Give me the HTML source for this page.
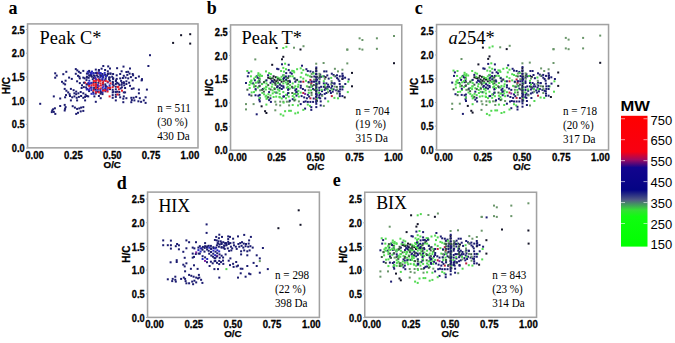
<!DOCTYPE html>
<html><head><meta charset="utf-8"><style>
html,body{margin:0;padding:0;background:#fff;}
svg{display:block;}
</style></head><body>
<svg width="675" height="343" viewBox="0 0 675 343">
<rect width="675" height="343" fill="#ffffff"/>
<text x="8.6" y="13.7" font-family='"Liberation Serif", serif' font-weight="bold" font-size="18">a</text>
<text x="206.8" y="13.9" font-family='"Liberation Serif", serif' font-weight="bold" font-size="18">b</text>
<text x="414.8" y="13.9" font-family='"Liberation Serif", serif' font-weight="bold" font-size="18">c</text>
<text x="116.8" y="189.0" font-family='"Liberation Serif", serif' font-weight="bold" font-size="18">d</text>
<text x="332.8" y="186.4" font-family='"Liberation Serif", serif' font-weight="bold" font-size="18">e</text>
<text transform="translate(39.6,43.6) scale(0.968,1)" font-family='"Liberation Serif", serif' font-size="19">Peak C*</text>
<text transform="translate(241.6,43.8) scale(0.968,1)" font-family='"Liberation Serif", serif' font-size="19">Peak T*</text>
<text transform="translate(448.5,43.6) scale(0.972,1)" font-family='"Liberation Serif", serif' font-size="19"><tspan font-style="italic">a</tspan>254*</text>
<text transform="translate(158.4,211.8) scale(0.94,1)" font-family='"Liberation Serif", serif' font-size="19">HIX</text>
<text transform="translate(376.2,209.3) scale(0.94,1)" font-family='"Liberation Serif", serif' font-size="19">BIX</text>
<text transform="translate(157.2,111.80) scale(0.96,1)" font-family='"Liberation Serif", serif' font-size="11.6">n = 511</text>
<text transform="translate(157.2,125.70) scale(0.96,1)" font-family='"Liberation Serif", serif' font-size="11.6">(30 %)</text>
<text transform="translate(157.2,139.60) scale(0.96,1)" font-family='"Liberation Serif", serif' font-size="11.6">430 Da</text>
<text transform="translate(355.4,114.50) scale(0.96,1)" font-family='"Liberation Serif", serif' font-size="11.6">n = 704</text>
<text transform="translate(355.4,128.40) scale(0.96,1)" font-family='"Liberation Serif", serif' font-size="11.6">(19 %)</text>
<text transform="translate(355.4,142.30) scale(0.96,1)" font-family='"Liberation Serif", serif' font-size="11.6">315 Da</text>
<text transform="translate(563.0,114.80) scale(0.96,1)" font-family='"Liberation Serif", serif' font-size="11.6">n = 718</text>
<text transform="translate(563.0,128.70) scale(0.96,1)" font-family='"Liberation Serif", serif' font-size="11.6">(20 %)</text>
<text transform="translate(563.0,142.60) scale(0.96,1)" font-family='"Liberation Serif", serif' font-size="11.6">317 Da</text>
<text transform="translate(275.0,279.20) scale(0.96,1)" font-family='"Liberation Serif", serif' font-size="11.6">n = 298</text>
<text transform="translate(275.0,293.10) scale(0.96,1)" font-family='"Liberation Serif", serif' font-size="11.6">(22 %)</text>
<text transform="translate(275.0,307.00) scale(0.96,1)" font-family='"Liberation Serif", serif' font-size="11.6">398 Da</text>
<text transform="translate(492.2,278.70) scale(0.96,1)" font-family='"Liberation Serif", serif' font-size="11.6">n = 843</text>
<text transform="translate(492.2,292.60) scale(0.96,1)" font-family='"Liberation Serif", serif' font-size="11.6">(23 %)</text>
<text transform="translate(492.2,306.50) scale(0.96,1)" font-family='"Liberation Serif", serif' font-size="11.6">314 Da</text>
<rect x="27.55" y="23.9" width="170.45" height="123.95" fill="none" stroke="#a2a2a2" stroke-width="1.55"/>
<line x1="25.95" x2="27.55" y1="148.00" y2="148.00" stroke="#b0b0b0" stroke-width="1"/>
<text transform="translate(24.75,152.10) scale(0.9,1)" text-anchor="end" font-family='"Liberation Sans", sans-serif' font-weight="bold" font-size="10.3" stroke="#000" stroke-width="0.3">0.0</text>
<line x1="25.95" x2="27.55" y1="124.30" y2="124.30" stroke="#b0b0b0" stroke-width="1"/>
<text transform="translate(24.75,128.40) scale(0.9,1)" text-anchor="end" font-family='"Liberation Sans", sans-serif' font-weight="bold" font-size="10.3" stroke="#000" stroke-width="0.3">0.5</text>
<line x1="25.95" x2="27.55" y1="100.60" y2="100.60" stroke="#b0b0b0" stroke-width="1"/>
<text transform="translate(24.75,104.70) scale(0.9,1)" text-anchor="end" font-family='"Liberation Sans", sans-serif' font-weight="bold" font-size="10.3" stroke="#000" stroke-width="0.3">1.0</text>
<line x1="25.95" x2="27.55" y1="76.90" y2="76.90" stroke="#b0b0b0" stroke-width="1"/>
<text transform="translate(24.75,81.00) scale(0.9,1)" text-anchor="end" font-family='"Liberation Sans", sans-serif' font-weight="bold" font-size="10.3" stroke="#000" stroke-width="0.3">1.5</text>
<line x1="25.95" x2="27.55" y1="53.20" y2="53.20" stroke="#b0b0b0" stroke-width="1"/>
<text transform="translate(24.75,57.30) scale(0.9,1)" text-anchor="end" font-family='"Liberation Sans", sans-serif' font-weight="bold" font-size="10.3" stroke="#000" stroke-width="0.3">2.0</text>
<line x1="25.95" x2="27.55" y1="29.50" y2="29.50" stroke="#b0b0b0" stroke-width="1"/>
<text transform="translate(24.75,33.60) scale(0.9,1)" text-anchor="end" font-family='"Liberation Sans", sans-serif' font-weight="bold" font-size="10.3" stroke="#000" stroke-width="0.3">2.5</text>
<text transform="translate(34.54,158.95) scale(0.93,1)" text-anchor="middle" font-family='"Liberation Sans", sans-serif' font-weight="bold" font-size="10.3" stroke="#000" stroke-width="0.3">0.00</text>
<text transform="translate(73.39,158.95) scale(0.93,1)" text-anchor="middle" font-family='"Liberation Sans", sans-serif' font-weight="bold" font-size="10.3" stroke="#000" stroke-width="0.3">0.25</text>
<text transform="translate(112.23,158.95) scale(0.93,1)" text-anchor="middle" font-family='"Liberation Sans", sans-serif' font-weight="bold" font-size="10.3" stroke="#000" stroke-width="0.3">0.50</text>
<text transform="translate(151.08,158.95) scale(0.93,1)" text-anchor="middle" font-family='"Liberation Sans", sans-serif' font-weight="bold" font-size="10.3" stroke="#000" stroke-width="0.3">0.75</text>
<text transform="translate(189.92,158.95) scale(0.93,1)" text-anchor="middle" font-family='"Liberation Sans", sans-serif' font-weight="bold" font-size="10.3" stroke="#000" stroke-width="0.3">1.00</text>
<text x="112.23" y="167.55" text-anchor="middle" font-family='"Liberation Sans", sans-serif' font-weight="bold" font-size="9.8" stroke="#000" stroke-width="0.25">O/C</text>
<text transform="translate(9.90,85.70) rotate(-90)" text-anchor="middle" font-family='"Liberation Sans", sans-serif' font-weight="bold" font-size="10" stroke="#000" stroke-width="0.25">H/C</text>
<rect x="230.55" y="24.9" width="171.20" height="125.35" fill="none" stroke="#a2a2a2" stroke-width="1.55"/>
<line x1="228.95" x2="230.55" y1="150.30" y2="150.30" stroke="#b0b0b0" stroke-width="1"/>
<text transform="translate(227.75,154.40) scale(0.9,1)" text-anchor="end" font-family='"Liberation Sans", sans-serif' font-weight="bold" font-size="10.3" stroke="#000" stroke-width="0.3">0.0</text>
<line x1="228.95" x2="230.55" y1="126.60" y2="126.60" stroke="#b0b0b0" stroke-width="1"/>
<text transform="translate(227.75,130.70) scale(0.9,1)" text-anchor="end" font-family='"Liberation Sans", sans-serif' font-weight="bold" font-size="10.3" stroke="#000" stroke-width="0.3">0.5</text>
<line x1="228.95" x2="230.55" y1="102.90" y2="102.90" stroke="#b0b0b0" stroke-width="1"/>
<text transform="translate(227.75,107.00) scale(0.9,1)" text-anchor="end" font-family='"Liberation Sans", sans-serif' font-weight="bold" font-size="10.3" stroke="#000" stroke-width="0.3">1.0</text>
<line x1="228.95" x2="230.55" y1="79.20" y2="79.20" stroke="#b0b0b0" stroke-width="1"/>
<text transform="translate(227.75,83.30) scale(0.9,1)" text-anchor="end" font-family='"Liberation Sans", sans-serif' font-weight="bold" font-size="10.3" stroke="#000" stroke-width="0.3">1.5</text>
<line x1="228.95" x2="230.55" y1="55.50" y2="55.50" stroke="#b0b0b0" stroke-width="1"/>
<text transform="translate(227.75,59.60) scale(0.9,1)" text-anchor="end" font-family='"Liberation Sans", sans-serif' font-weight="bold" font-size="10.3" stroke="#000" stroke-width="0.3">2.0</text>
<line x1="228.95" x2="230.55" y1="31.80" y2="31.80" stroke="#b0b0b0" stroke-width="1"/>
<text transform="translate(227.75,35.90) scale(0.9,1)" text-anchor="end" font-family='"Liberation Sans", sans-serif' font-weight="bold" font-size="10.3" stroke="#000" stroke-width="0.3">2.5</text>
<text transform="translate(237.57,160.85) scale(0.93,1)" text-anchor="middle" font-family='"Liberation Sans", sans-serif' font-weight="bold" font-size="10.3" stroke="#000" stroke-width="0.3">0.00</text>
<text transform="translate(276.59,160.85) scale(0.93,1)" text-anchor="middle" font-family='"Liberation Sans", sans-serif' font-weight="bold" font-size="10.3" stroke="#000" stroke-width="0.3">0.25</text>
<text transform="translate(315.60,160.85) scale(0.93,1)" text-anchor="middle" font-family='"Liberation Sans", sans-serif' font-weight="bold" font-size="10.3" stroke="#000" stroke-width="0.3">0.50</text>
<text transform="translate(354.62,160.85) scale(0.93,1)" text-anchor="middle" font-family='"Liberation Sans", sans-serif' font-weight="bold" font-size="10.3" stroke="#000" stroke-width="0.3">0.75</text>
<text transform="translate(393.63,160.85) scale(0.93,1)" text-anchor="middle" font-family='"Liberation Sans", sans-serif' font-weight="bold" font-size="10.3" stroke="#000" stroke-width="0.3">1.00</text>
<text x="315.60" y="169.95" text-anchor="middle" font-family='"Liberation Sans", sans-serif' font-weight="bold" font-size="9.8" stroke="#000" stroke-width="0.25">O/C</text>
<text transform="translate(212.50,87.30) rotate(-90)" text-anchor="middle" font-family='"Liberation Sans", sans-serif' font-weight="bold" font-size="10" stroke="#000" stroke-width="0.25">H/C</text>
<rect x="436.55" y="24.55" width="172.00" height="125.50" fill="none" stroke="#a2a2a2" stroke-width="1.55"/>
<line x1="434.95" x2="436.55" y1="149.80" y2="149.80" stroke="#b0b0b0" stroke-width="1"/>
<text transform="translate(433.75,153.90) scale(0.9,1)" text-anchor="end" font-family='"Liberation Sans", sans-serif' font-weight="bold" font-size="10.3" stroke="#000" stroke-width="0.3">0.0</text>
<line x1="434.95" x2="436.55" y1="126.10" y2="126.10" stroke="#b0b0b0" stroke-width="1"/>
<text transform="translate(433.75,130.20) scale(0.9,1)" text-anchor="end" font-family='"Liberation Sans", sans-serif' font-weight="bold" font-size="10.3" stroke="#000" stroke-width="0.3">0.5</text>
<line x1="434.95" x2="436.55" y1="102.40" y2="102.40" stroke="#b0b0b0" stroke-width="1"/>
<text transform="translate(433.75,106.50) scale(0.9,1)" text-anchor="end" font-family='"Liberation Sans", sans-serif' font-weight="bold" font-size="10.3" stroke="#000" stroke-width="0.3">1.0</text>
<line x1="434.95" x2="436.55" y1="78.70" y2="78.70" stroke="#b0b0b0" stroke-width="1"/>
<text transform="translate(433.75,82.80) scale(0.9,1)" text-anchor="end" font-family='"Liberation Sans", sans-serif' font-weight="bold" font-size="10.3" stroke="#000" stroke-width="0.3">1.5</text>
<line x1="434.95" x2="436.55" y1="55.00" y2="55.00" stroke="#b0b0b0" stroke-width="1"/>
<text transform="translate(433.75,59.10) scale(0.9,1)" text-anchor="end" font-family='"Liberation Sans", sans-serif' font-weight="bold" font-size="10.3" stroke="#000" stroke-width="0.3">2.0</text>
<line x1="434.95" x2="436.55" y1="31.30" y2="31.30" stroke="#b0b0b0" stroke-width="1"/>
<text transform="translate(433.75,35.40) scale(0.9,1)" text-anchor="end" font-family='"Liberation Sans", sans-serif' font-weight="bold" font-size="10.3" stroke="#000" stroke-width="0.3">2.5</text>
<text transform="translate(443.61,160.65) scale(0.93,1)" text-anchor="middle" font-family='"Liberation Sans", sans-serif' font-weight="bold" font-size="10.3" stroke="#000" stroke-width="0.3">0.00</text>
<text transform="translate(482.80,160.65) scale(0.93,1)" text-anchor="middle" font-family='"Liberation Sans", sans-serif' font-weight="bold" font-size="10.3" stroke="#000" stroke-width="0.3">0.25</text>
<text transform="translate(522.00,160.65) scale(0.93,1)" text-anchor="middle" font-family='"Liberation Sans", sans-serif' font-weight="bold" font-size="10.3" stroke="#000" stroke-width="0.3">0.50</text>
<text transform="translate(561.20,160.65) scale(0.93,1)" text-anchor="middle" font-family='"Liberation Sans", sans-serif' font-weight="bold" font-size="10.3" stroke="#000" stroke-width="0.3">0.75</text>
<text transform="translate(600.40,160.65) scale(0.93,1)" text-anchor="middle" font-family='"Liberation Sans", sans-serif' font-weight="bold" font-size="10.3" stroke="#000" stroke-width="0.3">1.00</text>
<text x="522.00" y="169.75" text-anchor="middle" font-family='"Liberation Sans", sans-serif' font-weight="bold" font-size="9.8" stroke="#000" stroke-width="0.25">O/C</text>
<text transform="translate(418.40,86.40) rotate(-90)" text-anchor="middle" font-family='"Liberation Sans", sans-serif' font-weight="bold" font-size="10" stroke="#000" stroke-width="0.25">H/C</text>
<rect x="147.55" y="192.1" width="171.85" height="125.30" fill="none" stroke="#a2a2a2" stroke-width="1.55"/>
<line x1="145.95" x2="147.55" y1="317.50" y2="317.50" stroke="#b0b0b0" stroke-width="1"/>
<text transform="translate(144.75,321.60) scale(0.9,1)" text-anchor="end" font-family='"Liberation Sans", sans-serif' font-weight="bold" font-size="10.3" stroke="#000" stroke-width="0.3">0.0</text>
<line x1="145.95" x2="147.55" y1="293.80" y2="293.80" stroke="#b0b0b0" stroke-width="1"/>
<text transform="translate(144.75,297.90) scale(0.9,1)" text-anchor="end" font-family='"Liberation Sans", sans-serif' font-weight="bold" font-size="10.3" stroke="#000" stroke-width="0.3">0.5</text>
<line x1="145.95" x2="147.55" y1="270.10" y2="270.10" stroke="#b0b0b0" stroke-width="1"/>
<text transform="translate(144.75,274.20) scale(0.9,1)" text-anchor="end" font-family='"Liberation Sans", sans-serif' font-weight="bold" font-size="10.3" stroke="#000" stroke-width="0.3">1.0</text>
<line x1="145.95" x2="147.55" y1="246.40" y2="246.40" stroke="#b0b0b0" stroke-width="1"/>
<text transform="translate(144.75,250.50) scale(0.9,1)" text-anchor="end" font-family='"Liberation Sans", sans-serif' font-weight="bold" font-size="10.3" stroke="#000" stroke-width="0.3">1.5</text>
<line x1="145.95" x2="147.55" y1="222.70" y2="222.70" stroke="#b0b0b0" stroke-width="1"/>
<text transform="translate(144.75,226.80) scale(0.9,1)" text-anchor="end" font-family='"Liberation Sans", sans-serif' font-weight="bold" font-size="10.3" stroke="#000" stroke-width="0.3">2.0</text>
<line x1="145.95" x2="147.55" y1="199.00" y2="199.00" stroke="#b0b0b0" stroke-width="1"/>
<text transform="translate(144.75,203.10) scale(0.9,1)" text-anchor="end" font-family='"Liberation Sans", sans-serif' font-weight="bold" font-size="10.3" stroke="#000" stroke-width="0.3">2.5</text>
<text transform="translate(154.60,328.00) scale(0.93,1)" text-anchor="middle" font-family='"Liberation Sans", sans-serif' font-weight="bold" font-size="10.3" stroke="#000" stroke-width="0.3">0.00</text>
<text transform="translate(193.76,328.00) scale(0.93,1)" text-anchor="middle" font-family='"Liberation Sans", sans-serif' font-weight="bold" font-size="10.3" stroke="#000" stroke-width="0.3">0.25</text>
<text transform="translate(232.93,328.00) scale(0.93,1)" text-anchor="middle" font-family='"Liberation Sans", sans-serif' font-weight="bold" font-size="10.3" stroke="#000" stroke-width="0.3">0.50</text>
<text transform="translate(272.09,328.00) scale(0.93,1)" text-anchor="middle" font-family='"Liberation Sans", sans-serif' font-weight="bold" font-size="10.3" stroke="#000" stroke-width="0.3">0.75</text>
<text transform="translate(311.25,328.00) scale(0.93,1)" text-anchor="middle" font-family='"Liberation Sans", sans-serif' font-weight="bold" font-size="10.3" stroke="#000" stroke-width="0.3">1.00</text>
<text x="232.93" y="337.10" text-anchor="middle" font-family='"Liberation Sans", sans-serif' font-weight="bold" font-size="9.8" stroke="#000" stroke-width="0.25">O/C</text>
<text transform="translate(129.60,254.20) rotate(-90)" text-anchor="middle" font-family='"Liberation Sans", sans-serif' font-weight="bold" font-size="10" stroke="#000" stroke-width="0.25">H/C</text>
<rect x="364.75" y="192.25" width="171.80" height="125.05" fill="none" stroke="#a2a2a2" stroke-width="1.55"/>
<line x1="363.15" x2="364.75" y1="317.60" y2="317.60" stroke="#b0b0b0" stroke-width="1"/>
<text transform="translate(361.95,321.70) scale(0.9,1)" text-anchor="end" font-family='"Liberation Sans", sans-serif' font-weight="bold" font-size="10.3" stroke="#000" stroke-width="0.3">0.0</text>
<line x1="363.15" x2="364.75" y1="293.90" y2="293.90" stroke="#b0b0b0" stroke-width="1"/>
<text transform="translate(361.95,298.00) scale(0.9,1)" text-anchor="end" font-family='"Liberation Sans", sans-serif' font-weight="bold" font-size="10.3" stroke="#000" stroke-width="0.3">0.5</text>
<line x1="363.15" x2="364.75" y1="270.20" y2="270.20" stroke="#b0b0b0" stroke-width="1"/>
<text transform="translate(361.95,274.30) scale(0.9,1)" text-anchor="end" font-family='"Liberation Sans", sans-serif' font-weight="bold" font-size="10.3" stroke="#000" stroke-width="0.3">1.0</text>
<line x1="363.15" x2="364.75" y1="246.50" y2="246.50" stroke="#b0b0b0" stroke-width="1"/>
<text transform="translate(361.95,250.60) scale(0.9,1)" text-anchor="end" font-family='"Liberation Sans", sans-serif' font-weight="bold" font-size="10.3" stroke="#000" stroke-width="0.3">1.5</text>
<line x1="363.15" x2="364.75" y1="222.80" y2="222.80" stroke="#b0b0b0" stroke-width="1"/>
<text transform="translate(361.95,226.90) scale(0.9,1)" text-anchor="end" font-family='"Liberation Sans", sans-serif' font-weight="bold" font-size="10.3" stroke="#000" stroke-width="0.3">2.0</text>
<line x1="363.15" x2="364.75" y1="199.10" y2="199.10" stroke="#b0b0b0" stroke-width="1"/>
<text transform="translate(361.95,203.20) scale(0.9,1)" text-anchor="end" font-family='"Liberation Sans", sans-serif' font-weight="bold" font-size="10.3" stroke="#000" stroke-width="0.3">2.5</text>
<text transform="translate(371.80,327.90) scale(0.93,1)" text-anchor="middle" font-family='"Liberation Sans", sans-serif' font-weight="bold" font-size="10.3" stroke="#000" stroke-width="0.3">0.00</text>
<text transform="translate(410.95,327.90) scale(0.93,1)" text-anchor="middle" font-family='"Liberation Sans", sans-serif' font-weight="bold" font-size="10.3" stroke="#000" stroke-width="0.3">0.25</text>
<text transform="translate(450.10,327.90) scale(0.93,1)" text-anchor="middle" font-family='"Liberation Sans", sans-serif' font-weight="bold" font-size="10.3" stroke="#000" stroke-width="0.3">0.50</text>
<text transform="translate(489.25,327.90) scale(0.93,1)" text-anchor="middle" font-family='"Liberation Sans", sans-serif' font-weight="bold" font-size="10.3" stroke="#000" stroke-width="0.3">0.75</text>
<text transform="translate(528.41,327.90) scale(0.93,1)" text-anchor="middle" font-family='"Liberation Sans", sans-serif' font-weight="bold" font-size="10.3" stroke="#000" stroke-width="0.3">1.00</text>
<text x="450.10" y="337.00" text-anchor="middle" font-family='"Liberation Sans", sans-serif' font-weight="bold" font-size="9.8" stroke="#000" stroke-width="0.25">O/C</text>
<text transform="translate(347.10,254.50) rotate(-90)" text-anchor="middle" font-family='"Liberation Sans", sans-serif' font-weight="bold" font-size="10" stroke="#000" stroke-width="0.25">H/C</text>
<rect x="180.1" y="34.2" width="2" height="2" fill="#141428"/>
<rect x="189.2" y="33.2" width="2" height="2" fill="#141428"/>
<rect x="172.1" y="41.9" width="2" height="2" fill="#141428"/>
<rect x="189.2" y="42.6" width="2" height="2" fill="#141428"/>
<rect x="149.0" y="54.2" width="2" height="2" fill="#1c1c70"/>
<rect x="147.4" y="65.0" width="2" height="2" fill="#1c1c70"/>
<rect x="141.0" y="78.6" width="2" height="2" fill="#1c1c70"/>
<rect x="54.2" y="72.3" width="2" height="2" fill="#1c1c70"/>
<rect x="55.7" y="74.6" width="2" height="2" fill="#1c1c70"/>
<rect x="54.2" y="76.7" width="2" height="2" fill="#1c1c70"/>
<rect x="62.3" y="73.2" width="2" height="2" fill="#1c1c70"/>
<rect x="65.3" y="70.8" width="2" height="2" fill="#1c1c70"/>
<rect x="68.1" y="76.6" width="2" height="2" fill="#1c1c70"/>
<rect x="70.8" y="77.9" width="2" height="2" fill="#1c1c70"/>
<rect x="74.8" y="68.1" width="2" height="2" fill="#1c1c70"/>
<rect x="76.3" y="69.4" width="2" height="2" fill="#1c1c70"/>
<rect x="77.9" y="70.8" width="2" height="2" fill="#1c1c70"/>
<rect x="79.5" y="71.9" width="2" height="2" fill="#1c1c70"/>
<rect x="74.8" y="72.8" width="2" height="2" fill="#1c1c70"/>
<rect x="77.0" y="74.8" width="2" height="2" fill="#1c1c70"/>
<rect x="78.3" y="75.7" width="2" height="2" fill="#1c1c70"/>
<rect x="82.3" y="69.9" width="2" height="2" fill="#1c1c70"/>
<rect x="88.1" y="69.9" width="2" height="2" fill="#1c1c70"/>
<rect x="78.8" y="77.4" width="2" height="2" fill="#1c1c70"/>
<rect x="82.3" y="76.6" width="2" height="2" fill="#1c1c70"/>
<rect x="85.9" y="75.7" width="2" height="2" fill="#1c1c70"/>
<rect x="102.3" y="65.0" width="2" height="2" fill="#1c1c70"/>
<rect x="107.2" y="65.4" width="2" height="2" fill="#1c1c70"/>
<rect x="100.6" y="67.7" width="2" height="2" fill="#1c1c70"/>
<rect x="109.0" y="67.5" width="2" height="2" fill="#1c1c70"/>
<rect x="94.8" y="68.6" width="2" height="2" fill="#1c1c70"/>
<rect x="97.9" y="69.0" width="2" height="2" fill="#1c1c70"/>
<rect x="104.1" y="69.0" width="2" height="2" fill="#1c1c70"/>
<rect x="106.8" y="70.3" width="2" height="2" fill="#1c1c70"/>
<rect x="116.1" y="67.2" width="2" height="2" fill="#1c1c70"/>
<rect x="122.5" y="65.6" width="2" height="2" fill="#1c1c70"/>
<rect x="129.0" y="67.5" width="2" height="2" fill="#1c1c70"/>
<rect x="120.6" y="70.3" width="2" height="2" fill="#1c1c70"/>
<rect x="125.4" y="71.0" width="2" height="2" fill="#1c1c70"/>
<rect x="127.2" y="70.8" width="2" height="2" fill="#1c1c70"/>
<rect x="112.1" y="73.0" width="2" height="2" fill="#1c1c70"/>
<rect x="115.7" y="74.3" width="2" height="2" fill="#1c1c70"/>
<rect x="119.2" y="73.0" width="2" height="2" fill="#1c1c70"/>
<rect x="122.8" y="74.8" width="2" height="2" fill="#1c1c70"/>
<rect x="126.3" y="73.9" width="2" height="2" fill="#1c1c70"/>
<rect x="128.6" y="72.6" width="2" height="2" fill="#1c1c70"/>
<rect x="131.7" y="73.0" width="2" height="2" fill="#1c1c70"/>
<rect x="132.1" y="74.3" width="2" height="2" fill="#1c1c70"/>
<rect x="134.8" y="77.0" width="2" height="2" fill="#1c1c70"/>
<rect x="137.9" y="75.5" width="2" height="2" fill="#1c1c70"/>
<rect x="141.0" y="78.2" width="2" height="2" fill="#1c1c70"/>
<rect x="89.9" y="73.0" width="2" height="2" fill="#1c1c70"/>
<rect x="92.6" y="72.1" width="2" height="2" fill="#1c1c70"/>
<rect x="95.7" y="71.7" width="2" height="2" fill="#1c1c70"/>
<rect x="98.8" y="72.6" width="2" height="2" fill="#1c1c70"/>
<rect x="101.4" y="73.0" width="2" height="2" fill="#1c1c70"/>
<rect x="104.1" y="73.9" width="2" height="2" fill="#1c1c70"/>
<rect x="106.8" y="73.0" width="2" height="2" fill="#1c1c70"/>
<rect x="109.4" y="72.6" width="2" height="2" fill="#1c1c70"/>
<rect x="90.8" y="75.7" width="2" height="2" fill="#1c1c70"/>
<rect x="93.9" y="77.4" width="2" height="2" fill="#e8202a"/>
<rect x="97.0" y="75.7" width="2" height="2" fill="#1c1c70"/>
<rect x="99.7" y="75.2" width="2" height="2" fill="#1c1c70"/>
<rect x="102.3" y="76.1" width="2" height="2" fill="#1c1c70"/>
<rect x="105.0" y="75.7" width="2" height="2" fill="#1c1c70"/>
<rect x="108.1" y="76.6" width="2" height="2" fill="#1c1c70"/>
<rect x="111.2" y="75.7" width="2" height="2" fill="#1c1c70"/>
<rect x="91.7" y="78.3" width="2" height="2" fill="#1c1c70"/>
<rect x="95.2" y="78.3" width="2" height="2" fill="#e8202a"/>
<rect x="97.9" y="78.3" width="2" height="2" fill="#1c1c70"/>
<rect x="101.4" y="78.3" width="2" height="2" fill="#1c1c70"/>
<rect x="104.6" y="77.9" width="2" height="2" fill="#1c1c70"/>
<rect x="108.1" y="78.3" width="2" height="2" fill="#1c1c70"/>
<rect x="112.1" y="77.9" width="2" height="2" fill="#1c1c70"/>
<rect x="115.7" y="77.9" width="2" height="2" fill="#1c1c70"/>
<rect x="119.2" y="77.4" width="2" height="2" fill="#1c1c70"/>
<rect x="121.9" y="77.0" width="2" height="2" fill="#1c1c70"/>
<rect x="124.6" y="76.6" width="2" height="2" fill="#1c1c70"/>
<rect x="127.2" y="77.4" width="2" height="2" fill="#1c1c70"/>
<rect x="129.9" y="76.1" width="2" height="2" fill="#1c1c70"/>
<rect x="61.0" y="80.8" width="2" height="2" fill="#1c1c70"/>
<rect x="62.6" y="82.4" width="2" height="2" fill="#1c1c70"/>
<rect x="64.1" y="83.4" width="2" height="2" fill="#1c1c70"/>
<rect x="64.6" y="79.7" width="2" height="2" fill="#1c1c70"/>
<rect x="76.1" y="80.3" width="2" height="2" fill="#1c1c70"/>
<rect x="78.8" y="82.1" width="2" height="2" fill="#1c1c70"/>
<rect x="81.0" y="84.3" width="2" height="2" fill="#1c1c70"/>
<rect x="82.8" y="86.1" width="2" height="2" fill="#1c1c70"/>
<rect x="84.1" y="81.7" width="2" height="2" fill="#e8202a"/>
<rect x="86.3" y="83.0" width="2" height="2" fill="#e8202a"/>
<rect x="87.7" y="84.3" width="2" height="2" fill="#1c1c70"/>
<rect x="85.9" y="87.9" width="2" height="2" fill="#1c1c70"/>
<rect x="88.1" y="90.1" width="2" height="2" fill="#1c1c70"/>
<rect x="80.6" y="87.0" width="2" height="2" fill="#1c1c70"/>
<rect x="63.7" y="87.9" width="2" height="2" fill="#1c1c70"/>
<rect x="65.4" y="89.7" width="2" height="2" fill="#1c1c70"/>
<rect x="67.2" y="91.4" width="2" height="2" fill="#1c1c70"/>
<rect x="68.6" y="93.2" width="2" height="2" fill="#1c1c70"/>
<rect x="69.9" y="87.9" width="2" height="2" fill="#1c1c70"/>
<rect x="72.6" y="89.2" width="2" height="2" fill="#1c1c70"/>
<rect x="75.2" y="90.6" width="2" height="2" fill="#1c1c70"/>
<rect x="77.4" y="92.3" width="2" height="2" fill="#1c1c70"/>
<rect x="73.4" y="92.3" width="2" height="2" fill="#1c1c70"/>
<rect x="75.2" y="93.2" width="2" height="2" fill="#1c1c70"/>
<rect x="79.7" y="91.0" width="2" height="2" fill="#1c1c70"/>
<rect x="82.3" y="92.3" width="2" height="2" fill="#1c1c70"/>
<rect x="84.6" y="93.7" width="2" height="2" fill="#1c1c70"/>
<rect x="87.2" y="95.4" width="2" height="2" fill="#1c1c70"/>
<rect x="65.0" y="94.1" width="2" height="2" fill="#1c1c70"/>
<rect x="64.1" y="96.3" width="2" height="2" fill="#1c1c70"/>
<rect x="69.0" y="95.0" width="2" height="2" fill="#1c1c70"/>
<rect x="71.2" y="96.3" width="2" height="2" fill="#1c1c70"/>
<rect x="73.4" y="95.4" width="2" height="2" fill="#1c1c70"/>
<rect x="75.7" y="96.8" width="2" height="2" fill="#1c1c70"/>
<rect x="77.9" y="95.9" width="2" height="2" fill="#1c1c70"/>
<rect x="80.1" y="95.0" width="2" height="2" fill="#1c1c70"/>
<rect x="82.3" y="96.8" width="2" height="2" fill="#1c1c70"/>
<rect x="84.1" y="95.9" width="2" height="2" fill="#1c1c70"/>
<rect x="85.9" y="95.0" width="2" height="2" fill="#1c1c70"/>
<rect x="69.9" y="99.4" width="2" height="2" fill="#1c1c70"/>
<rect x="76.1" y="99.4" width="2" height="2" fill="#1c1c70"/>
<rect x="84.1" y="99.4" width="2" height="2" fill="#1c1c70"/>
<rect x="52.8" y="95.4" width="2" height="2" fill="#1c1c70"/>
<rect x="59.2" y="97.5" width="2" height="2" fill="#1c1c70"/>
<rect x="39.2" y="102.8" width="2" height="2" fill="#1c1c70"/>
<rect x="59.2" y="105.0" width="2" height="2" fill="#1c1c70"/>
<rect x="63.7" y="103.9" width="2" height="2" fill="#1c1c70"/>
<rect x="64.6" y="106.1" width="2" height="2" fill="#1c1c70"/>
<rect x="64.1" y="107.9" width="2" height="2" fill="#1c1c70"/>
<rect x="71.7" y="105.2" width="2" height="2" fill="#1c1c70"/>
<rect x="73.9" y="106.6" width="2" height="2" fill="#1c1c70"/>
<rect x="76.1" y="107.9" width="2" height="2" fill="#1c1c70"/>
<rect x="78.3" y="107.4" width="2" height="2" fill="#1c1c70"/>
<rect x="80.1" y="106.6" width="2" height="2" fill="#1c1c70"/>
<rect x="82.3" y="106.1" width="2" height="2" fill="#1c1c70"/>
<rect x="52.1" y="108.3" width="2" height="2" fill="#1c1c70"/>
<rect x="53.9" y="107.3" width="2" height="2" fill="#1c1c70"/>
<rect x="111.7" y="80.8" width="2" height="2" fill="#1c1c70"/>
<rect x="111.7" y="83.4" width="2" height="2" fill="#1c1c70"/>
<rect x="111.7" y="86.1" width="2" height="2" fill="#e8202a"/>
<rect x="111.7" y="88.8" width="2" height="2" fill="#1c1c70"/>
<rect x="111.7" y="91.4" width="2" height="2" fill="#1c1c70"/>
<rect x="111.7" y="94.1" width="2" height="2" fill="#1c1c70"/>
<rect x="111.7" y="96.8" width="2" height="2" fill="#1c1c70"/>
<rect x="114.8" y="80.3" width="2" height="2" fill="#1c1c70"/>
<rect x="114.8" y="83.0" width="2" height="2" fill="#1c1c70"/>
<rect x="114.8" y="85.7" width="2" height="2" fill="#1c1c70"/>
<rect x="114.8" y="88.3" width="2" height="2" fill="#1c1c70"/>
<rect x="114.8" y="91.0" width="2" height="2" fill="#1c1c70"/>
<rect x="114.8" y="93.7" width="2" height="2" fill="#1c1c70"/>
<rect x="114.8" y="95.9" width="2" height="2" fill="#1c1c70"/>
<rect x="114.8" y="99.4" width="2" height="2" fill="#1c1c70"/>
<rect x="117.4" y="82.6" width="2" height="2" fill="#1c1c70"/>
<rect x="117.4" y="85.7" width="2" height="2" fill="#e8202a"/>
<rect x="117.9" y="88.3" width="2" height="2" fill="#e8202a"/>
<rect x="118.3" y="91.0" width="2" height="2" fill="#1c1c70"/>
<rect x="118.3" y="93.7" width="2" height="2" fill="#1c1c70"/>
<rect x="119.2" y="96.3" width="2" height="2" fill="#1c1c70"/>
<rect x="119.7" y="87.4" width="2" height="2" fill="#1c1c70"/>
<rect x="121.0" y="89.7" width="2" height="2" fill="#e8202a"/>
<rect x="122.8" y="91.4" width="2" height="2" fill="#1c1c70"/>
<rect x="124.1" y="91.4" width="2" height="2" fill="#1c1c70"/>
<rect x="120.1" y="79.9" width="2" height="2" fill="#1c1c70"/>
<rect x="122.8" y="81.2" width="2" height="2" fill="#1c1c70"/>
<rect x="125.4" y="80.3" width="2" height="2" fill="#1c1c70"/>
<rect x="128.1" y="81.7" width="2" height="2" fill="#1c1c70"/>
<rect x="125.4" y="83.0" width="2" height="2" fill="#1c1c70"/>
<rect x="123.2" y="84.3" width="2" height="2" fill="#1c1c70"/>
<rect x="129.0" y="84.8" width="2" height="2" fill="#1c1c70"/>
<rect x="130.8" y="87.9" width="2" height="2" fill="#1c1c70"/>
<rect x="132.6" y="87.4" width="2" height="2" fill="#1c1c70"/>
<rect x="124.1" y="87.0" width="2" height="2" fill="#1c1c70"/>
<rect x="137.9" y="88.6" width="2" height="2" fill="#1c1c70"/>
<rect x="145.9" y="88.6" width="2" height="2" fill="#1c1c70"/>
<rect x="137.9" y="92.3" width="2" height="2" fill="#1c1c70"/>
<rect x="122.8" y="95.4" width="2" height="2" fill="#1c1c70"/>
<rect x="122.3" y="97.7" width="2" height="2" fill="#1c1c70"/>
<rect x="125.4" y="97.2" width="2" height="2" fill="#1c1c70"/>
<rect x="130.3" y="96.8" width="2" height="2" fill="#1c1c70"/>
<rect x="132.6" y="96.8" width="2" height="2" fill="#1c1c70"/>
<rect x="135.2" y="95.9" width="2" height="2" fill="#1c1c70"/>
<rect x="130.8" y="99.0" width="2" height="2" fill="#1c1c70"/>
<rect x="133.4" y="99.4" width="2" height="2" fill="#1c1c70"/>
<rect x="138.8" y="97.2" width="2" height="2" fill="#1c1c70"/>
<rect x="144.6" y="96.3" width="2" height="2" fill="#1c1c70"/>
<rect x="142.8" y="99.4" width="2" height="2" fill="#1c1c70"/>
<rect x="122.3" y="101.2" width="2" height="2" fill="#1c1c70"/>
<rect x="130.3" y="101.2" width="2" height="2" fill="#1c1c70"/>
<rect x="137.4" y="100.3" width="2" height="2" fill="#1c1c70"/>
<rect x="140.1" y="100.8" width="2" height="2" fill="#1c1c70"/>
<rect x="144.6" y="101.9" width="2" height="2" fill="#1c1c70"/>
<rect x="93.4" y="95.4" width="2" height="2" fill="#1c1c70"/>
<rect x="97.9" y="95.0" width="2" height="2" fill="#1c1c70"/>
<rect x="99.7" y="97.2" width="2" height="2" fill="#1c1c70"/>
<rect x="94.8" y="100.8" width="2" height="2" fill="#1c1c70"/>
<rect x="108.6" y="95.4" width="2" height="2" fill="#e8202a"/>
<rect x="131.7" y="79.4" width="2" height="2" fill="#1c1c70"/>
<rect x="140.6" y="79.4" width="2" height="2" fill="#1c1c70"/>
<rect x="87.4" y="72.6" width="2" height="2" fill="#2828c0"/>
<rect x="89.9" y="71.9" width="2" height="2" fill="#2828c0"/>
<rect x="92.4" y="72.6" width="2" height="2" fill="#2828c0"/>
<rect x="94.9" y="71.9" width="2" height="2" fill="#2828c0"/>
<rect x="96.8" y="72.4" width="2" height="2" fill="#e8202a"/>
<rect x="99.0" y="72.1" width="2" height="2" fill="#2828c0"/>
<rect x="103.7" y="71.9" width="2" height="2" fill="#2828c0"/>
<rect x="88.1" y="74.5" width="2" height="2" fill="#1c1c70"/>
<rect x="90.1" y="74.3" width="2" height="2" fill="#1c1c70"/>
<rect x="92.6" y="74.6" width="2" height="2" fill="#1c1c70"/>
<rect x="99.4" y="74.3" width="2" height="2" fill="#1c1c70"/>
<rect x="101.2" y="74.8" width="2" height="2" fill="#1c1c70"/>
<rect x="106.1" y="74.5" width="2" height="2" fill="#1c1c70"/>
<rect x="83.6" y="77.3" width="2" height="2" fill="#1c1c70"/>
<rect x="85.8" y="76.7" width="2" height="2" fill="#1c1c70"/>
<rect x="87.7" y="76.8" width="2" height="2" fill="#1c1c70"/>
<rect x="92.6" y="76.9" width="2" height="2" fill="#1c1c70"/>
<rect x="94.5" y="76.8" width="2" height="2" fill="#2828c0"/>
<rect x="99.2" y="76.5" width="2" height="2" fill="#2828c0"/>
<rect x="101.6" y="76.8" width="2" height="2" fill="#2828c0"/>
<rect x="108.8" y="76.4" width="2" height="2" fill="#1c1c70"/>
<rect x="85.5" y="79.1" width="2" height="2" fill="#1c1c70"/>
<rect x="88.3" y="79.7" width="2" height="2" fill="#2828c0"/>
<rect x="95.1" y="79.1" width="2" height="2" fill="#2828c0"/>
<rect x="97.2" y="78.8" width="2" height="2" fill="#e8202a"/>
<rect x="99.0" y="79.3" width="2" height="2" fill="#1c1c70"/>
<rect x="101.3" y="79.1" width="2" height="2" fill="#2828c0"/>
<rect x="103.9" y="79.3" width="2" height="2" fill="#2828c0"/>
<rect x="108.9" y="79.7" width="2" height="2" fill="#1c1c70"/>
<rect x="82.9" y="81.7" width="2" height="2" fill="#1c1c70"/>
<rect x="87.4" y="82.0" width="2" height="2" fill="#2828c0"/>
<rect x="90.6" y="81.8" width="2" height="2" fill="#2828c0"/>
<rect x="92.7" y="81.3" width="2" height="2" fill="#1c1c70"/>
<rect x="94.8" y="81.8" width="2" height="2" fill="#1c1c70"/>
<rect x="97.4" y="81.8" width="2" height="2" fill="#1c1c70"/>
<rect x="101.9" y="82.0" width="2" height="2" fill="#1c1c70"/>
<rect x="106.8" y="81.4" width="2" height="2" fill="#2828c0"/>
<rect x="85.6" y="83.6" width="2" height="2" fill="#1c1c70"/>
<rect x="88.2" y="83.8" width="2" height="2" fill="#2828c0"/>
<rect x="95.1" y="84.1" width="2" height="2" fill="#1c1c70"/>
<rect x="96.9" y="84.1" width="2" height="2" fill="#2828c0"/>
<rect x="101.9" y="83.5" width="2" height="2" fill="#1c1c70"/>
<rect x="104.3" y="83.4" width="2" height="2" fill="#1c1c70"/>
<rect x="85.1" y="86.4" width="2" height="2" fill="#1c1c70"/>
<rect x="90.1" y="86.5" width="2" height="2" fill="#1c1c70"/>
<rect x="94.8" y="86.4" width="2" height="2" fill="#1c1c70"/>
<rect x="96.7" y="86.3" width="2" height="2" fill="#1c1c70"/>
<rect x="105.9" y="85.8" width="2" height="2" fill="#2828c0"/>
<rect x="108.7" y="86.4" width="2" height="2" fill="#1c1c70"/>
<rect x="85.8" y="88.5" width="2" height="2" fill="#2828c0"/>
<rect x="87.9" y="88.7" width="2" height="2" fill="#2828c0"/>
<rect x="92.8" y="88.4" width="2" height="2" fill="#1c1c70"/>
<rect x="94.7" y="88.5" width="2" height="2" fill="#1c1c70"/>
<rect x="96.9" y="88.4" width="2" height="2" fill="#2828c0"/>
<rect x="102.1" y="88.8" width="2" height="2" fill="#2828c0"/>
<rect x="104.3" y="88.0" width="2" height="2" fill="#1c1c70"/>
<rect x="106.5" y="88.3" width="2" height="2" fill="#1c1c70"/>
<rect x="109.0" y="88.1" width="2" height="2" fill="#1c1c70"/>
<rect x="92.2" y="91.2" width="2" height="2" fill="#1c1c70"/>
<rect x="95.1" y="90.4" width="2" height="2" fill="#2828c0"/>
<rect x="97.0" y="90.6" width="2" height="2" fill="#1c1c70"/>
<rect x="99.5" y="90.6" width="2" height="2" fill="#1c1c70"/>
<rect x="101.5" y="91.2" width="2" height="2" fill="#2828c0"/>
<rect x="104.5" y="90.3" width="2" height="2" fill="#1c1c70"/>
<rect x="106.6" y="90.5" width="2" height="2" fill="#e8202a"/>
<rect x="90.5" y="92.8" width="2" height="2" fill="#2828c0"/>
<rect x="92.5" y="92.8" width="2" height="2" fill="#2828c0"/>
<rect x="94.7" y="92.6" width="2" height="2" fill="#1c1c70"/>
<rect x="99.5" y="92.7" width="2" height="2" fill="#1c1c70"/>
<rect x="101.5" y="93.1" width="2" height="2" fill="#1c1c70"/>
<rect x="92.9" y="80.0" width="2" height="2" fill="#e8202a"/>
<rect x="94.8" y="80.0" width="2" height="2" fill="#e8202a"/>
<rect x="97.8" y="80.1" width="2" height="2" fill="#e8202a"/>
<rect x="99.6" y="79.8" width="2" height="2" fill="#e8202a"/>
<rect x="102.3" y="80.4" width="2" height="2" fill="#e8202a"/>
<rect x="104.8" y="79.9" width="2" height="2" fill="#e8202a"/>
<rect x="106.7" y="80.6" width="2" height="2" fill="#e8202a"/>
<rect x="88.8" y="82.4" width="2" height="2" fill="#2828c0"/>
<rect x="90.5" y="82.4" width="2" height="2" fill="#2828c0"/>
<rect x="92.5" y="82.8" width="2" height="2" fill="#e8202a"/>
<rect x="94.8" y="82.9" width="2" height="2" fill="#e8202a"/>
<rect x="99.5" y="82.4" width="2" height="2" fill="#e8202a"/>
<rect x="102.0" y="82.4" width="2" height="2" fill="#e8202a"/>
<rect x="109.5" y="82.4" width="2" height="2" fill="#e8202a"/>
<rect x="88.2" y="84.9" width="2" height="2" fill="#e8202a"/>
<rect x="90.6" y="84.4" width="2" height="2" fill="#e8202a"/>
<rect x="92.8" y="84.4" width="2" height="2" fill="#e8202a"/>
<rect x="94.9" y="85.0" width="2" height="2" fill="#e8202a"/>
<rect x="97.8" y="85.1" width="2" height="2" fill="#8020a0"/>
<rect x="99.9" y="84.5" width="2" height="2" fill="#e8202a"/>
<rect x="102.3" y="85.2" width="2" height="2" fill="#8020a0"/>
<rect x="104.7" y="85.0" width="2" height="2" fill="#1c1c70"/>
<rect x="108.6" y="84.4" width="2" height="2" fill="#2828c0"/>
<rect x="88.6" y="87.3" width="2" height="2" fill="#8020a0"/>
<rect x="90.6" y="86.7" width="2" height="2" fill="#2828c0"/>
<rect x="93.1" y="86.8" width="2" height="2" fill="#1c1c70"/>
<rect x="94.8" y="87.0" width="2" height="2" fill="#e8202a"/>
<rect x="97.7" y="87.7" width="2" height="2" fill="#e8202a"/>
<rect x="99.8" y="87.4" width="2" height="2" fill="#e8202a"/>
<rect x="101.7" y="86.8" width="2" height="2" fill="#2828c0"/>
<rect x="104.5" y="86.8" width="2" height="2" fill="#2828c0"/>
<rect x="107.2" y="86.8" width="2" height="2" fill="#e8202a"/>
<rect x="109.2" y="87.0" width="2" height="2" fill="#e8202a"/>
<rect x="90.4" y="89.1" width="2" height="2" fill="#2828c0"/>
<rect x="92.5" y="89.5" width="2" height="2" fill="#e8202a"/>
<rect x="99.4" y="89.1" width="2" height="2" fill="#2828c0"/>
<rect x="102.0" y="89.6" width="2" height="2" fill="#e8202a"/>
<rect x="104.0" y="89.4" width="2" height="2" fill="#e8202a"/>
<rect x="106.2" y="89.0" width="2" height="2" fill="#8020a0"/>
<rect x="95.0" y="91.4" width="2" height="2" fill="#e8202a"/>
<rect x="97.8" y="91.3" width="2" height="2" fill="#e8202a"/>
<rect x="100.2" y="91.5" width="2" height="2" fill="#1c1c70"/>
<rect x="112.2" y="77.2" width="2" height="2" fill="#1c1c70"/>
<rect x="115.0" y="79.4" width="2" height="2" fill="#1c1c70"/>
<rect x="112.0" y="81.7" width="2" height="2" fill="#1c1c70"/>
<rect x="112.7" y="84.5" width="2" height="2" fill="#1c1c70"/>
<rect x="112.4" y="90.7" width="2" height="2" fill="#1c1c70"/>
<rect x="116.1" y="81.8" width="2" height="2" fill="#1c1c70"/>
<rect x="120.9" y="81.8" width="2" height="2" fill="#1c1c70"/>
<rect x="122.9" y="82.0" width="2" height="2" fill="#1c1c70"/>
<rect x="118.5" y="83.9" width="2" height="2" fill="#1c1c70"/>
<rect x="120.7" y="83.8" width="2" height="2" fill="#1c1c70"/>
<rect x="116.7" y="86.1" width="2" height="2" fill="#e8202a"/>
<rect x="120.9" y="86.3" width="2" height="2" fill="#1c1c70"/>
<rect x="116.2" y="90.7" width="2" height="2" fill="#1c1c70"/>
<rect x="116.5" y="93.5" width="2" height="2" fill="#e8202a"/>
<rect x="51.2" y="109.5" width="2" height="2" fill="#1c1c70"/>
<rect x="52.8" y="110.9" width="2" height="2" fill="#1c1c70"/>
<rect x="54.3" y="112.9" width="2" height="2" fill="#1c1c70"/>
<rect x="50.8" y="111.1" width="2" height="2" fill="#1c1c70"/>
<rect x="63.7" y="109.5" width="2" height="2" fill="#1c1c70"/>
<rect x="75.2" y="112.9" width="2" height="2" fill="#1c1c70"/>
<rect x="77.0" y="111.8" width="2" height="2" fill="#1c1c70"/>
<rect x="79.7" y="110.4" width="2" height="2" fill="#1c1c70"/>
<rect x="82.3" y="109.9" width="2" height="2" fill="#1c1c70"/>
<rect x="86.7" y="70.8" width="2" height="2" fill="#2828c0"/>
<rect x="88.3" y="70.8" width="2" height="2" fill="#1c1c70"/>
<rect x="91.0" y="70.6" width="2" height="2" fill="#2828c0"/>
<rect x="97.9" y="69.8" width="2" height="2" fill="#1c1c70"/>
<rect x="85.9" y="72.6" width="2" height="2" fill="#1c1c70"/>
<rect x="90.4" y="72.6" width="2" height="2" fill="#2828c0"/>
<rect x="95.5" y="72.3" width="2" height="2" fill="#1c1c70"/>
<rect x="97.9" y="72.2" width="2" height="2" fill="#2828c0"/>
<rect x="100.0" y="72.4" width="2" height="2" fill="#2828c0"/>
<rect x="107.2" y="72.5" width="2" height="2" fill="#1c1c70"/>
<rect x="109.5" y="72.6" width="2" height="2" fill="#1c1c70"/>
<rect x="88.9" y="74.6" width="2" height="2" fill="#1c1c70"/>
<rect x="93.7" y="74.9" width="2" height="2" fill="#1c1c70"/>
<rect x="95.9" y="74.5" width="2" height="2" fill="#1c1c70"/>
<rect x="102.0" y="74.5" width="2" height="2" fill="#2828c0"/>
<rect x="105.1" y="75.1" width="2" height="2" fill="#2828c0"/>
<rect x="293.0" y="46.7" width="2" height="2" fill="#6a966a"/>
<rect x="302.5" y="45.2" width="2" height="2" fill="#6a966a"/>
<rect x="299.5" y="48.5" width="2" height="2" fill="#141428"/>
<rect x="346.3" y="48.6" width="2" height="2" fill="#6a966a"/>
<rect x="275.7" y="47.0" width="2" height="2" fill="#141428"/>
<rect x="282.3" y="47.0" width="2" height="2" fill="#52da52"/>
<rect x="285.4" y="45.8" width="2" height="2" fill="#52da52"/>
<rect x="254.3" y="58.4" width="2" height="2" fill="#6a966a"/>
<rect x="282.3" y="55.8" width="2" height="2" fill="#141428"/>
<rect x="281.0" y="58.3" width="2" height="2" fill="#141428"/>
<rect x="271.2" y="63.8" width="2" height="2" fill="#141428"/>
<rect x="281.0" y="63.3" width="2" height="2" fill="#1c1c70"/>
<rect x="284.1" y="62.7" width="2" height="2" fill="#52da52"/>
<rect x="287.7" y="63.8" width="2" height="2" fill="#1c1c70"/>
<rect x="276.1" y="67.8" width="2" height="2" fill="#1c1c70"/>
<rect x="277.4" y="68.2" width="2" height="2" fill="#1c1c70"/>
<rect x="280.1" y="70.0" width="2" height="2" fill="#52da52"/>
<rect x="282.3" y="66.9" width="2" height="2" fill="#52da52"/>
<rect x="285.0" y="68.2" width="2" height="2" fill="#52da52"/>
<rect x="287.7" y="69.1" width="2" height="2" fill="#1c1c70"/>
<rect x="246.3" y="70.0" width="2" height="2" fill="#52da52"/>
<rect x="247.7" y="71.8" width="2" height="2" fill="#1c1c70"/>
<rect x="250.3" y="70.4" width="2" height="2" fill="#52da52"/>
<rect x="246.8" y="75.3" width="2" height="2" fill="#1c1c70"/>
<rect x="249.9" y="75.3" width="2" height="2" fill="#52da52"/>
<rect x="257.4" y="72.2" width="2" height="2" fill="#52da52"/>
<rect x="259.2" y="73.6" width="2" height="2" fill="#52da52"/>
<rect x="261.0" y="74.9" width="2" height="2" fill="#52da52"/>
<rect x="265.0" y="70.4" width="2" height="2" fill="#52da52"/>
<rect x="268.1" y="72.2" width="2" height="2" fill="#52da52"/>
<rect x="269.9" y="73.1" width="2" height="2" fill="#52da52"/>
<rect x="255.7" y="75.3" width="2" height="2" fill="#1c1c70"/>
<rect x="256.6" y="76.7" width="2" height="2" fill="#1c1c70"/>
<rect x="258.3" y="77.6" width="2" height="2" fill="#141428"/>
<rect x="253.0" y="77.6" width="2" height="2" fill="#52da52"/>
<rect x="253.9" y="79.3" width="2" height="2" fill="#1c1c70"/>
<rect x="250.3" y="79.8" width="2" height="2" fill="#52da52"/>
<rect x="249.0" y="81.1" width="2" height="2" fill="#52da52"/>
<rect x="245.0" y="82.0" width="2" height="2" fill="#1c1c70"/>
<rect x="252.1" y="82.4" width="2" height="2" fill="#1c1c70"/>
<rect x="267.2" y="76.7" width="2" height="2" fill="#141428"/>
<rect x="268.6" y="77.1" width="2" height="2" fill="#141428"/>
<rect x="269.9" y="77.6" width="2" height="2" fill="#141428"/>
<rect x="272.6" y="75.3" width="2" height="2" fill="#141428"/>
<rect x="274.8" y="76.2" width="2" height="2" fill="#141428"/>
<rect x="277.0" y="77.6" width="2" height="2" fill="#141428"/>
<rect x="278.8" y="78.9" width="2" height="2" fill="#141428"/>
<rect x="280.6" y="80.7" width="2" height="2" fill="#141428"/>
<rect x="273.4" y="78.9" width="2" height="2" fill="#141428"/>
<rect x="275.2" y="80.2" width="2" height="2" fill="#141428"/>
<rect x="277.0" y="81.6" width="2" height="2" fill="#141428"/>
<rect x="270.8" y="79.8" width="2" height="2" fill="#1c1c70"/>
<rect x="272.6" y="81.1" width="2" height="2" fill="#1c1c70"/>
<rect x="274.3" y="82.4" width="2" height="2" fill="#1c1c70"/>
<rect x="264.6" y="79.8" width="2" height="2" fill="#52da52"/>
<rect x="263.2" y="81.6" width="2" height="2" fill="#52da52"/>
<rect x="261.0" y="82.9" width="2" height="2" fill="#1c1c70"/>
<rect x="282.3" y="74.4" width="2" height="2" fill="#1c1c70"/>
<rect x="284.1" y="75.8" width="2" height="2" fill="#52da52"/>
<rect x="285.9" y="77.1" width="2" height="2" fill="#52da52"/>
<rect x="287.7" y="75.3" width="2" height="2" fill="#1c1c70"/>
<rect x="282.3" y="78.0" width="2" height="2" fill="#1c1c70"/>
<rect x="285.0" y="78.9" width="2" height="2" fill="#52da52"/>
<rect x="286.8" y="80.7" width="2" height="2" fill="#52da52"/>
<rect x="288.6" y="79.8" width="2" height="2" fill="#1c1c70"/>
<rect x="278.8" y="82.9" width="2" height="2" fill="#52da52"/>
<rect x="282.3" y="82.4" width="2" height="2" fill="#52da52"/>
<rect x="285.9" y="83.3" width="2" height="2" fill="#52da52"/>
<rect x="258.3" y="79.8" width="2" height="2" fill="#1c1c70"/>
<rect x="257.4" y="81.6" width="2" height="2" fill="#1c1c70"/>
<rect x="301.0" y="64.7" width="2" height="2" fill="#1c1c70"/>
<rect x="315.2" y="62.7" width="2" height="2" fill="#6a966a"/>
<rect x="322.6" y="62.0" width="2" height="2" fill="#6a966a"/>
<rect x="346.3" y="62.4" width="2" height="2" fill="#6a966a"/>
<rect x="292.6" y="70.0" width="2" height="2" fill="#52da52"/>
<rect x="296.1" y="68.2" width="2" height="2" fill="#52da52"/>
<rect x="299.7" y="67.3" width="2" height="2" fill="#52da52"/>
<rect x="302.3" y="69.1" width="2" height="2" fill="#52da52"/>
<rect x="300.6" y="71.8" width="2" height="2" fill="#52da52"/>
<rect x="305.4" y="68.2" width="2" height="2" fill="#1c1c70"/>
<rect x="306.8" y="70.0" width="2" height="2" fill="#1c1c70"/>
<rect x="309.4" y="70.4" width="2" height="2" fill="#1c1c70"/>
<rect x="312.1" y="71.3" width="2" height="2" fill="#1c1c70"/>
<rect x="315.2" y="67.8" width="2" height="2" fill="#141428"/>
<rect x="315.2" y="70.4" width="2" height="2" fill="#141428"/>
<rect x="315.2" y="73.1" width="2" height="2" fill="#141428"/>
<rect x="315.2" y="75.8" width="2" height="2" fill="#141428"/>
<rect x="315.2" y="78.4" width="2" height="2" fill="#141428"/>
<rect x="315.2" y="80.7" width="2" height="2" fill="#1c1c70"/>
<rect x="305.0" y="73.6" width="2" height="2" fill="#52da52"/>
<rect x="306.8" y="74.4" width="2" height="2" fill="#52da52"/>
<rect x="309.0" y="75.3" width="2" height="2" fill="#52da52"/>
<rect x="319.2" y="73.6" width="2" height="2" fill="#1c1c70"/>
<rect x="320.1" y="75.8" width="2" height="2" fill="#1c1c70"/>
<rect x="318.3" y="77.1" width="2" height="2" fill="#1c1c70"/>
<rect x="323.2" y="70.4" width="2" height="2" fill="#1c1c70"/>
<rect x="325.4" y="70.4" width="2" height="2" fill="#1c1c70"/>
<rect x="322.8" y="75.3" width="2" height="2" fill="#1c1c70"/>
<rect x="324.6" y="76.2" width="2" height="2" fill="#141428"/>
<rect x="326.3" y="74.4" width="2" height="2" fill="#1c1c70"/>
<rect x="327.7" y="77.6" width="2" height="2" fill="#1c1c70"/>
<rect x="330.8" y="72.7" width="2" height="2" fill="#1c1c70"/>
<rect x="332.6" y="74.0" width="2" height="2" fill="#1c1c70"/>
<rect x="334.3" y="75.3" width="2" height="2" fill="#1c1c70"/>
<rect x="336.1" y="77.1" width="2" height="2" fill="#1c1c70"/>
<rect x="337.4" y="78.4" width="2" height="2" fill="#1c1c70"/>
<rect x="333.9" y="67.8" width="2" height="2" fill="#6a966a"/>
<rect x="337.0" y="70.4" width="2" height="2" fill="#6a966a"/>
<rect x="341.4" y="68.7" width="2" height="2" fill="#6a966a"/>
<rect x="341.4" y="72.7" width="2" height="2" fill="#1c1c70"/>
<rect x="341.4" y="75.3" width="2" height="2" fill="#1c1c70"/>
<rect x="341.4" y="78.0" width="2" height="2" fill="#141428"/>
<rect x="338.8" y="75.3" width="2" height="2" fill="#1c1c70"/>
<rect x="344.1" y="76.7" width="2" height="2" fill="#1c1c70"/>
<rect x="347.7" y="78.4" width="2" height="2" fill="#1c1c70"/>
<rect x="347.2" y="80.7" width="2" height="2" fill="#52da52"/>
<rect x="290.8" y="72.7" width="2" height="2" fill="#1c1c70"/>
<rect x="291.7" y="75.3" width="2" height="2" fill="#52da52"/>
<rect x="293.4" y="77.1" width="2" height="2" fill="#52da52"/>
<rect x="296.1" y="78.9" width="2" height="2" fill="#1c1c70"/>
<rect x="297.9" y="80.7" width="2" height="2" fill="#52da52"/>
<rect x="294.3" y="80.7" width="2" height="2" fill="#1c1c70"/>
<rect x="291.7" y="82.4" width="2" height="2" fill="#52da52"/>
<rect x="299.7" y="76.2" width="2" height="2" fill="#52da52"/>
<rect x="302.3" y="77.6" width="2" height="2" fill="#52da52"/>
<rect x="299.7" y="80.7" width="2" height="2" fill="#1c1c70"/>
<rect x="302.3" y="80.7" width="2" height="2" fill="#b8203c"/>
<rect x="305.0" y="79.8" width="2" height="2" fill="#52da52"/>
<rect x="309.4" y="78.9" width="2" height="2" fill="#b8203c"/>
<rect x="310.8" y="80.7" width="2" height="2" fill="#8020a0"/>
<rect x="310.3" y="82.4" width="2" height="2" fill="#b8203c"/>
<rect x="307.7" y="81.6" width="2" height="2" fill="#52da52"/>
<rect x="315.7" y="82.4" width="2" height="2" fill="#52da52"/>
<rect x="318.3" y="82.4" width="2" height="2" fill="#1c1c70"/>
<rect x="322.8" y="80.2" width="2" height="2" fill="#52da52"/>
<rect x="322.8" y="82.4" width="2" height="2" fill="#1c1c70"/>
<rect x="325.4" y="82.4" width="2" height="2" fill="#1c1c70"/>
<rect x="330.8" y="82.0" width="2" height="2" fill="#1c1c70"/>
<rect x="333.4" y="82.4" width="2" height="2" fill="#1c1c70"/>
<rect x="358.6" y="37.3" width="2" height="2" fill="#6a966a"/>
<rect x="361.4" y="39.0" width="2" height="2" fill="#6a966a"/>
<rect x="375.9" y="37.3" width="2" height="2" fill="#6a966a"/>
<rect x="393.0" y="35.0" width="2" height="2" fill="#6a966a"/>
<rect x="346.3" y="48.6" width="2" height="2" fill="#6a966a"/>
<rect x="358.6" y="47.8" width="2" height="2" fill="#6a966a"/>
<rect x="361.4" y="48.6" width="2" height="2" fill="#6a966a"/>
<rect x="375.9" y="47.8" width="2" height="2" fill="#6a966a"/>
<rect x="393.0" y="62.2" width="2" height="2" fill="#141428"/>
<rect x="351.0" y="71.9" width="2" height="2" fill="#141428"/>
<rect x="253.0" y="85.8" width="2" height="2" fill="#52da52"/>
<rect x="254.8" y="89.3" width="2" height="2" fill="#52da52"/>
<rect x="253.0" y="91.1" width="2" height="2" fill="#52da52"/>
<rect x="258.3" y="85.3" width="2" height="2" fill="#1c1c70"/>
<rect x="261.9" y="88.0" width="2" height="2" fill="#1c1c70"/>
<rect x="259.2" y="89.3" width="2" height="2" fill="#6a966a"/>
<rect x="265.4" y="85.8" width="2" height="2" fill="#52da52"/>
<rect x="268.1" y="87.6" width="2" height="2" fill="#52da52"/>
<rect x="270.8" y="85.8" width="2" height="2" fill="#52da52"/>
<rect x="273.4" y="87.1" width="2" height="2" fill="#52da52"/>
<rect x="276.1" y="86.2" width="2" height="2" fill="#1c1c70"/>
<rect x="278.8" y="87.6" width="2" height="2" fill="#52da52"/>
<rect x="282.3" y="85.3" width="2" height="2" fill="#1c1c70"/>
<rect x="285.9" y="86.7" width="2" height="2" fill="#52da52"/>
<rect x="287.7" y="88.0" width="2" height="2" fill="#1c1c70"/>
<rect x="268.1" y="91.1" width="2" height="2" fill="#1c1c70"/>
<rect x="271.7" y="92.4" width="2" height="2" fill="#52da52"/>
<rect x="275.2" y="91.6" width="2" height="2" fill="#1c1c70"/>
<rect x="278.8" y="92.9" width="2" height="2" fill="#52da52"/>
<rect x="282.3" y="91.1" width="2" height="2" fill="#52da52"/>
<rect x="285.9" y="93.8" width="2" height="2" fill="#1c1c70"/>
<rect x="287.7" y="92.0" width="2" height="2" fill="#52da52"/>
<rect x="264.6" y="95.6" width="2" height="2" fill="#52da52"/>
<rect x="266.3" y="97.3" width="2" height="2" fill="#52da52"/>
<rect x="269.4" y="97.3" width="2" height="2" fill="#1c1c70"/>
<rect x="272.6" y="96.0" width="2" height="2" fill="#52da52"/>
<rect x="275.2" y="95.6" width="2" height="2" fill="#52da52"/>
<rect x="278.8" y="96.4" width="2" height="2" fill="#52da52"/>
<rect x="282.3" y="95.6" width="2" height="2" fill="#1c1c70"/>
<rect x="285.0" y="97.3" width="2" height="2" fill="#52da52"/>
<rect x="287.7" y="95.6" width="2" height="2" fill="#52da52"/>
<rect x="257.4" y="94.7" width="2" height="2" fill="#1c1c70"/>
<rect x="258.8" y="96.9" width="2" height="2" fill="#1c1c70"/>
<rect x="258.3" y="98.7" width="2" height="2" fill="#1c1c70"/>
<rect x="258.8" y="100.4" width="2" height="2" fill="#1c1c70"/>
<rect x="268.1" y="99.1" width="2" height="2" fill="#1c1c70"/>
<rect x="269.9" y="100.9" width="2" height="2" fill="#1c1c70"/>
<rect x="274.3" y="100.7" width="2" height="2" fill="#6a966a"/>
<rect x="279.2" y="100.7" width="2" height="2" fill="#6a966a"/>
<rect x="282.3" y="100.7" width="2" height="2" fill="#6a966a"/>
<rect x="285.9" y="100.7" width="2" height="2" fill="#6a966a"/>
<rect x="288.1" y="100.7" width="2" height="2" fill="#6a966a"/>
<rect x="245.0" y="103.1" width="2" height="2" fill="#6a966a"/>
<rect x="252.6" y="103.1" width="2" height="2" fill="#6a966a"/>
<rect x="260.6" y="105.3" width="2" height="2" fill="#141428"/>
<rect x="265.4" y="103.6" width="2" height="2" fill="#52da52"/>
<rect x="275.2" y="103.6" width="2" height="2" fill="#6a966a"/>
<rect x="279.2" y="104.4" width="2" height="2" fill="#6a966a"/>
<rect x="288.1" y="104.4" width="2" height="2" fill="#6a966a"/>
<rect x="245.0" y="108.4" width="2" height="2" fill="#6a966a"/>
<rect x="264.1" y="110.2" width="2" height="2" fill="#141428"/>
<rect x="265.4" y="112.0" width="2" height="2" fill="#141428"/>
<rect x="274.3" y="109.3" width="2" height="2" fill="#6a966a"/>
<rect x="284.1" y="110.2" width="2" height="2" fill="#52da52"/>
<rect x="288.1" y="109.8" width="2" height="2" fill="#52da52"/>
<rect x="255.7" y="113.3" width="2" height="2" fill="#1c1c70"/>
<rect x="279.7" y="113.3" width="2" height="2" fill="#52da52"/>
<rect x="291.7" y="86.7" width="2" height="2" fill="#1c1c70"/>
<rect x="294.3" y="85.3" width="2" height="2" fill="#52da52"/>
<rect x="297.0" y="85.8" width="2" height="2" fill="#52da52"/>
<rect x="299.7" y="86.7" width="2" height="2" fill="#1c1c70"/>
<rect x="301.9" y="88.0" width="2" height="2" fill="#1c1c70"/>
<rect x="304.1" y="89.3" width="2" height="2" fill="#1c1c70"/>
<rect x="305.9" y="85.3" width="2" height="2" fill="#52da52"/>
<rect x="308.6" y="86.2" width="2" height="2" fill="#1c1c70"/>
<rect x="311.2" y="85.3" width="2" height="2" fill="#1c1c70"/>
<rect x="312.1" y="88.0" width="2" height="2" fill="#1c1c70"/>
<rect x="315.2" y="84.9" width="2" height="2" fill="#141428"/>
<rect x="315.2" y="87.6" width="2" height="2" fill="#141428"/>
<rect x="315.2" y="90.2" width="2" height="2" fill="#141428"/>
<rect x="315.2" y="92.9" width="2" height="2" fill="#141428"/>
<rect x="315.2" y="95.6" width="2" height="2" fill="#141428"/>
<rect x="315.2" y="98.2" width="2" height="2" fill="#b8203c"/>
<rect x="315.2" y="100.9" width="2" height="2" fill="#1c1c70"/>
<rect x="318.3" y="86.7" width="2" height="2" fill="#1c1c70"/>
<rect x="320.1" y="85.8" width="2" height="2" fill="#1c1c70"/>
<rect x="322.8" y="85.8" width="2" height="2" fill="#1c1c70"/>
<rect x="324.6" y="87.1" width="2" height="2" fill="#1c1c70"/>
<rect x="318.3" y="89.3" width="2" height="2" fill="#1c1c70"/>
<rect x="321.0" y="90.2" width="2" height="2" fill="#1c1c70"/>
<rect x="323.7" y="88.9" width="2" height="2" fill="#1c1c70"/>
<rect x="326.3" y="88.0" width="2" height="2" fill="#1c1c70"/>
<rect x="319.2" y="92.9" width="2" height="2" fill="#1c1c70"/>
<rect x="321.0" y="94.2" width="2" height="2" fill="#1c1c70"/>
<rect x="323.7" y="92.9" width="2" height="2" fill="#1c1c70"/>
<rect x="325.4" y="92.0" width="2" height="2" fill="#1c1c70"/>
<rect x="328.1" y="85.8" width="2" height="2" fill="#1c1c70"/>
<rect x="330.3" y="87.1" width="2" height="2" fill="#1c1c70"/>
<rect x="332.6" y="88.4" width="2" height="2" fill="#1c1c70"/>
<rect x="329.0" y="89.8" width="2" height="2" fill="#1c1c70"/>
<rect x="331.7" y="90.7" width="2" height="2" fill="#1c1c70"/>
<rect x="329.9" y="92.0" width="2" height="2" fill="#1c1c70"/>
<rect x="335.2" y="89.3" width="2" height="2" fill="#1c1c70"/>
<rect x="337.4" y="90.2" width="2" height="2" fill="#1c1c70"/>
<rect x="336.1" y="92.4" width="2" height="2" fill="#6a966a"/>
<rect x="338.8" y="92.9" width="2" height="2" fill="#1c1c70"/>
<rect x="338.8" y="95.1" width="2" height="2" fill="#1c1c70"/>
<rect x="341.4" y="95.1" width="2" height="2" fill="#1c1c70"/>
<rect x="343.7" y="96.4" width="2" height="2" fill="#141428"/>
<rect x="342.3" y="85.8" width="2" height="2" fill="#52da52"/>
<rect x="346.8" y="91.1" width="2" height="2" fill="#52da52"/>
<rect x="333.4" y="96.9" width="2" height="2" fill="#52da52"/>
<rect x="337.0" y="97.3" width="2" height="2" fill="#52da52"/>
<rect x="330.8" y="95.1" width="2" height="2" fill="#b8203c"/>
<rect x="327.2" y="100.4" width="2" height="2" fill="#52da52"/>
<rect x="294.3" y="89.3" width="2" height="2" fill="#1c1c70"/>
<rect x="296.1" y="90.7" width="2" height="2" fill="#1c1c70"/>
<rect x="294.3" y="92.9" width="2" height="2" fill="#52da52"/>
<rect x="297.0" y="92.9" width="2" height="2" fill="#52da52"/>
<rect x="299.7" y="91.6" width="2" height="2" fill="#52da52"/>
<rect x="302.3" y="92.0" width="2" height="2" fill="#b8203c"/>
<rect x="304.1" y="92.9" width="2" height="2" fill="#8020a0"/>
<rect x="306.8" y="93.8" width="2" height="2" fill="#1c1c70"/>
<rect x="308.1" y="95.6" width="2" height="2" fill="#1c1c70"/>
<rect x="309.4" y="97.3" width="2" height="2" fill="#b8203c"/>
<rect x="291.7" y="95.1" width="2" height="2" fill="#52da52"/>
<rect x="297.9" y="95.6" width="2" height="2" fill="#52da52"/>
<rect x="300.6" y="95.1" width="2" height="2" fill="#1c1c70"/>
<rect x="303.2" y="96.4" width="2" height="2" fill="#1c1c70"/>
<rect x="305.9" y="97.3" width="2" height="2" fill="#1c1c70"/>
<rect x="291.7" y="98.2" width="2" height="2" fill="#1c1c70"/>
<rect x="294.3" y="98.7" width="2" height="2" fill="#52da52"/>
<rect x="297.9" y="100.4" width="2" height="2" fill="#6a966a"/>
<rect x="302.8" y="100.9" width="2" height="2" fill="#1c1c70"/>
<rect x="304.6" y="100.4" width="2" height="2" fill="#1c1c70"/>
<rect x="306.8" y="100.9" width="2" height="2" fill="#1c1c70"/>
<rect x="309.4" y="100.9" width="2" height="2" fill="#1c1c70"/>
<rect x="312.1" y="100.9" width="2" height="2" fill="#1c1c70"/>
<rect x="319.2" y="97.3" width="2" height="2" fill="#1c1c70"/>
<rect x="319.7" y="100.4" width="2" height="2" fill="#1c1c70"/>
<rect x="319.7" y="104.4" width="2" height="2" fill="#1c1c70"/>
<rect x="291.7" y="104.0" width="2" height="2" fill="#52da52"/>
<rect x="297.0" y="104.4" width="2" height="2" fill="#52da52"/>
<rect x="299.7" y="103.1" width="2" height="2" fill="#1c1c70"/>
<rect x="306.8" y="103.6" width="2" height="2" fill="#52da52"/>
<rect x="309.0" y="104.9" width="2" height="2" fill="#52da52"/>
<rect x="310.3" y="106.2" width="2" height="2" fill="#1c1c70"/>
<rect x="310.3" y="108.9" width="2" height="2" fill="#1c1c70"/>
<rect x="304.1" y="107.6" width="2" height="2" fill="#1c1c70"/>
<rect x="302.3" y="108.9" width="2" height="2" fill="#52da52"/>
<rect x="322.8" y="104.9" width="2" height="2" fill="#6a966a"/>
<rect x="289.9" y="109.8" width="2" height="2" fill="#52da52"/>
<rect x="294.3" y="112.4" width="2" height="2" fill="#52da52"/>
<rect x="297.0" y="111.6" width="2" height="2" fill="#52da52"/>
<rect x="282.3" y="114.6" width="2" height="2" fill="#52da52"/>
<rect x="351.0" y="85.3" width="2" height="2" fill="#141428"/>
<rect x="246.4" y="88.7" width="2" height="2" fill="#3e5e46"/>
<rect x="248.4" y="83.9" width="2" height="2" fill="#52da52"/>
<rect x="248.7" y="87.0" width="2" height="2" fill="#52da52"/>
<rect x="248.3" y="93.6" width="2" height="2" fill="#1c1c70"/>
<rect x="250.4" y="79.5" width="2" height="2" fill="#52da52"/>
<rect x="250.2" y="82.3" width="2" height="2" fill="#52da52"/>
<rect x="250.7" y="91.4" width="2" height="2" fill="#52da52"/>
<rect x="250.4" y="94.6" width="2" height="2" fill="#3e5e46"/>
<rect x="252.9" y="83.6" width="2" height="2" fill="#52da52"/>
<rect x="254.7" y="76.0" width="2" height="2" fill="#52da52"/>
<rect x="254.9" y="81.7" width="2" height="2" fill="#52da52"/>
<rect x="254.6" y="85.2" width="2" height="2" fill="#3e5e46"/>
<rect x="254.6" y="88.1" width="2" height="2" fill="#1c1c70"/>
<rect x="254.5" y="94.3" width="2" height="2" fill="#1c1c70"/>
<rect x="257.1" y="74.2" width="2" height="2" fill="#52da52"/>
<rect x="256.8" y="80.5" width="2" height="2" fill="#52da52"/>
<rect x="256.9" y="86.5" width="2" height="2" fill="#52da52"/>
<rect x="258.8" y="75.2" width="2" height="2" fill="#52da52"/>
<rect x="258.7" y="78.3" width="2" height="2" fill="#52da52"/>
<rect x="258.7" y="81.3" width="2" height="2" fill="#3e5e46"/>
<rect x="258.7" y="84.8" width="2" height="2" fill="#3e5e46"/>
<rect x="258.7" y="93.9" width="2" height="2" fill="#1c1c70"/>
<rect x="258.7" y="96.9" width="2" height="2" fill="#52da52"/>
<rect x="261.1" y="83.1" width="2" height="2" fill="#52da52"/>
<rect x="261.1" y="88.9" width="2" height="2" fill="#3e5e46"/>
<rect x="261.3" y="91.9" width="2" height="2" fill="#52da52"/>
<rect x="263.0" y="81.0" width="2" height="2" fill="#3e5e46"/>
<rect x="263.3" y="87.4" width="2" height="2" fill="#52da52"/>
<rect x="262.9" y="90.6" width="2" height="2" fill="#3e5e46"/>
<rect x="263.1" y="93.3" width="2" height="2" fill="#52da52"/>
<rect x="265.5" y="79.3" width="2" height="2" fill="#1c1c70"/>
<rect x="265.5" y="82.5" width="2" height="2" fill="#52da52"/>
<rect x="265.1" y="85.8" width="2" height="2" fill="#52da52"/>
<rect x="264.9" y="88.5" width="2" height="2" fill="#52da52"/>
<rect x="265.3" y="94.7" width="2" height="2" fill="#52da52"/>
<rect x="265.5" y="97.8" width="2" height="2" fill="#52da52"/>
<rect x="267.1" y="74.3" width="2" height="2" fill="#1c1c70"/>
<rect x="267.2" y="84.1" width="2" height="2" fill="#3e5e46"/>
<rect x="267.4" y="93.2" width="2" height="2" fill="#52da52"/>
<rect x="267.1" y="96.2" width="2" height="2" fill="#3e5e46"/>
<rect x="269.2" y="76.2" width="2" height="2" fill="#52da52"/>
<rect x="269.6" y="81.8" width="2" height="2" fill="#1c1c70"/>
<rect x="269.6" y="88.5" width="2" height="2" fill="#3e5e46"/>
<rect x="269.5" y="94.5" width="2" height="2" fill="#52da52"/>
<rect x="271.8" y="77.2" width="2" height="2" fill="#3e5e46"/>
<rect x="271.5" y="80.2" width="2" height="2" fill="#1c1c70"/>
<rect x="271.4" y="83.4" width="2" height="2" fill="#52da52"/>
<rect x="271.6" y="89.4" width="2" height="2" fill="#52da52"/>
<rect x="273.8" y="81.8" width="2" height="2" fill="#3e5e46"/>
<rect x="273.7" y="88.1" width="2" height="2" fill="#3e5e46"/>
<rect x="273.5" y="91.2" width="2" height="2" fill="#52da52"/>
<rect x="274.6" y="83.9" width="2" height="2" fill="#3e5e46"/>
<rect x="276.4" y="76.4" width="2" height="2" fill="#52da52"/>
<rect x="276.5" y="79.1" width="2" height="2" fill="#3e5e46"/>
<rect x="276.6" y="82.2" width="2" height="2" fill="#52da52"/>
<rect x="276.7" y="85.2" width="2" height="2" fill="#1c1c70"/>
<rect x="276.8" y="88.5" width="2" height="2" fill="#52da52"/>
<rect x="276.4" y="91.7" width="2" height="2" fill="#52da52"/>
<rect x="278.6" y="77.4" width="2" height="2" fill="#52da52"/>
<rect x="278.9" y="83.6" width="2" height="2" fill="#1c1c70"/>
<rect x="278.7" y="86.9" width="2" height="2" fill="#1c1c70"/>
<rect x="278.4" y="89.8" width="2" height="2" fill="#52da52"/>
<rect x="278.4" y="95.9" width="2" height="2" fill="#52da52"/>
<rect x="280.6" y="75.8" width="2" height="2" fill="#52da52"/>
<rect x="280.8" y="78.7" width="2" height="2" fill="#52da52"/>
<rect x="280.5" y="84.8" width="2" height="2" fill="#1c1c70"/>
<rect x="280.8" y="88.0" width="2" height="2" fill="#1c1c70"/>
<rect x="280.8" y="97.5" width="2" height="2" fill="#52da52"/>
<rect x="283.0" y="70.6" width="2" height="2" fill="#52da52"/>
<rect x="282.6" y="74.2" width="2" height="2" fill="#52da52"/>
<rect x="283.1" y="76.9" width="2" height="2" fill="#1c1c70"/>
<rect x="282.9" y="80.1" width="2" height="2" fill="#3e5e46"/>
<rect x="282.5" y="86.6" width="2" height="2" fill="#1c1c70"/>
<rect x="283.0" y="95.4" width="2" height="2" fill="#1c1c70"/>
<rect x="282.6" y="101.6" width="2" height="2" fill="#52da52"/>
<rect x="285.2" y="72.1" width="2" height="2" fill="#1c1c70"/>
<rect x="284.9" y="75.5" width="2" height="2" fill="#1c1c70"/>
<rect x="285.2" y="78.7" width="2" height="2" fill="#1c1c70"/>
<rect x="284.8" y="81.4" width="2" height="2" fill="#52da52"/>
<rect x="285.0" y="93.9" width="2" height="2" fill="#52da52"/>
<rect x="287.1" y="76.9" width="2" height="2" fill="#3e5e46"/>
<rect x="287.2" y="80.0" width="2" height="2" fill="#3e5e46"/>
<rect x="287.2" y="82.7" width="2" height="2" fill="#3e5e46"/>
<rect x="286.9" y="85.8" width="2" height="2" fill="#52da52"/>
<rect x="287.1" y="88.8" width="2" height="2" fill="#1c1c70"/>
<rect x="287.1" y="92.1" width="2" height="2" fill="#1c1c70"/>
<rect x="289.4" y="71.6" width="2" height="2" fill="#1c1c70"/>
<rect x="289.4" y="75.2" width="2" height="2" fill="#52da52"/>
<rect x="289.0" y="80.9" width="2" height="2" fill="#1c1c70"/>
<rect x="289.0" y="84.2" width="2" height="2" fill="#52da52"/>
<rect x="288.8" y="87.5" width="2" height="2" fill="#52da52"/>
<rect x="288.8" y="99.7" width="2" height="2" fill="#1c1c70"/>
<rect x="291.2" y="69.8" width="2" height="2" fill="#52da52"/>
<rect x="291.0" y="85.8" width="2" height="2" fill="#3e5e46"/>
<rect x="291.3" y="92.0" width="2" height="2" fill="#3e5e46"/>
<rect x="293.2" y="71.3" width="2" height="2" fill="#52da52"/>
<rect x="293.5" y="77.6" width="2" height="2" fill="#1c1c70"/>
<rect x="293.2" y="86.9" width="2" height="2" fill="#52da52"/>
<rect x="293.2" y="93.0" width="2" height="2" fill="#52da52"/>
<rect x="293.2" y="96.5" width="2" height="2" fill="#52da52"/>
<rect x="293.4" y="99.5" width="2" height="2" fill="#3e5e46"/>
<rect x="295.2" y="79.2" width="2" height="2" fill="#3e5e46"/>
<rect x="295.3" y="88.1" width="2" height="2" fill="#1c1c70"/>
<rect x="295.2" y="91.2" width="2" height="2" fill="#1c1c70"/>
<rect x="295.5" y="94.6" width="2" height="2" fill="#1c1c70"/>
<rect x="297.4" y="83.7" width="2" height="2" fill="#52da52"/>
<rect x="297.4" y="89.9" width="2" height="2" fill="#52da52"/>
<rect x="299.8" y="84.7" width="2" height="2" fill="#1c1c70"/>
<rect x="310.7" y="72.9" width="2" height="2" fill="#6a966a"/>
<rect x="312.6" y="72.5" width="2" height="2" fill="#52da52"/>
<rect x="318.4" y="72.8" width="2" height="2" fill="#6a966a"/>
<rect x="310.6" y="75.8" width="2" height="2" fill="#3e5e46"/>
<rect x="313.3" y="75.5" width="2" height="2" fill="#1c1c70"/>
<rect x="316.0" y="75.8" width="2" height="2" fill="#3e5e46"/>
<rect x="318.6" y="75.2" width="2" height="2" fill="#3e5e46"/>
<rect x="321.6" y="75.4" width="2" height="2" fill="#52da52"/>
<rect x="313.1" y="78.6" width="2" height="2" fill="#6a966a"/>
<rect x="316.0" y="78.6" width="2" height="2" fill="#1c1c70"/>
<rect x="318.6" y="78.1" width="2" height="2" fill="#6a966a"/>
<rect x="323.8" y="77.9" width="2" height="2" fill="#6a966a"/>
<rect x="307.6" y="81.1" width="2" height="2" fill="#1c1c70"/>
<rect x="310.5" y="80.6" width="2" height="2" fill="#1c1c70"/>
<rect x="313.0" y="80.7" width="2" height="2" fill="#1c1c70"/>
<rect x="318.3" y="80.7" width="2" height="2" fill="#1c1c70"/>
<rect x="310.0" y="83.8" width="2" height="2" fill="#6a966a"/>
<rect x="312.8" y="84.0" width="2" height="2" fill="#3e5e46"/>
<rect x="316.1" y="83.4" width="2" height="2" fill="#6a966a"/>
<rect x="323.8" y="83.9" width="2" height="2" fill="#52da52"/>
<rect x="327.1" y="83.7" width="2" height="2" fill="#1c1c70"/>
<rect x="307.5" y="85.9" width="2" height="2" fill="#6a966a"/>
<rect x="310.5" y="85.8" width="2" height="2" fill="#52da52"/>
<rect x="315.4" y="86.5" width="2" height="2" fill="#52da52"/>
<rect x="324.0" y="86.4" width="2" height="2" fill="#3e5e46"/>
<rect x="326.4" y="85.8" width="2" height="2" fill="#1c1c70"/>
<rect x="307.7" y="89.2" width="2" height="2" fill="#6a966a"/>
<rect x="310.1" y="89.3" width="2" height="2" fill="#52da52"/>
<rect x="313.5" y="88.9" width="2" height="2" fill="#3e5e46"/>
<rect x="316.0" y="88.9" width="2" height="2" fill="#52da52"/>
<rect x="320.8" y="88.8" width="2" height="2" fill="#52da52"/>
<rect x="326.6" y="88.5" width="2" height="2" fill="#52da52"/>
<rect x="307.8" y="91.8" width="2" height="2" fill="#52da52"/>
<rect x="310.5" y="91.8" width="2" height="2" fill="#3e5e46"/>
<rect x="315.4" y="91.7" width="2" height="2" fill="#3e5e46"/>
<rect x="318.0" y="91.8" width="2" height="2" fill="#52da52"/>
<rect x="327.0" y="91.1" width="2" height="2" fill="#6a966a"/>
<rect x="310.6" y="94.1" width="2" height="2" fill="#6a966a"/>
<rect x="315.7" y="94.2" width="2" height="2" fill="#1c1c70"/>
<rect x="318.4" y="94.3" width="2" height="2" fill="#1c1c70"/>
<rect x="321.2" y="94.8" width="2" height="2" fill="#6a966a"/>
<rect x="312.7" y="97.5" width="2" height="2" fill="#1c1c70"/>
<rect x="316.0" y="97.4" width="2" height="2" fill="#52da52"/>
<rect x="318.1" y="96.5" width="2" height="2" fill="#1c1c70"/>
<rect x="324.2" y="97.4" width="2" height="2" fill="#1c1c70"/>
<rect x="316.0" y="99.9" width="2" height="2" fill="#3e5e46"/>
<rect x="333.4" y="75.0" width="2" height="2" fill="#6a966a"/>
<rect x="336.0" y="74.3" width="2" height="2" fill="#1c1c70"/>
<rect x="341.8" y="74.8" width="2" height="2" fill="#1c1c70"/>
<rect x="330.2" y="76.9" width="2" height="2" fill="#52da52"/>
<rect x="341.8" y="77.3" width="2" height="2" fill="#1c1c70"/>
<rect x="330.6" y="80.2" width="2" height="2" fill="#6a966a"/>
<rect x="338.4" y="80.1" width="2" height="2" fill="#1c1c70"/>
<rect x="330.3" y="83.3" width="2" height="2" fill="#6a966a"/>
<rect x="333.4" y="82.6" width="2" height="2" fill="#1c1c70"/>
<rect x="338.7" y="83.0" width="2" height="2" fill="#1c1c70"/>
<rect x="344.3" y="83.0" width="2" height="2" fill="#1c1c70"/>
<rect x="331.1" y="85.1" width="2" height="2" fill="#1c1c70"/>
<rect x="333.6" y="85.6" width="2" height="2" fill="#6a966a"/>
<rect x="335.8" y="85.9" width="2" height="2" fill="#3e5e46"/>
<rect x="339.2" y="85.7" width="2" height="2" fill="#1c1c70"/>
<rect x="341.4" y="85.6" width="2" height="2" fill="#1c1c70"/>
<rect x="331.1" y="88.5" width="2" height="2" fill="#52da52"/>
<rect x="336.3" y="88.5" width="2" height="2" fill="#6a966a"/>
<rect x="339.1" y="88.3" width="2" height="2" fill="#1c1c70"/>
<rect x="341.4" y="88.4" width="2" height="2" fill="#1c1c70"/>
<rect x="338.6" y="90.6" width="2" height="2" fill="#1c1c70"/>
<rect x="315.3" y="66.5" width="2" height="2" fill="#1c1c70"/>
<rect x="315.3" y="69.8" width="2" height="2" fill="#1c1c70"/>
<rect x="315.3" y="73.1" width="2" height="2" fill="#1c1c70"/>
<rect x="315.3" y="76.4" width="2" height="2" fill="#1c1c70"/>
<rect x="315.3" y="79.7" width="2" height="2" fill="#1c1c70"/>
<rect x="315.3" y="83.0" width="2" height="2" fill="#1c1c70"/>
<rect x="315.3" y="86.3" width="2" height="2" fill="#1c1c70"/>
<rect x="315.3" y="89.6" width="2" height="2" fill="#1c1c70"/>
<rect x="315.3" y="92.9" width="2" height="2" fill="#1c1c70"/>
<rect x="315.3" y="96.2" width="2" height="2" fill="#1c1c70"/>
<rect x="315.3" y="99.5" width="2" height="2" fill="#1c1c70"/>
<rect x="315.3" y="102.8" width="2" height="2" fill="#1c1c70"/>
<rect x="315.3" y="106.1" width="2" height="2" fill="#1c1c70"/>
<rect x="297.7" y="209.3" width="2" height="2" fill="#141428"/>
<rect x="299.5" y="223.8" width="2" height="2" fill="#141428"/>
<rect x="277.4" y="227.2" width="2" height="2" fill="#141428"/>
<rect x="205.6" y="223.4" width="2" height="2" fill="#1c1c70"/>
<rect x="205.6" y="231.9" width="2" height="2" fill="#1c1c70"/>
<rect x="162.2" y="239.4" width="2" height="2" fill="#1c1c70"/>
<rect x="169.9" y="239.6" width="2" height="2" fill="#1c1c70"/>
<rect x="162.2" y="244.2" width="2" height="2" fill="#1c1c70"/>
<rect x="166.8" y="244.2" width="2" height="2" fill="#1c1c70"/>
<rect x="169.9" y="244.2" width="2" height="2" fill="#1c1c70"/>
<rect x="169.9" y="247.6" width="2" height="2" fill="#1c1c70"/>
<rect x="174.8" y="245.2" width="2" height="2" fill="#1c1c70"/>
<rect x="176.1" y="243.0" width="2" height="2" fill="#1c1c70"/>
<rect x="177.9" y="244.3" width="2" height="2" fill="#1c1c70"/>
<rect x="177.9" y="248.3" width="2" height="2" fill="#1c1c70"/>
<rect x="185.4" y="239.4" width="2" height="2" fill="#1c1c70"/>
<rect x="188.1" y="241.2" width="2" height="2" fill="#1c1c70"/>
<rect x="195.0" y="241.2" width="2" height="2" fill="#1c1c70"/>
<rect x="185.4" y="247.3" width="2" height="2" fill="#1c1c70"/>
<rect x="191.7" y="246.6" width="2" height="2" fill="#1c1c70"/>
<rect x="193.4" y="247.4" width="2" height="2" fill="#1c1c70"/>
<rect x="197.4" y="246.6" width="2" height="2" fill="#1c1c70"/>
<rect x="198.8" y="245.2" width="2" height="2" fill="#1c1c70"/>
<rect x="200.6" y="247.4" width="2" height="2" fill="#1c1c70"/>
<rect x="204.1" y="242.1" width="2" height="2" fill="#1c1c70"/>
<rect x="204.1" y="245.2" width="2" height="2" fill="#1c1c70"/>
<rect x="205.9" y="246.6" width="2" height="2" fill="#1c1c70"/>
<rect x="207.7" y="244.8" width="2" height="2" fill="#1c1c70"/>
<rect x="218.3" y="233.7" width="2" height="2" fill="#1c1c70"/>
<rect x="215.2" y="235.9" width="2" height="2" fill="#1c1c70"/>
<rect x="217.9" y="237.2" width="2" height="2" fill="#1c1c70"/>
<rect x="221.0" y="235.9" width="2" height="2" fill="#1c1c70"/>
<rect x="227.2" y="235.4" width="2" height="2" fill="#1c1c70"/>
<rect x="229.0" y="235.9" width="2" height="2" fill="#1c1c70"/>
<rect x="227.2" y="238.1" width="2" height="2" fill="#1c1c70"/>
<rect x="232.1" y="237.7" width="2" height="2" fill="#1c1c70"/>
<rect x="237.0" y="235.4" width="2" height="2" fill="#1c1c70"/>
<rect x="243.2" y="233.9" width="2" height="2" fill="#1c1c70"/>
<rect x="249.9" y="235.9" width="2" height="2" fill="#1c1c70"/>
<rect x="248.1" y="239.4" width="2" height="2" fill="#1c1c70"/>
<rect x="213.9" y="239.0" width="2" height="2" fill="#1c1c70"/>
<rect x="215.7" y="239.4" width="2" height="2" fill="#1c1c70"/>
<rect x="217.4" y="240.3" width="2" height="2" fill="#1c1c70"/>
<rect x="219.7" y="240.3" width="2" height="2" fill="#1c1c70"/>
<rect x="222.3" y="241.2" width="2" height="2" fill="#1c1c70"/>
<rect x="224.1" y="242.1" width="2" height="2" fill="#1c1c70"/>
<rect x="217.0" y="242.6" width="2" height="2" fill="#1c1c70"/>
<rect x="218.8" y="243.4" width="2" height="2" fill="#1c1c70"/>
<rect x="220.6" y="243.0" width="2" height="2" fill="#1c1c70"/>
<rect x="223.2" y="244.8" width="2" height="2" fill="#1c1c70"/>
<rect x="225.4" y="244.3" width="2" height="2" fill="#1c1c70"/>
<rect x="227.2" y="240.8" width="2" height="2" fill="#1c1c70"/>
<rect x="227.7" y="243.0" width="2" height="2" fill="#1c1c70"/>
<rect x="229.4" y="242.1" width="2" height="2" fill="#1c1c70"/>
<rect x="229.9" y="245.7" width="2" height="2" fill="#1c1c70"/>
<rect x="232.6" y="241.7" width="2" height="2" fill="#1c1c70"/>
<rect x="233.0" y="244.3" width="2" height="2" fill="#1c1c70"/>
<rect x="234.8" y="245.7" width="2" height="2" fill="#1c1c70"/>
<rect x="237.4" y="243.0" width="2" height="2" fill="#1c1c70"/>
<rect x="239.2" y="242.1" width="2" height="2" fill="#1c1c70"/>
<rect x="241.0" y="241.2" width="2" height="2" fill="#1c1c70"/>
<rect x="242.8" y="242.6" width="2" height="2" fill="#1c1c70"/>
<rect x="245.0" y="243.0" width="2" height="2" fill="#1c1c70"/>
<rect x="247.7" y="242.6" width="2" height="2" fill="#1c1c70"/>
<rect x="238.3" y="245.7" width="2" height="2" fill="#1c1c70"/>
<rect x="240.6" y="244.8" width="2" height="2" fill="#1c1c70"/>
<rect x="242.3" y="246.6" width="2" height="2" fill="#1c1c70"/>
<rect x="244.6" y="245.2" width="2" height="2" fill="#1c1c70"/>
<rect x="247.2" y="245.7" width="2" height="2" fill="#1c1c70"/>
<rect x="249.4" y="245.2" width="2" height="2" fill="#1c1c70"/>
<rect x="251.7" y="246.6" width="2" height="2" fill="#1c1c70"/>
<rect x="261.9" y="247.0" width="2" height="2" fill="#1c1c70"/>
<rect x="209.9" y="247.4" width="2" height="2" fill="#1c1c70"/>
<rect x="212.6" y="247.0" width="2" height="2" fill="#1c1c70"/>
<rect x="215.2" y="246.6" width="2" height="2" fill="#1c1c70"/>
<rect x="217.9" y="245.7" width="2" height="2" fill="#1c1c70"/>
<rect x="220.6" y="246.6" width="2" height="2" fill="#1c1c70"/>
<rect x="223.7" y="247.9" width="2" height="2" fill="#1c1c70"/>
<rect x="226.8" y="247.4" width="2" height="2" fill="#1c1c70"/>
<rect x="231.2" y="247.4" width="2" height="2" fill="#1c1c70"/>
<rect x="235.7" y="247.9" width="2" height="2" fill="#1c1c70"/>
<rect x="182.3" y="250.8" width="2" height="2" fill="#1c1c70"/>
<rect x="191.7" y="252.6" width="2" height="2" fill="#1c1c70"/>
<rect x="194.8" y="253.0" width="2" height="2" fill="#1c1c70"/>
<rect x="198.8" y="252.6" width="2" height="2" fill="#1c1c70"/>
<rect x="183.7" y="256.8" width="2" height="2" fill="#1c1c70"/>
<rect x="191.7" y="256.6" width="2" height="2" fill="#1c1c70"/>
<rect x="193.0" y="255.9" width="2" height="2" fill="#1c1c70"/>
<rect x="175.7" y="259.2" width="2" height="2" fill="#1c1c70"/>
<rect x="175.7" y="261.0" width="2" height="2" fill="#1c1c70"/>
<rect x="169.6" y="261.3" width="2" height="2" fill="#1c1c70"/>
<rect x="185.4" y="262.3" width="2" height="2" fill="#1c1c70"/>
<rect x="182.3" y="263.7" width="2" height="2" fill="#1c1c70"/>
<rect x="183.7" y="265.4" width="2" height="2" fill="#1c1c70"/>
<rect x="193.0" y="264.3" width="2" height="2" fill="#1c1c70"/>
<rect x="189.9" y="267.8" width="2" height="2" fill="#1c1c70"/>
<rect x="196.6" y="267.9" width="2" height="2" fill="#1c1c70"/>
<rect x="184.1" y="270.3" width="2" height="2" fill="#1c1c70"/>
<rect x="208.6" y="265.0" width="2" height="2" fill="#1c1c70"/>
<rect x="188.1" y="273.9" width="2" height="2" fill="#1c1c70"/>
<rect x="190.3" y="274.8" width="2" height="2" fill="#1c1c70"/>
<rect x="192.6" y="275.7" width="2" height="2" fill="#1c1c70"/>
<rect x="195.2" y="276.6" width="2" height="2" fill="#1c1c70"/>
<rect x="197.9" y="273.9" width="2" height="2" fill="#1c1c70"/>
<rect x="197.0" y="277.4" width="2" height="2" fill="#1c1c70"/>
<rect x="174.3" y="275.7" width="2" height="2" fill="#1c1c70"/>
<rect x="171.7" y="277.9" width="2" height="2" fill="#1c1c70"/>
<rect x="182.8" y="276.6" width="2" height="2" fill="#1c1c70"/>
<rect x="180.1" y="277.9" width="2" height="2" fill="#1c1c70"/>
<rect x="166.8" y="278.3" width="2" height="2" fill="#1c1c70"/>
<rect x="195.2" y="251.4" width="2" height="2" fill="#8020a0"/>
<rect x="197.4" y="249.1" width="2" height="2" fill="#2828c0"/>
<rect x="197.7" y="252.6" width="2" height="2" fill="#1c1c70"/>
<rect x="199.6" y="247.4" width="2" height="2" fill="#2828c0"/>
<rect x="199.6" y="250.5" width="2" height="2" fill="#2828c0"/>
<rect x="201.9" y="245.9" width="2" height="2" fill="#1c1c70"/>
<rect x="201.5" y="248.7" width="2" height="2" fill="#1c1c70"/>
<rect x="201.6" y="255.2" width="2" height="2" fill="#1c1c70"/>
<rect x="201.6" y="258.0" width="2" height="2" fill="#2828c0"/>
<rect x="203.7" y="246.9" width="2" height="2" fill="#1c1c70"/>
<rect x="203.5" y="250.6" width="2" height="2" fill="#1c1c70"/>
<rect x="204.1" y="256.4" width="2" height="2" fill="#1c1c70"/>
<rect x="204.0" y="259.9" width="2" height="2" fill="#8020a0"/>
<rect x="206.2" y="245.4" width="2" height="2" fill="#1c1c70"/>
<rect x="206.1" y="248.5" width="2" height="2" fill="#1c1c70"/>
<rect x="206.2" y="258.0" width="2" height="2" fill="#2828c0"/>
<rect x="206.0" y="261.2" width="2" height="2" fill="#1c1c70"/>
<rect x="208.2" y="246.7" width="2" height="2" fill="#2828c0"/>
<rect x="207.7" y="249.8" width="2" height="2" fill="#1c1c70"/>
<rect x="208.2" y="252.7" width="2" height="2" fill="#1c1c70"/>
<rect x="209.9" y="244.9" width="2" height="2" fill="#1c1c70"/>
<rect x="210.2" y="248.1" width="2" height="2" fill="#1c1c70"/>
<rect x="210.0" y="251.0" width="2" height="2" fill="#1c1c70"/>
<rect x="210.3" y="254.6" width="2" height="2" fill="#1c1c70"/>
<rect x="209.9" y="260.7" width="2" height="2" fill="#1c1c70"/>
<rect x="212.4" y="246.2" width="2" height="2" fill="#1c1c70"/>
<rect x="212.4" y="249.6" width="2" height="2" fill="#2828c0"/>
<rect x="212.2" y="252.7" width="2" height="2" fill="#1c1c70"/>
<rect x="212.0" y="255.7" width="2" height="2" fill="#1c1c70"/>
<rect x="214.2" y="247.5" width="2" height="2" fill="#2828c0"/>
<rect x="214.5" y="250.7" width="2" height="2" fill="#1c1c70"/>
<rect x="214.1" y="254.2" width="2" height="2" fill="#2828c0"/>
<rect x="214.3" y="257.3" width="2" height="2" fill="#1c1c70"/>
<rect x="214.3" y="260.0" width="2" height="2" fill="#1c1c70"/>
<rect x="216.3" y="249.3" width="2" height="2" fill="#2828c0"/>
<rect x="216.2" y="252.3" width="2" height="2" fill="#1c1c70"/>
<rect x="216.2" y="255.0" width="2" height="2" fill="#8020a0"/>
<rect x="218.2" y="250.4" width="2" height="2" fill="#2828c0"/>
<rect x="218.5" y="253.4" width="2" height="2" fill="#1c1c70"/>
<rect x="218.7" y="256.8" width="2" height="2" fill="#1c1c70"/>
<rect x="220.6" y="254.7" width="2" height="2" fill="#1c1c70"/>
<rect x="216.6" y="242.2" width="2" height="2" fill="#1c1c70"/>
<rect x="220.5" y="241.7" width="2" height="2" fill="#1c1c70"/>
<rect x="225.2" y="242.1" width="2" height="2" fill="#1c1c70"/>
<rect x="227.9" y="242.2" width="2" height="2" fill="#1c1c70"/>
<rect x="215.9" y="244.3" width="2" height="2" fill="#1c1c70"/>
<rect x="223.3" y="244.5" width="2" height="2" fill="#1c1c70"/>
<rect x="225.4" y="243.6" width="2" height="2" fill="#1c1c70"/>
<rect x="220.6" y="246.1" width="2" height="2" fill="#1c1c70"/>
<rect x="222.7" y="246.8" width="2" height="2" fill="#1c1c70"/>
<rect x="211.7" y="262.3" width="2" height="2" fill="#1c1c70"/>
<rect x="213.5" y="257.1" width="2" height="2" fill="#1c1c70"/>
<rect x="213.6" y="260.2" width="2" height="2" fill="#1c1c70"/>
<rect x="215.7" y="255.6" width="2" height="2" fill="#1c1c70"/>
<rect x="216.0" y="261.8" width="2" height="2" fill="#1c1c70"/>
<rect x="218.2" y="259.9" width="2" height="2" fill="#1c1c70"/>
<rect x="218.2" y="263.1" width="2" height="2" fill="#1c1c70"/>
<rect x="220.0" y="261.1" width="2" height="2" fill="#1c1c70"/>
<rect x="222.1" y="256.5" width="2" height="2" fill="#1c1c70"/>
<rect x="222.0" y="259.6" width="2" height="2" fill="#1c1c70"/>
<rect x="222.3" y="262.9" width="2" height="2" fill="#1c1c70"/>
<rect x="224.6" y="253.4" width="2" height="2" fill="#1c1c70"/>
<rect x="228.1" y="249.9" width="2" height="2" fill="#1c1c70"/>
<rect x="230.3" y="249.4" width="2" height="2" fill="#1c1c70"/>
<rect x="240.1" y="250.3" width="2" height="2" fill="#1c1c70"/>
<rect x="243.2" y="249.4" width="2" height="2" fill="#1c1c70"/>
<rect x="246.3" y="250.3" width="2" height="2" fill="#1c1c70"/>
<rect x="248.6" y="249.4" width="2" height="2" fill="#1c1c70"/>
<rect x="240.1" y="253.4" width="2" height="2" fill="#1c1c70"/>
<rect x="246.3" y="254.3" width="2" height="2" fill="#1c1c70"/>
<rect x="255.7" y="254.3" width="2" height="2" fill="#1c1c70"/>
<rect x="258.8" y="257.4" width="2" height="2" fill="#1c1c70"/>
<rect x="258.8" y="260.1" width="2" height="2" fill="#6a966a"/>
<rect x="227.7" y="259.7" width="2" height="2" fill="#1c1c70"/>
<rect x="229.4" y="257.4" width="2" height="2" fill="#1c1c70"/>
<rect x="229.0" y="264.1" width="2" height="2" fill="#1c1c70"/>
<rect x="232.1" y="262.8" width="2" height="2" fill="#1c1c70"/>
<rect x="235.2" y="261.0" width="2" height="2" fill="#1c1c70"/>
<rect x="232.6" y="265.9" width="2" height="2" fill="#1c1c70"/>
<rect x="235.7" y="265.4" width="2" height="2" fill="#1c1c70"/>
<rect x="237.0" y="264.6" width="2" height="2" fill="#1c1c70"/>
<rect x="246.3" y="265.0" width="2" height="2" fill="#1c1c70"/>
<rect x="252.6" y="261.9" width="2" height="2" fill="#1c1c70"/>
<rect x="255.7" y="265.0" width="2" height="2" fill="#1c1c70"/>
<rect x="266.8" y="268.1" width="2" height="2" fill="#1c1c70"/>
<rect x="239.7" y="267.7" width="2" height="2" fill="#1c1c70"/>
<rect x="241.4" y="267.8" width="2" height="2" fill="#1c1c70"/>
<rect x="213.4" y="268.1" width="2" height="2" fill="#1c1c70"/>
<rect x="217.0" y="268.1" width="2" height="2" fill="#1c1c70"/>
<rect x="225.4" y="268.1" width="2" height="2" fill="#52da52"/>
<rect x="239.7" y="272.3" width="2" height="2" fill="#1c1c70"/>
<rect x="248.1" y="272.6" width="2" height="2" fill="#1c1c70"/>
<rect x="249.4" y="273.2" width="2" height="2" fill="#1c1c70"/>
<rect x="258.8" y="271.7" width="2" height="2" fill="#1c1c70"/>
<rect x="218.3" y="276.6" width="2" height="2" fill="#1c1c70"/>
<rect x="237.0" y="276.6" width="2" height="2" fill="#1c1c70"/>
<rect x="244.6" y="275.7" width="2" height="2" fill="#1c1c70"/>
<rect x="171.2" y="280.1" width="2" height="2" fill="#1c1c70"/>
<rect x="174.3" y="278.8" width="2" height="2" fill="#1c1c70"/>
<rect x="174.8" y="280.6" width="2" height="2" fill="#1c1c70"/>
<rect x="184.1" y="277.9" width="2" height="2" fill="#1c1c70"/>
<rect x="184.6" y="280.1" width="2" height="2" fill="#1c1c70"/>
<rect x="185.4" y="282.3" width="2" height="2" fill="#1c1c70"/>
<rect x="188.1" y="282.3" width="2" height="2" fill="#1c1c70"/>
<rect x="191.2" y="280.6" width="2" height="2" fill="#1c1c70"/>
<rect x="193.4" y="279.7" width="2" height="2" fill="#1c1c70"/>
<rect x="192.1" y="283.2" width="2" height="2" fill="#1c1c70"/>
<rect x="195.2" y="281.4" width="2" height="2" fill="#1c1c70"/>
<rect x="198.3" y="276.6" width="2" height="2" fill="#1c1c70"/>
<rect x="200.1" y="278.8" width="2" height="2" fill="#1c1c70"/>
<rect x="201.4" y="281.9" width="2" height="2" fill="#1c1c70"/>
<rect x="427.4" y="214.0" width="2" height="2" fill="#6a966a"/>
<rect x="436.9" y="212.5" width="2" height="2" fill="#6a966a"/>
<rect x="433.9" y="215.8" width="2" height="2" fill="#141428"/>
<rect x="480.7" y="215.9" width="2" height="2" fill="#6a966a"/>
<rect x="410.1" y="214.3" width="2" height="2" fill="#141428"/>
<rect x="416.7" y="214.3" width="2" height="2" fill="#52da52"/>
<rect x="419.8" y="213.1" width="2" height="2" fill="#52da52"/>
<rect x="388.7" y="225.7" width="2" height="2" fill="#6a966a"/>
<rect x="416.7" y="223.1" width="2" height="2" fill="#141428"/>
<rect x="415.4" y="225.6" width="2" height="2" fill="#141428"/>
<rect x="405.6" y="231.1" width="2" height="2" fill="#141428"/>
<rect x="415.4" y="230.6" width="2" height="2" fill="#1c1c70"/>
<rect x="418.5" y="230.0" width="2" height="2" fill="#52da52"/>
<rect x="422.1" y="231.1" width="2" height="2" fill="#1c1c70"/>
<rect x="410.5" y="235.1" width="2" height="2" fill="#1c1c70"/>
<rect x="411.8" y="235.5" width="2" height="2" fill="#1c1c70"/>
<rect x="414.5" y="237.3" width="2" height="2" fill="#52da52"/>
<rect x="416.7" y="234.2" width="2" height="2" fill="#52da52"/>
<rect x="419.4" y="235.5" width="2" height="2" fill="#52da52"/>
<rect x="422.1" y="236.4" width="2" height="2" fill="#1c1c70"/>
<rect x="380.7" y="237.3" width="2" height="2" fill="#52da52"/>
<rect x="382.1" y="239.1" width="2" height="2" fill="#1c1c70"/>
<rect x="384.7" y="237.7" width="2" height="2" fill="#52da52"/>
<rect x="381.2" y="242.6" width="2" height="2" fill="#1c1c70"/>
<rect x="384.3" y="242.6" width="2" height="2" fill="#52da52"/>
<rect x="391.8" y="239.5" width="2" height="2" fill="#52da52"/>
<rect x="393.6" y="240.9" width="2" height="2" fill="#52da52"/>
<rect x="395.4" y="242.2" width="2" height="2" fill="#52da52"/>
<rect x="399.4" y="237.7" width="2" height="2" fill="#52da52"/>
<rect x="402.5" y="239.5" width="2" height="2" fill="#52da52"/>
<rect x="404.3" y="240.4" width="2" height="2" fill="#52da52"/>
<rect x="390.1" y="242.6" width="2" height="2" fill="#1c1c70"/>
<rect x="391.0" y="244.0" width="2" height="2" fill="#1c1c70"/>
<rect x="392.7" y="244.9" width="2" height="2" fill="#141428"/>
<rect x="387.4" y="244.9" width="2" height="2" fill="#52da52"/>
<rect x="388.3" y="246.6" width="2" height="2" fill="#1c1c70"/>
<rect x="384.7" y="247.1" width="2" height="2" fill="#52da52"/>
<rect x="383.4" y="248.4" width="2" height="2" fill="#52da52"/>
<rect x="379.4" y="249.3" width="2" height="2" fill="#1c1c70"/>
<rect x="386.5" y="249.7" width="2" height="2" fill="#1c1c70"/>
<rect x="401.6" y="244.0" width="2" height="2" fill="#141428"/>
<rect x="403.0" y="244.4" width="2" height="2" fill="#141428"/>
<rect x="404.3" y="244.9" width="2" height="2" fill="#141428"/>
<rect x="407.0" y="242.6" width="2" height="2" fill="#141428"/>
<rect x="409.2" y="243.5" width="2" height="2" fill="#141428"/>
<rect x="411.4" y="244.9" width="2" height="2" fill="#141428"/>
<rect x="413.2" y="246.2" width="2" height="2" fill="#141428"/>
<rect x="415.0" y="248.0" width="2" height="2" fill="#141428"/>
<rect x="407.8" y="246.2" width="2" height="2" fill="#141428"/>
<rect x="409.6" y="247.5" width="2" height="2" fill="#141428"/>
<rect x="411.4" y="248.9" width="2" height="2" fill="#141428"/>
<rect x="405.2" y="247.1" width="2" height="2" fill="#1c1c70"/>
<rect x="407.0" y="248.4" width="2" height="2" fill="#1c1c70"/>
<rect x="408.7" y="249.7" width="2" height="2" fill="#1c1c70"/>
<rect x="399.0" y="247.1" width="2" height="2" fill="#52da52"/>
<rect x="397.6" y="248.9" width="2" height="2" fill="#52da52"/>
<rect x="395.4" y="250.2" width="2" height="2" fill="#1c1c70"/>
<rect x="416.7" y="241.7" width="2" height="2" fill="#1c1c70"/>
<rect x="418.5" y="243.1" width="2" height="2" fill="#52da52"/>
<rect x="420.3" y="244.4" width="2" height="2" fill="#52da52"/>
<rect x="422.1" y="242.6" width="2" height="2" fill="#1c1c70"/>
<rect x="416.7" y="245.3" width="2" height="2" fill="#1c1c70"/>
<rect x="419.4" y="246.2" width="2" height="2" fill="#52da52"/>
<rect x="421.2" y="248.0" width="2" height="2" fill="#52da52"/>
<rect x="423.0" y="247.1" width="2" height="2" fill="#1c1c70"/>
<rect x="413.2" y="250.2" width="2" height="2" fill="#52da52"/>
<rect x="416.7" y="249.7" width="2" height="2" fill="#52da52"/>
<rect x="420.3" y="250.6" width="2" height="2" fill="#52da52"/>
<rect x="392.7" y="247.1" width="2" height="2" fill="#1c1c70"/>
<rect x="391.8" y="248.9" width="2" height="2" fill="#1c1c70"/>
<rect x="435.4" y="232.0" width="2" height="2" fill="#1c1c70"/>
<rect x="449.6" y="230.0" width="2" height="2" fill="#6a966a"/>
<rect x="457.0" y="229.3" width="2" height="2" fill="#6a966a"/>
<rect x="480.7" y="229.7" width="2" height="2" fill="#6a966a"/>
<rect x="427.0" y="237.3" width="2" height="2" fill="#52da52"/>
<rect x="430.5" y="235.5" width="2" height="2" fill="#52da52"/>
<rect x="434.1" y="234.6" width="2" height="2" fill="#52da52"/>
<rect x="436.7" y="236.4" width="2" height="2" fill="#52da52"/>
<rect x="435.0" y="239.1" width="2" height="2" fill="#52da52"/>
<rect x="439.8" y="235.5" width="2" height="2" fill="#1c1c70"/>
<rect x="441.2" y="237.3" width="2" height="2" fill="#1c1c70"/>
<rect x="443.8" y="237.7" width="2" height="2" fill="#1c1c70"/>
<rect x="446.5" y="238.6" width="2" height="2" fill="#1c1c70"/>
<rect x="449.6" y="235.1" width="2" height="2" fill="#141428"/>
<rect x="449.6" y="237.7" width="2" height="2" fill="#141428"/>
<rect x="449.6" y="240.4" width="2" height="2" fill="#141428"/>
<rect x="449.6" y="243.1" width="2" height="2" fill="#141428"/>
<rect x="449.6" y="245.7" width="2" height="2" fill="#141428"/>
<rect x="449.6" y="248.0" width="2" height="2" fill="#1c1c70"/>
<rect x="439.4" y="240.9" width="2" height="2" fill="#52da52"/>
<rect x="441.2" y="241.7" width="2" height="2" fill="#52da52"/>
<rect x="443.4" y="242.6" width="2" height="2" fill="#52da52"/>
<rect x="453.6" y="240.9" width="2" height="2" fill="#1c1c70"/>
<rect x="454.5" y="243.1" width="2" height="2" fill="#1c1c70"/>
<rect x="452.7" y="244.4" width="2" height="2" fill="#1c1c70"/>
<rect x="457.6" y="237.7" width="2" height="2" fill="#1c1c70"/>
<rect x="459.8" y="237.7" width="2" height="2" fill="#1c1c70"/>
<rect x="457.2" y="242.6" width="2" height="2" fill="#1c1c70"/>
<rect x="459.0" y="243.5" width="2" height="2" fill="#141428"/>
<rect x="460.7" y="241.7" width="2" height="2" fill="#1c1c70"/>
<rect x="462.1" y="244.9" width="2" height="2" fill="#1c1c70"/>
<rect x="465.2" y="240.0" width="2" height="2" fill="#1c1c70"/>
<rect x="467.0" y="241.3" width="2" height="2" fill="#1c1c70"/>
<rect x="468.7" y="242.6" width="2" height="2" fill="#1c1c70"/>
<rect x="470.5" y="244.4" width="2" height="2" fill="#1c1c70"/>
<rect x="471.8" y="245.7" width="2" height="2" fill="#1c1c70"/>
<rect x="468.3" y="235.1" width="2" height="2" fill="#6a966a"/>
<rect x="471.4" y="237.7" width="2" height="2" fill="#6a966a"/>
<rect x="475.8" y="236.0" width="2" height="2" fill="#6a966a"/>
<rect x="475.8" y="240.0" width="2" height="2" fill="#1c1c70"/>
<rect x="475.8" y="242.6" width="2" height="2" fill="#1c1c70"/>
<rect x="475.8" y="245.3" width="2" height="2" fill="#141428"/>
<rect x="473.2" y="242.6" width="2" height="2" fill="#1c1c70"/>
<rect x="478.5" y="244.0" width="2" height="2" fill="#1c1c70"/>
<rect x="482.1" y="245.7" width="2" height="2" fill="#1c1c70"/>
<rect x="481.6" y="248.0" width="2" height="2" fill="#52da52"/>
<rect x="425.2" y="240.0" width="2" height="2" fill="#1c1c70"/>
<rect x="426.1" y="242.6" width="2" height="2" fill="#52da52"/>
<rect x="427.8" y="244.4" width="2" height="2" fill="#52da52"/>
<rect x="430.5" y="246.2" width="2" height="2" fill="#1c1c70"/>
<rect x="432.3" y="248.0" width="2" height="2" fill="#52da52"/>
<rect x="428.7" y="248.0" width="2" height="2" fill="#1c1c70"/>
<rect x="426.1" y="249.7" width="2" height="2" fill="#52da52"/>
<rect x="434.1" y="243.5" width="2" height="2" fill="#52da52"/>
<rect x="436.7" y="244.9" width="2" height="2" fill="#52da52"/>
<rect x="434.1" y="248.0" width="2" height="2" fill="#1c1c70"/>
<rect x="436.7" y="248.0" width="2" height="2" fill="#b8203c"/>
<rect x="439.4" y="247.1" width="2" height="2" fill="#52da52"/>
<rect x="443.8" y="246.2" width="2" height="2" fill="#b8203c"/>
<rect x="445.2" y="248.0" width="2" height="2" fill="#8020a0"/>
<rect x="444.7" y="249.7" width="2" height="2" fill="#b8203c"/>
<rect x="442.1" y="248.9" width="2" height="2" fill="#52da52"/>
<rect x="450.1" y="249.7" width="2" height="2" fill="#52da52"/>
<rect x="452.7" y="249.7" width="2" height="2" fill="#1c1c70"/>
<rect x="457.2" y="247.5" width="2" height="2" fill="#52da52"/>
<rect x="457.2" y="249.7" width="2" height="2" fill="#1c1c70"/>
<rect x="459.8" y="249.7" width="2" height="2" fill="#1c1c70"/>
<rect x="465.2" y="249.3" width="2" height="2" fill="#1c1c70"/>
<rect x="467.8" y="249.7" width="2" height="2" fill="#1c1c70"/>
<rect x="493.0" y="204.6" width="2" height="2" fill="#6a966a"/>
<rect x="495.8" y="206.3" width="2" height="2" fill="#6a966a"/>
<rect x="510.3" y="204.6" width="2" height="2" fill="#6a966a"/>
<rect x="527.4" y="202.3" width="2" height="2" fill="#6a966a"/>
<rect x="480.7" y="215.9" width="2" height="2" fill="#6a966a"/>
<rect x="493.0" y="215.1" width="2" height="2" fill="#6a966a"/>
<rect x="495.8" y="215.9" width="2" height="2" fill="#6a966a"/>
<rect x="510.3" y="215.1" width="2" height="2" fill="#6a966a"/>
<rect x="527.4" y="229.5" width="2" height="2" fill="#141428"/>
<rect x="485.4" y="239.2" width="2" height="2" fill="#141428"/>
<rect x="387.4" y="253.1" width="2" height="2" fill="#52da52"/>
<rect x="389.2" y="256.6" width="2" height="2" fill="#52da52"/>
<rect x="387.4" y="258.4" width="2" height="2" fill="#52da52"/>
<rect x="392.7" y="252.6" width="2" height="2" fill="#1c1c70"/>
<rect x="396.3" y="255.3" width="2" height="2" fill="#1c1c70"/>
<rect x="393.6" y="256.6" width="2" height="2" fill="#6a966a"/>
<rect x="399.8" y="253.1" width="2" height="2" fill="#52da52"/>
<rect x="402.5" y="254.9" width="2" height="2" fill="#52da52"/>
<rect x="405.2" y="253.1" width="2" height="2" fill="#52da52"/>
<rect x="407.8" y="254.4" width="2" height="2" fill="#52da52"/>
<rect x="410.5" y="253.5" width="2" height="2" fill="#1c1c70"/>
<rect x="413.2" y="254.9" width="2" height="2" fill="#52da52"/>
<rect x="416.7" y="252.6" width="2" height="2" fill="#1c1c70"/>
<rect x="420.3" y="254.0" width="2" height="2" fill="#52da52"/>
<rect x="422.1" y="255.3" width="2" height="2" fill="#1c1c70"/>
<rect x="402.5" y="258.4" width="2" height="2" fill="#1c1c70"/>
<rect x="406.1" y="259.7" width="2" height="2" fill="#52da52"/>
<rect x="409.6" y="258.9" width="2" height="2" fill="#1c1c70"/>
<rect x="413.2" y="260.2" width="2" height="2" fill="#52da52"/>
<rect x="416.7" y="258.4" width="2" height="2" fill="#52da52"/>
<rect x="420.3" y="261.1" width="2" height="2" fill="#1c1c70"/>
<rect x="422.1" y="259.3" width="2" height="2" fill="#52da52"/>
<rect x="399.0" y="262.9" width="2" height="2" fill="#52da52"/>
<rect x="400.7" y="264.6" width="2" height="2" fill="#52da52"/>
<rect x="403.8" y="264.6" width="2" height="2" fill="#1c1c70"/>
<rect x="407.0" y="263.3" width="2" height="2" fill="#52da52"/>
<rect x="409.6" y="262.9" width="2" height="2" fill="#52da52"/>
<rect x="413.2" y="263.7" width="2" height="2" fill="#52da52"/>
<rect x="416.7" y="262.9" width="2" height="2" fill="#1c1c70"/>
<rect x="419.4" y="264.6" width="2" height="2" fill="#52da52"/>
<rect x="422.1" y="262.9" width="2" height="2" fill="#52da52"/>
<rect x="391.8" y="262.0" width="2" height="2" fill="#1c1c70"/>
<rect x="393.2" y="264.2" width="2" height="2" fill="#1c1c70"/>
<rect x="392.7" y="266.0" width="2" height="2" fill="#1c1c70"/>
<rect x="393.2" y="267.7" width="2" height="2" fill="#1c1c70"/>
<rect x="402.5" y="266.4" width="2" height="2" fill="#1c1c70"/>
<rect x="404.3" y="268.2" width="2" height="2" fill="#1c1c70"/>
<rect x="408.7" y="268.0" width="2" height="2" fill="#6a966a"/>
<rect x="413.6" y="268.0" width="2" height="2" fill="#6a966a"/>
<rect x="416.7" y="268.0" width="2" height="2" fill="#6a966a"/>
<rect x="420.3" y="268.0" width="2" height="2" fill="#6a966a"/>
<rect x="422.5" y="268.0" width="2" height="2" fill="#6a966a"/>
<rect x="379.4" y="270.4" width="2" height="2" fill="#6a966a"/>
<rect x="387.0" y="270.4" width="2" height="2" fill="#6a966a"/>
<rect x="395.0" y="272.6" width="2" height="2" fill="#141428"/>
<rect x="399.8" y="270.9" width="2" height="2" fill="#52da52"/>
<rect x="409.6" y="270.9" width="2" height="2" fill="#6a966a"/>
<rect x="413.6" y="271.7" width="2" height="2" fill="#6a966a"/>
<rect x="422.5" y="271.7" width="2" height="2" fill="#6a966a"/>
<rect x="379.4" y="275.7" width="2" height="2" fill="#6a966a"/>
<rect x="398.5" y="277.5" width="2" height="2" fill="#141428"/>
<rect x="399.8" y="279.3" width="2" height="2" fill="#141428"/>
<rect x="408.7" y="276.6" width="2" height="2" fill="#6a966a"/>
<rect x="418.5" y="277.5" width="2" height="2" fill="#52da52"/>
<rect x="422.5" y="277.1" width="2" height="2" fill="#52da52"/>
<rect x="390.1" y="280.6" width="2" height="2" fill="#1c1c70"/>
<rect x="414.1" y="280.6" width="2" height="2" fill="#52da52"/>
<rect x="426.1" y="254.0" width="2" height="2" fill="#1c1c70"/>
<rect x="428.7" y="252.6" width="2" height="2" fill="#52da52"/>
<rect x="431.4" y="253.1" width="2" height="2" fill="#52da52"/>
<rect x="434.1" y="254.0" width="2" height="2" fill="#1c1c70"/>
<rect x="436.3" y="255.3" width="2" height="2" fill="#1c1c70"/>
<rect x="438.5" y="256.6" width="2" height="2" fill="#1c1c70"/>
<rect x="440.3" y="252.6" width="2" height="2" fill="#52da52"/>
<rect x="443.0" y="253.5" width="2" height="2" fill="#1c1c70"/>
<rect x="445.6" y="252.6" width="2" height="2" fill="#1c1c70"/>
<rect x="446.5" y="255.3" width="2" height="2" fill="#1c1c70"/>
<rect x="449.6" y="252.2" width="2" height="2" fill="#141428"/>
<rect x="449.6" y="254.9" width="2" height="2" fill="#141428"/>
<rect x="449.6" y="257.5" width="2" height="2" fill="#141428"/>
<rect x="449.6" y="260.2" width="2" height="2" fill="#141428"/>
<rect x="449.6" y="262.9" width="2" height="2" fill="#141428"/>
<rect x="449.6" y="265.5" width="2" height="2" fill="#b8203c"/>
<rect x="449.6" y="268.2" width="2" height="2" fill="#1c1c70"/>
<rect x="452.7" y="254.0" width="2" height="2" fill="#1c1c70"/>
<rect x="454.5" y="253.1" width="2" height="2" fill="#1c1c70"/>
<rect x="457.2" y="253.1" width="2" height="2" fill="#1c1c70"/>
<rect x="459.0" y="254.4" width="2" height="2" fill="#1c1c70"/>
<rect x="452.7" y="256.6" width="2" height="2" fill="#1c1c70"/>
<rect x="455.4" y="257.5" width="2" height="2" fill="#1c1c70"/>
<rect x="458.1" y="256.2" width="2" height="2" fill="#1c1c70"/>
<rect x="460.7" y="255.3" width="2" height="2" fill="#1c1c70"/>
<rect x="453.6" y="260.2" width="2" height="2" fill="#1c1c70"/>
<rect x="455.4" y="261.5" width="2" height="2" fill="#1c1c70"/>
<rect x="458.1" y="260.2" width="2" height="2" fill="#1c1c70"/>
<rect x="459.8" y="259.3" width="2" height="2" fill="#1c1c70"/>
<rect x="462.5" y="253.1" width="2" height="2" fill="#1c1c70"/>
<rect x="464.7" y="254.4" width="2" height="2" fill="#1c1c70"/>
<rect x="467.0" y="255.7" width="2" height="2" fill="#1c1c70"/>
<rect x="463.4" y="257.1" width="2" height="2" fill="#1c1c70"/>
<rect x="466.1" y="258.0" width="2" height="2" fill="#1c1c70"/>
<rect x="464.3" y="259.3" width="2" height="2" fill="#1c1c70"/>
<rect x="469.6" y="256.6" width="2" height="2" fill="#1c1c70"/>
<rect x="471.8" y="257.5" width="2" height="2" fill="#1c1c70"/>
<rect x="470.5" y="259.7" width="2" height="2" fill="#6a966a"/>
<rect x="473.2" y="260.2" width="2" height="2" fill="#1c1c70"/>
<rect x="473.2" y="262.4" width="2" height="2" fill="#1c1c70"/>
<rect x="475.8" y="262.4" width="2" height="2" fill="#1c1c70"/>
<rect x="478.1" y="263.7" width="2" height="2" fill="#141428"/>
<rect x="476.7" y="253.1" width="2" height="2" fill="#52da52"/>
<rect x="481.2" y="258.4" width="2" height="2" fill="#52da52"/>
<rect x="467.8" y="264.2" width="2" height="2" fill="#52da52"/>
<rect x="471.4" y="264.6" width="2" height="2" fill="#52da52"/>
<rect x="465.2" y="262.4" width="2" height="2" fill="#b8203c"/>
<rect x="461.6" y="267.7" width="2" height="2" fill="#52da52"/>
<rect x="428.7" y="256.6" width="2" height="2" fill="#1c1c70"/>
<rect x="430.5" y="258.0" width="2" height="2" fill="#1c1c70"/>
<rect x="428.7" y="260.2" width="2" height="2" fill="#52da52"/>
<rect x="431.4" y="260.2" width="2" height="2" fill="#52da52"/>
<rect x="434.1" y="258.9" width="2" height="2" fill="#52da52"/>
<rect x="436.7" y="259.3" width="2" height="2" fill="#b8203c"/>
<rect x="438.5" y="260.2" width="2" height="2" fill="#8020a0"/>
<rect x="441.2" y="261.1" width="2" height="2" fill="#1c1c70"/>
<rect x="442.5" y="262.9" width="2" height="2" fill="#1c1c70"/>
<rect x="443.8" y="264.6" width="2" height="2" fill="#b8203c"/>
<rect x="426.1" y="262.4" width="2" height="2" fill="#52da52"/>
<rect x="432.3" y="262.9" width="2" height="2" fill="#52da52"/>
<rect x="435.0" y="262.4" width="2" height="2" fill="#1c1c70"/>
<rect x="437.6" y="263.7" width="2" height="2" fill="#1c1c70"/>
<rect x="440.3" y="264.6" width="2" height="2" fill="#1c1c70"/>
<rect x="426.1" y="265.5" width="2" height="2" fill="#1c1c70"/>
<rect x="428.7" y="266.0" width="2" height="2" fill="#52da52"/>
<rect x="432.3" y="267.7" width="2" height="2" fill="#6a966a"/>
<rect x="437.2" y="268.2" width="2" height="2" fill="#1c1c70"/>
<rect x="439.0" y="267.7" width="2" height="2" fill="#1c1c70"/>
<rect x="441.2" y="268.2" width="2" height="2" fill="#1c1c70"/>
<rect x="443.8" y="268.2" width="2" height="2" fill="#1c1c70"/>
<rect x="446.5" y="268.2" width="2" height="2" fill="#1c1c70"/>
<rect x="453.6" y="264.6" width="2" height="2" fill="#1c1c70"/>
<rect x="454.1" y="267.7" width="2" height="2" fill="#1c1c70"/>
<rect x="454.1" y="271.7" width="2" height="2" fill="#1c1c70"/>
<rect x="426.1" y="271.3" width="2" height="2" fill="#52da52"/>
<rect x="431.4" y="271.7" width="2" height="2" fill="#52da52"/>
<rect x="434.1" y="270.4" width="2" height="2" fill="#1c1c70"/>
<rect x="441.2" y="270.9" width="2" height="2" fill="#52da52"/>
<rect x="443.4" y="272.2" width="2" height="2" fill="#52da52"/>
<rect x="444.7" y="273.5" width="2" height="2" fill="#1c1c70"/>
<rect x="444.7" y="276.2" width="2" height="2" fill="#1c1c70"/>
<rect x="438.5" y="274.9" width="2" height="2" fill="#1c1c70"/>
<rect x="436.7" y="276.2" width="2" height="2" fill="#52da52"/>
<rect x="457.2" y="272.2" width="2" height="2" fill="#6a966a"/>
<rect x="424.3" y="277.1" width="2" height="2" fill="#52da52"/>
<rect x="428.7" y="279.7" width="2" height="2" fill="#52da52"/>
<rect x="431.4" y="278.9" width="2" height="2" fill="#52da52"/>
<rect x="416.7" y="281.9" width="2" height="2" fill="#52da52"/>
<rect x="485.4" y="252.6" width="2" height="2" fill="#141428"/>
<rect x="380.8" y="256.0" width="2" height="2" fill="#3e5e46"/>
<rect x="382.8" y="251.2" width="2" height="2" fill="#52da52"/>
<rect x="383.1" y="254.3" width="2" height="2" fill="#52da52"/>
<rect x="382.7" y="260.9" width="2" height="2" fill="#1c1c70"/>
<rect x="384.8" y="246.8" width="2" height="2" fill="#52da52"/>
<rect x="384.6" y="249.6" width="2" height="2" fill="#52da52"/>
<rect x="385.1" y="258.7" width="2" height="2" fill="#52da52"/>
<rect x="384.8" y="261.9" width="2" height="2" fill="#3e5e46"/>
<rect x="387.3" y="250.9" width="2" height="2" fill="#52da52"/>
<rect x="389.1" y="243.3" width="2" height="2" fill="#52da52"/>
<rect x="389.3" y="249.0" width="2" height="2" fill="#52da52"/>
<rect x="389.0" y="252.5" width="2" height="2" fill="#3e5e46"/>
<rect x="389.0" y="255.4" width="2" height="2" fill="#1c1c70"/>
<rect x="388.9" y="261.6" width="2" height="2" fill="#1c1c70"/>
<rect x="391.5" y="241.5" width="2" height="2" fill="#52da52"/>
<rect x="391.2" y="247.8" width="2" height="2" fill="#52da52"/>
<rect x="391.3" y="253.8" width="2" height="2" fill="#52da52"/>
<rect x="393.2" y="242.5" width="2" height="2" fill="#52da52"/>
<rect x="393.1" y="245.6" width="2" height="2" fill="#52da52"/>
<rect x="393.1" y="248.6" width="2" height="2" fill="#3e5e46"/>
<rect x="393.1" y="252.1" width="2" height="2" fill="#3e5e46"/>
<rect x="393.1" y="261.2" width="2" height="2" fill="#1c1c70"/>
<rect x="393.1" y="264.2" width="2" height="2" fill="#52da52"/>
<rect x="395.5" y="250.4" width="2" height="2" fill="#52da52"/>
<rect x="395.5" y="256.2" width="2" height="2" fill="#3e5e46"/>
<rect x="395.7" y="259.2" width="2" height="2" fill="#52da52"/>
<rect x="397.4" y="248.3" width="2" height="2" fill="#3e5e46"/>
<rect x="397.7" y="254.7" width="2" height="2" fill="#52da52"/>
<rect x="397.3" y="257.9" width="2" height="2" fill="#3e5e46"/>
<rect x="397.5" y="260.6" width="2" height="2" fill="#52da52"/>
<rect x="399.9" y="246.6" width="2" height="2" fill="#1c1c70"/>
<rect x="399.9" y="249.8" width="2" height="2" fill="#52da52"/>
<rect x="399.5" y="253.1" width="2" height="2" fill="#52da52"/>
<rect x="399.3" y="255.8" width="2" height="2" fill="#52da52"/>
<rect x="399.7" y="262.0" width="2" height="2" fill="#52da52"/>
<rect x="399.9" y="265.1" width="2" height="2" fill="#52da52"/>
<rect x="401.5" y="241.6" width="2" height="2" fill="#1c1c70"/>
<rect x="401.6" y="251.4" width="2" height="2" fill="#3e5e46"/>
<rect x="401.8" y="260.5" width="2" height="2" fill="#52da52"/>
<rect x="401.5" y="263.5" width="2" height="2" fill="#3e5e46"/>
<rect x="403.6" y="243.5" width="2" height="2" fill="#52da52"/>
<rect x="404.0" y="249.1" width="2" height="2" fill="#1c1c70"/>
<rect x="404.0" y="255.8" width="2" height="2" fill="#3e5e46"/>
<rect x="403.9" y="261.8" width="2" height="2" fill="#52da52"/>
<rect x="406.2" y="244.5" width="2" height="2" fill="#3e5e46"/>
<rect x="405.9" y="247.5" width="2" height="2" fill="#1c1c70"/>
<rect x="405.8" y="250.7" width="2" height="2" fill="#52da52"/>
<rect x="406.0" y="256.7" width="2" height="2" fill="#52da52"/>
<rect x="408.2" y="249.1" width="2" height="2" fill="#3e5e46"/>
<rect x="408.1" y="255.4" width="2" height="2" fill="#3e5e46"/>
<rect x="407.9" y="258.5" width="2" height="2" fill="#52da52"/>
<rect x="409.0" y="251.2" width="2" height="2" fill="#3e5e46"/>
<rect x="410.8" y="243.7" width="2" height="2" fill="#52da52"/>
<rect x="410.9" y="246.4" width="2" height="2" fill="#3e5e46"/>
<rect x="411.0" y="249.5" width="2" height="2" fill="#52da52"/>
<rect x="411.1" y="252.5" width="2" height="2" fill="#1c1c70"/>
<rect x="411.2" y="255.8" width="2" height="2" fill="#52da52"/>
<rect x="410.8" y="259.0" width="2" height="2" fill="#52da52"/>
<rect x="413.0" y="244.7" width="2" height="2" fill="#52da52"/>
<rect x="413.3" y="250.9" width="2" height="2" fill="#1c1c70"/>
<rect x="413.1" y="254.2" width="2" height="2" fill="#1c1c70"/>
<rect x="412.8" y="257.1" width="2" height="2" fill="#52da52"/>
<rect x="412.8" y="263.2" width="2" height="2" fill="#52da52"/>
<rect x="415.0" y="243.1" width="2" height="2" fill="#52da52"/>
<rect x="415.2" y="246.0" width="2" height="2" fill="#52da52"/>
<rect x="414.9" y="252.1" width="2" height="2" fill="#1c1c70"/>
<rect x="415.2" y="255.3" width="2" height="2" fill="#1c1c70"/>
<rect x="415.2" y="264.8" width="2" height="2" fill="#52da52"/>
<rect x="417.4" y="237.9" width="2" height="2" fill="#52da52"/>
<rect x="417.0" y="241.5" width="2" height="2" fill="#52da52"/>
<rect x="417.5" y="244.2" width="2" height="2" fill="#1c1c70"/>
<rect x="417.3" y="247.4" width="2" height="2" fill="#3e5e46"/>
<rect x="416.9" y="253.9" width="2" height="2" fill="#1c1c70"/>
<rect x="417.4" y="262.7" width="2" height="2" fill="#1c1c70"/>
<rect x="417.0" y="268.9" width="2" height="2" fill="#52da52"/>
<rect x="419.6" y="239.4" width="2" height="2" fill="#1c1c70"/>
<rect x="419.3" y="242.8" width="2" height="2" fill="#1c1c70"/>
<rect x="419.6" y="246.0" width="2" height="2" fill="#1c1c70"/>
<rect x="419.2" y="248.7" width="2" height="2" fill="#52da52"/>
<rect x="419.4" y="261.2" width="2" height="2" fill="#52da52"/>
<rect x="421.5" y="244.2" width="2" height="2" fill="#3e5e46"/>
<rect x="421.6" y="247.3" width="2" height="2" fill="#3e5e46"/>
<rect x="421.6" y="250.0" width="2" height="2" fill="#3e5e46"/>
<rect x="421.3" y="253.1" width="2" height="2" fill="#52da52"/>
<rect x="421.5" y="256.1" width="2" height="2" fill="#1c1c70"/>
<rect x="421.5" y="259.4" width="2" height="2" fill="#1c1c70"/>
<rect x="423.8" y="238.9" width="2" height="2" fill="#1c1c70"/>
<rect x="423.8" y="242.5" width="2" height="2" fill="#52da52"/>
<rect x="423.4" y="248.2" width="2" height="2" fill="#1c1c70"/>
<rect x="423.4" y="251.5" width="2" height="2" fill="#52da52"/>
<rect x="423.2" y="254.8" width="2" height="2" fill="#52da52"/>
<rect x="423.2" y="267.0" width="2" height="2" fill="#1c1c70"/>
<rect x="425.6" y="237.1" width="2" height="2" fill="#52da52"/>
<rect x="425.4" y="253.1" width="2" height="2" fill="#3e5e46"/>
<rect x="425.7" y="259.3" width="2" height="2" fill="#3e5e46"/>
<rect x="427.6" y="238.6" width="2" height="2" fill="#52da52"/>
<rect x="427.9" y="244.9" width="2" height="2" fill="#1c1c70"/>
<rect x="427.6" y="254.2" width="2" height="2" fill="#52da52"/>
<rect x="427.6" y="260.3" width="2" height="2" fill="#52da52"/>
<rect x="427.6" y="263.8" width="2" height="2" fill="#52da52"/>
<rect x="427.8" y="266.8" width="2" height="2" fill="#3e5e46"/>
<rect x="429.6" y="246.5" width="2" height="2" fill="#3e5e46"/>
<rect x="429.7" y="255.4" width="2" height="2" fill="#1c1c70"/>
<rect x="429.6" y="258.5" width="2" height="2" fill="#1c1c70"/>
<rect x="429.9" y="261.9" width="2" height="2" fill="#1c1c70"/>
<rect x="431.8" y="251.0" width="2" height="2" fill="#52da52"/>
<rect x="431.8" y="257.2" width="2" height="2" fill="#52da52"/>
<rect x="434.2" y="252.0" width="2" height="2" fill="#1c1c70"/>
<rect x="445.1" y="240.2" width="2" height="2" fill="#6a966a"/>
<rect x="447.0" y="239.8" width="2" height="2" fill="#52da52"/>
<rect x="452.8" y="240.1" width="2" height="2" fill="#6a966a"/>
<rect x="445.0" y="243.1" width="2" height="2" fill="#3e5e46"/>
<rect x="447.7" y="242.8" width="2" height="2" fill="#1c1c70"/>
<rect x="450.4" y="243.1" width="2" height="2" fill="#3e5e46"/>
<rect x="453.0" y="242.5" width="2" height="2" fill="#3e5e46"/>
<rect x="456.0" y="242.7" width="2" height="2" fill="#52da52"/>
<rect x="447.5" y="245.9" width="2" height="2" fill="#6a966a"/>
<rect x="450.4" y="245.9" width="2" height="2" fill="#1c1c70"/>
<rect x="453.0" y="245.4" width="2" height="2" fill="#6a966a"/>
<rect x="458.2" y="245.2" width="2" height="2" fill="#6a966a"/>
<rect x="442.0" y="248.4" width="2" height="2" fill="#1c1c70"/>
<rect x="444.9" y="247.9" width="2" height="2" fill="#1c1c70"/>
<rect x="447.4" y="248.0" width="2" height="2" fill="#1c1c70"/>
<rect x="452.7" y="248.0" width="2" height="2" fill="#1c1c70"/>
<rect x="444.4" y="251.1" width="2" height="2" fill="#6a966a"/>
<rect x="447.2" y="251.3" width="2" height="2" fill="#3e5e46"/>
<rect x="450.5" y="250.7" width="2" height="2" fill="#6a966a"/>
<rect x="458.2" y="251.2" width="2" height="2" fill="#52da52"/>
<rect x="461.5" y="251.0" width="2" height="2" fill="#1c1c70"/>
<rect x="441.9" y="253.2" width="2" height="2" fill="#6a966a"/>
<rect x="444.9" y="253.1" width="2" height="2" fill="#52da52"/>
<rect x="449.8" y="253.8" width="2" height="2" fill="#52da52"/>
<rect x="458.4" y="253.7" width="2" height="2" fill="#3e5e46"/>
<rect x="460.8" y="253.1" width="2" height="2" fill="#1c1c70"/>
<rect x="442.1" y="256.5" width="2" height="2" fill="#6a966a"/>
<rect x="444.5" y="256.6" width="2" height="2" fill="#52da52"/>
<rect x="447.9" y="256.2" width="2" height="2" fill="#3e5e46"/>
<rect x="450.4" y="256.2" width="2" height="2" fill="#52da52"/>
<rect x="455.2" y="256.1" width="2" height="2" fill="#52da52"/>
<rect x="461.0" y="255.8" width="2" height="2" fill="#52da52"/>
<rect x="442.2" y="259.1" width="2" height="2" fill="#52da52"/>
<rect x="444.9" y="259.1" width="2" height="2" fill="#3e5e46"/>
<rect x="449.8" y="259.0" width="2" height="2" fill="#3e5e46"/>
<rect x="452.4" y="259.1" width="2" height="2" fill="#52da52"/>
<rect x="461.4" y="258.4" width="2" height="2" fill="#6a966a"/>
<rect x="445.0" y="261.4" width="2" height="2" fill="#6a966a"/>
<rect x="450.1" y="261.5" width="2" height="2" fill="#1c1c70"/>
<rect x="452.8" y="261.6" width="2" height="2" fill="#1c1c70"/>
<rect x="455.6" y="262.1" width="2" height="2" fill="#6a966a"/>
<rect x="447.1" y="264.8" width="2" height="2" fill="#1c1c70"/>
<rect x="450.4" y="264.7" width="2" height="2" fill="#52da52"/>
<rect x="452.5" y="263.8" width="2" height="2" fill="#1c1c70"/>
<rect x="458.6" y="264.7" width="2" height="2" fill="#1c1c70"/>
<rect x="450.4" y="267.2" width="2" height="2" fill="#3e5e46"/>
<rect x="467.8" y="242.3" width="2" height="2" fill="#6a966a"/>
<rect x="470.4" y="241.6" width="2" height="2" fill="#1c1c70"/>
<rect x="476.2" y="242.1" width="2" height="2" fill="#1c1c70"/>
<rect x="464.6" y="244.2" width="2" height="2" fill="#52da52"/>
<rect x="476.2" y="244.6" width="2" height="2" fill="#1c1c70"/>
<rect x="465.0" y="247.5" width="2" height="2" fill="#6a966a"/>
<rect x="472.8" y="247.4" width="2" height="2" fill="#1c1c70"/>
<rect x="464.7" y="250.6" width="2" height="2" fill="#6a966a"/>
<rect x="467.8" y="249.9" width="2" height="2" fill="#1c1c70"/>
<rect x="473.1" y="250.3" width="2" height="2" fill="#1c1c70"/>
<rect x="478.7" y="250.3" width="2" height="2" fill="#1c1c70"/>
<rect x="465.5" y="252.4" width="2" height="2" fill="#1c1c70"/>
<rect x="468.0" y="252.9" width="2" height="2" fill="#6a966a"/>
<rect x="470.2" y="253.2" width="2" height="2" fill="#3e5e46"/>
<rect x="473.6" y="253.0" width="2" height="2" fill="#1c1c70"/>
<rect x="475.8" y="252.9" width="2" height="2" fill="#1c1c70"/>
<rect x="465.5" y="255.8" width="2" height="2" fill="#52da52"/>
<rect x="470.7" y="255.8" width="2" height="2" fill="#6a966a"/>
<rect x="473.5" y="255.6" width="2" height="2" fill="#1c1c70"/>
<rect x="475.8" y="255.7" width="2" height="2" fill="#1c1c70"/>
<rect x="473.0" y="257.9" width="2" height="2" fill="#1c1c70"/>
<rect x="449.7" y="233.8" width="2" height="2" fill="#1c1c70"/>
<rect x="449.7" y="237.1" width="2" height="2" fill="#1c1c70"/>
<rect x="449.7" y="240.4" width="2" height="2" fill="#1c1c70"/>
<rect x="449.7" y="243.7" width="2" height="2" fill="#1c1c70"/>
<rect x="449.7" y="247.0" width="2" height="2" fill="#1c1c70"/>
<rect x="449.7" y="250.3" width="2" height="2" fill="#1c1c70"/>
<rect x="449.7" y="253.6" width="2" height="2" fill="#1c1c70"/>
<rect x="449.7" y="256.9" width="2" height="2" fill="#1c1c70"/>
<rect x="449.7" y="260.2" width="2" height="2" fill="#1c1c70"/>
<rect x="449.7" y="263.5" width="2" height="2" fill="#1c1c70"/>
<rect x="449.7" y="266.8" width="2" height="2" fill="#1c1c70"/>
<rect x="449.7" y="270.1" width="2" height="2" fill="#1c1c70"/>
<rect x="449.7" y="273.4" width="2" height="2" fill="#1c1c70"/>
<rect x="485.6" y="216.4" width="2" height="2" fill="#1c1c70"/>
<rect x="501.0" y="228.5" width="2" height="2" fill="#141428"/>
<rect x="527.6" y="242.6" width="2" height="2" fill="#141428"/>
<rect x="387.9" y="243.1" width="2" height="2" fill="#3e5e46"/>
<rect x="395.6" y="242.9" width="2" height="2" fill="#52da52"/>
<rect x="400.6" y="243.1" width="2" height="2" fill="#52da52"/>
<rect x="387.4" y="245.7" width="2" height="2" fill="#52da52"/>
<rect x="398.6" y="245.8" width="2" height="2" fill="#3e5e46"/>
<rect x="406.8" y="245.5" width="2" height="2" fill="#1c1c70"/>
<rect x="387.5" y="248.3" width="2" height="2" fill="#52da52"/>
<rect x="392.7" y="248.2" width="2" height="2" fill="#52da52"/>
<rect x="395.4" y="248.7" width="2" height="2" fill="#52da52"/>
<rect x="398.2" y="248.0" width="2" height="2" fill="#3e5e46"/>
<rect x="409.0" y="248.6" width="2" height="2" fill="#52da52"/>
<rect x="382.4" y="251.1" width="2" height="2" fill="#3e5e46"/>
<rect x="403.6" y="251.1" width="2" height="2" fill="#52da52"/>
<rect x="406.3" y="251.4" width="2" height="2" fill="#52da52"/>
<rect x="395.7" y="253.3" width="2" height="2" fill="#1c1c70"/>
<rect x="390.0" y="256.8" width="2" height="2" fill="#3e5e46"/>
<rect x="397.8" y="256.3" width="2" height="2" fill="#52da52"/>
<rect x="403.7" y="257.0" width="2" height="2" fill="#3e5e46"/>
<rect x="403.8" y="259.6" width="2" height="2" fill="#1c1c70"/>
<rect x="406.4" y="259.1" width="2" height="2" fill="#1c1c70"/>
<rect x="395.9" y="261.9" width="2" height="2" fill="#52da52"/>
<rect x="398.6" y="262.4" width="2" height="2" fill="#3e5e46"/>
<rect x="406.4" y="261.6" width="2" height="2" fill="#52da52"/>
<rect x="387.4" y="265.1" width="2" height="2" fill="#52da52"/>
<rect x="392.7" y="264.8" width="2" height="2" fill="#52da52"/>
<rect x="395.7" y="264.8" width="2" height="2" fill="#52da52"/>
<rect x="398.7" y="265.0" width="2" height="2" fill="#3e5e46"/>
<rect x="416.1" y="239.0" width="2" height="2" fill="#52da52"/>
<rect x="422.2" y="239.1" width="2" height="2" fill="#1c1c70"/>
<rect x="426.9" y="238.7" width="2" height="2" fill="#1c1c70"/>
<rect x="414.2" y="242.1" width="2" height="2" fill="#52da52"/>
<rect x="416.0" y="241.4" width="2" height="2" fill="#1c1c70"/>
<rect x="424.3" y="241.2" width="2" height="2" fill="#3e5e46"/>
<rect x="411.0" y="247.0" width="2" height="2" fill="#3e5e46"/>
<rect x="416.2" y="247.0" width="2" height="2" fill="#52da52"/>
<rect x="419.1" y="247.0" width="2" height="2" fill="#1c1c70"/>
<rect x="429.7" y="249.4" width="2" height="2" fill="#3e5e46"/>
<rect x="432.8" y="249.8" width="2" height="2" fill="#3e5e46"/>
<rect x="414.0" y="252.4" width="2" height="2" fill="#3e5e46"/>
<rect x="418.9" y="252.5" width="2" height="2" fill="#3e5e46"/>
<rect x="422.0" y="252.4" width="2" height="2" fill="#1c1c70"/>
<rect x="411.1" y="255.0" width="2" height="2" fill="#52da52"/>
<rect x="429.8" y="255.4" width="2" height="2" fill="#3e5e46"/>
<rect x="433.0" y="255.5" width="2" height="2" fill="#1c1c70"/>
<rect x="410.8" y="257.5" width="2" height="2" fill="#52da52"/>
<rect x="416.8" y="258.3" width="2" height="2" fill="#1c1c70"/>
<rect x="421.8" y="258.2" width="2" height="2" fill="#52da52"/>
<rect x="429.7" y="258.2" width="2" height="2" fill="#1c1c70"/>
<rect x="414.0" y="260.1" width="2" height="2" fill="#3e5e46"/>
<rect x="416.8" y="260.3" width="2" height="2" fill="#3e5e46"/>
<rect x="433.1" y="260.8" width="2" height="2" fill="#1c1c70"/>
<rect x="416.9" y="263.7" width="2" height="2" fill="#1c1c70"/>
<rect x="430.2" y="262.9" width="2" height="2" fill="#1c1c70"/>
<rect x="424.5" y="265.8" width="2" height="2" fill="#1c1c70"/>
<rect x="444.8" y="239.7" width="2" height="2" fill="#1c1c70"/>
<rect x="455.6" y="239.7" width="2" height="2" fill="#1c1c70"/>
<rect x="444.4" y="242.8" width="2" height="2" fill="#3e5e46"/>
<rect x="447.7" y="242.4" width="2" height="2" fill="#3e5e46"/>
<rect x="449.8" y="242.8" width="2" height="2" fill="#3e5e46"/>
<rect x="455.4" y="243.0" width="2" height="2" fill="#1c1c70"/>
<rect x="445.1" y="245.3" width="2" height="2" fill="#3e5e46"/>
<rect x="447.4" y="245.1" width="2" height="2" fill="#1c1c70"/>
<rect x="449.8" y="245.2" width="2" height="2" fill="#1c1c70"/>
<rect x="455.4" y="245.5" width="2" height="2" fill="#1c1c70"/>
<rect x="457.9" y="245.6" width="2" height="2" fill="#3e5e46"/>
<rect x="444.8" y="248.4" width="2" height="2" fill="#3e5e46"/>
<rect x="453.1" y="247.7" width="2" height="2" fill="#1c1c70"/>
<rect x="458.1" y="247.8" width="2" height="2" fill="#1c1c70"/>
<rect x="447.7" y="250.6" width="2" height="2" fill="#1c1c70"/>
<rect x="449.9" y="250.4" width="2" height="2" fill="#1c1c70"/>
<rect x="458.4" y="250.9" width="2" height="2" fill="#1c1c70"/>
<rect x="455.2" y="253.2" width="2" height="2" fill="#1c1c70"/>
<rect x="457.9" y="253.0" width="2" height="2" fill="#3e5e46"/>
<rect x="441.6" y="256.3" width="2" height="2" fill="#1c1c70"/>
<rect x="450.2" y="256.1" width="2" height="2" fill="#1c1c70"/>
<rect x="445.1" y="259.1" width="2" height="2" fill="#3e5e46"/>
<rect x="445.1" y="261.2" width="2" height="2" fill="#1c1c70"/>
<rect x="452.9" y="261.7" width="2" height="2" fill="#1c1c70"/>
<rect x="455.9" y="261.3" width="2" height="2" fill="#1c1c70"/>
<rect x="447.4" y="264.0" width="2" height="2" fill="#3e5e46"/>
<rect x="452.9" y="263.9" width="2" height="2" fill="#1c1c70"/>
<rect x="458.5" y="264.0" width="2" height="2" fill="#1c1c70"/>
<rect x="499.2" y="46.3" width="2" height="2" fill="#6a966a"/>
<rect x="508.7" y="44.8" width="2" height="2" fill="#6a966a"/>
<rect x="505.7" y="48.1" width="2" height="2" fill="#141428"/>
<rect x="552.5" y="48.2" width="2" height="2" fill="#6a966a"/>
<rect x="481.9" y="46.6" width="2" height="2" fill="#141428"/>
<rect x="488.5" y="46.6" width="2" height="2" fill="#52da52"/>
<rect x="491.6" y="45.4" width="2" height="2" fill="#52da52"/>
<rect x="460.5" y="58.0" width="2" height="2" fill="#6a966a"/>
<rect x="488.5" y="55.4" width="2" height="2" fill="#141428"/>
<rect x="487.2" y="57.9" width="2" height="2" fill="#141428"/>
<rect x="477.4" y="63.4" width="2" height="2" fill="#141428"/>
<rect x="487.2" y="62.9" width="2" height="2" fill="#1c1c70"/>
<rect x="490.3" y="62.3" width="2" height="2" fill="#52da52"/>
<rect x="493.9" y="63.4" width="2" height="2" fill="#1c1c70"/>
<rect x="482.3" y="67.4" width="2" height="2" fill="#1c1c70"/>
<rect x="483.6" y="67.8" width="2" height="2" fill="#1c1c70"/>
<rect x="486.3" y="69.6" width="2" height="2" fill="#52da52"/>
<rect x="488.5" y="66.5" width="2" height="2" fill="#52da52"/>
<rect x="491.2" y="67.8" width="2" height="2" fill="#52da52"/>
<rect x="493.9" y="68.7" width="2" height="2" fill="#1c1c70"/>
<rect x="452.5" y="69.6" width="2" height="2" fill="#52da52"/>
<rect x="453.9" y="71.4" width="2" height="2" fill="#1c1c70"/>
<rect x="456.5" y="70.0" width="2" height="2" fill="#52da52"/>
<rect x="453.0" y="74.9" width="2" height="2" fill="#1c1c70"/>
<rect x="456.1" y="74.9" width="2" height="2" fill="#52da52"/>
<rect x="463.6" y="71.8" width="2" height="2" fill="#52da52"/>
<rect x="465.4" y="73.2" width="2" height="2" fill="#52da52"/>
<rect x="467.2" y="74.5" width="2" height="2" fill="#52da52"/>
<rect x="471.2" y="70.0" width="2" height="2" fill="#52da52"/>
<rect x="474.3" y="71.8" width="2" height="2" fill="#52da52"/>
<rect x="476.1" y="72.7" width="2" height="2" fill="#52da52"/>
<rect x="461.9" y="74.9" width="2" height="2" fill="#1c1c70"/>
<rect x="462.8" y="76.3" width="2" height="2" fill="#1c1c70"/>
<rect x="464.5" y="77.2" width="2" height="2" fill="#141428"/>
<rect x="459.2" y="77.2" width="2" height="2" fill="#52da52"/>
<rect x="460.1" y="78.9" width="2" height="2" fill="#1c1c70"/>
<rect x="456.5" y="79.4" width="2" height="2" fill="#52da52"/>
<rect x="455.2" y="80.7" width="2" height="2" fill="#52da52"/>
<rect x="451.2" y="81.6" width="2" height="2" fill="#1c1c70"/>
<rect x="458.3" y="82.0" width="2" height="2" fill="#1c1c70"/>
<rect x="473.4" y="76.3" width="2" height="2" fill="#141428"/>
<rect x="474.8" y="76.7" width="2" height="2" fill="#141428"/>
<rect x="476.1" y="77.2" width="2" height="2" fill="#141428"/>
<rect x="478.8" y="74.9" width="2" height="2" fill="#141428"/>
<rect x="481.0" y="75.8" width="2" height="2" fill="#141428"/>
<rect x="483.2" y="77.2" width="2" height="2" fill="#141428"/>
<rect x="485.0" y="78.5" width="2" height="2" fill="#141428"/>
<rect x="486.8" y="80.3" width="2" height="2" fill="#141428"/>
<rect x="479.6" y="78.5" width="2" height="2" fill="#141428"/>
<rect x="481.4" y="79.8" width="2" height="2" fill="#141428"/>
<rect x="483.2" y="81.2" width="2" height="2" fill="#141428"/>
<rect x="477.0" y="79.4" width="2" height="2" fill="#1c1c70"/>
<rect x="478.8" y="80.7" width="2" height="2" fill="#1c1c70"/>
<rect x="480.5" y="82.0" width="2" height="2" fill="#1c1c70"/>
<rect x="470.8" y="79.4" width="2" height="2" fill="#52da52"/>
<rect x="469.4" y="81.2" width="2" height="2" fill="#52da52"/>
<rect x="467.2" y="82.5" width="2" height="2" fill="#1c1c70"/>
<rect x="488.5" y="74.0" width="2" height="2" fill="#1c1c70"/>
<rect x="490.3" y="75.4" width="2" height="2" fill="#52da52"/>
<rect x="492.1" y="76.7" width="2" height="2" fill="#52da52"/>
<rect x="493.9" y="74.9" width="2" height="2" fill="#1c1c70"/>
<rect x="488.5" y="77.6" width="2" height="2" fill="#1c1c70"/>
<rect x="491.2" y="78.5" width="2" height="2" fill="#52da52"/>
<rect x="493.0" y="80.3" width="2" height="2" fill="#52da52"/>
<rect x="494.8" y="79.4" width="2" height="2" fill="#1c1c70"/>
<rect x="485.0" y="82.5" width="2" height="2" fill="#52da52"/>
<rect x="488.5" y="82.0" width="2" height="2" fill="#52da52"/>
<rect x="492.1" y="82.9" width="2" height="2" fill="#52da52"/>
<rect x="464.5" y="79.4" width="2" height="2" fill="#1c1c70"/>
<rect x="463.6" y="81.2" width="2" height="2" fill="#1c1c70"/>
<rect x="507.2" y="64.3" width="2" height="2" fill="#1c1c70"/>
<rect x="521.4" y="62.3" width="2" height="2" fill="#6a966a"/>
<rect x="528.8" y="61.6" width="2" height="2" fill="#6a966a"/>
<rect x="552.5" y="62.0" width="2" height="2" fill="#6a966a"/>
<rect x="498.8" y="69.6" width="2" height="2" fill="#52da52"/>
<rect x="502.3" y="67.8" width="2" height="2" fill="#52da52"/>
<rect x="505.9" y="66.9" width="2" height="2" fill="#52da52"/>
<rect x="508.5" y="68.7" width="2" height="2" fill="#52da52"/>
<rect x="506.8" y="71.4" width="2" height="2" fill="#52da52"/>
<rect x="511.6" y="67.8" width="2" height="2" fill="#1c1c70"/>
<rect x="513.0" y="69.6" width="2" height="2" fill="#1c1c70"/>
<rect x="515.6" y="70.0" width="2" height="2" fill="#1c1c70"/>
<rect x="518.3" y="70.9" width="2" height="2" fill="#1c1c70"/>
<rect x="521.4" y="67.4" width="2" height="2" fill="#141428"/>
<rect x="521.4" y="70.0" width="2" height="2" fill="#141428"/>
<rect x="521.4" y="72.7" width="2" height="2" fill="#141428"/>
<rect x="521.4" y="75.4" width="2" height="2" fill="#141428"/>
<rect x="521.4" y="78.0" width="2" height="2" fill="#141428"/>
<rect x="521.4" y="80.3" width="2" height="2" fill="#1c1c70"/>
<rect x="511.2" y="73.2" width="2" height="2" fill="#52da52"/>
<rect x="513.0" y="74.0" width="2" height="2" fill="#52da52"/>
<rect x="515.2" y="74.9" width="2" height="2" fill="#52da52"/>
<rect x="525.4" y="73.2" width="2" height="2" fill="#1c1c70"/>
<rect x="526.3" y="75.4" width="2" height="2" fill="#1c1c70"/>
<rect x="524.5" y="76.7" width="2" height="2" fill="#1c1c70"/>
<rect x="529.4" y="70.0" width="2" height="2" fill="#1c1c70"/>
<rect x="531.6" y="70.0" width="2" height="2" fill="#1c1c70"/>
<rect x="529.0" y="74.9" width="2" height="2" fill="#1c1c70"/>
<rect x="530.8" y="75.8" width="2" height="2" fill="#141428"/>
<rect x="532.5" y="74.0" width="2" height="2" fill="#1c1c70"/>
<rect x="533.9" y="77.2" width="2" height="2" fill="#1c1c70"/>
<rect x="537.0" y="72.3" width="2" height="2" fill="#1c1c70"/>
<rect x="538.8" y="73.6" width="2" height="2" fill="#1c1c70"/>
<rect x="540.5" y="74.9" width="2" height="2" fill="#1c1c70"/>
<rect x="542.3" y="76.7" width="2" height="2" fill="#1c1c70"/>
<rect x="543.6" y="78.0" width="2" height="2" fill="#1c1c70"/>
<rect x="540.1" y="67.4" width="2" height="2" fill="#6a966a"/>
<rect x="543.2" y="70.0" width="2" height="2" fill="#6a966a"/>
<rect x="547.6" y="68.3" width="2" height="2" fill="#6a966a"/>
<rect x="547.6" y="72.3" width="2" height="2" fill="#1c1c70"/>
<rect x="547.6" y="74.9" width="2" height="2" fill="#1c1c70"/>
<rect x="547.6" y="77.6" width="2" height="2" fill="#141428"/>
<rect x="545.0" y="74.9" width="2" height="2" fill="#1c1c70"/>
<rect x="550.3" y="76.3" width="2" height="2" fill="#1c1c70"/>
<rect x="553.9" y="78.0" width="2" height="2" fill="#1c1c70"/>
<rect x="553.4" y="80.3" width="2" height="2" fill="#52da52"/>
<rect x="497.0" y="72.3" width="2" height="2" fill="#1c1c70"/>
<rect x="497.9" y="74.9" width="2" height="2" fill="#52da52"/>
<rect x="499.6" y="76.7" width="2" height="2" fill="#52da52"/>
<rect x="502.3" y="78.5" width="2" height="2" fill="#1c1c70"/>
<rect x="504.1" y="80.3" width="2" height="2" fill="#52da52"/>
<rect x="500.5" y="80.3" width="2" height="2" fill="#1c1c70"/>
<rect x="497.9" y="82.0" width="2" height="2" fill="#52da52"/>
<rect x="505.9" y="75.8" width="2" height="2" fill="#52da52"/>
<rect x="508.5" y="77.2" width="2" height="2" fill="#52da52"/>
<rect x="505.9" y="80.3" width="2" height="2" fill="#1c1c70"/>
<rect x="508.5" y="80.3" width="2" height="2" fill="#b8203c"/>
<rect x="511.2" y="79.4" width="2" height="2" fill="#52da52"/>
<rect x="515.6" y="78.5" width="2" height="2" fill="#b8203c"/>
<rect x="517.0" y="80.3" width="2" height="2" fill="#8020a0"/>
<rect x="516.5" y="82.0" width="2" height="2" fill="#b8203c"/>
<rect x="513.9" y="81.2" width="2" height="2" fill="#52da52"/>
<rect x="521.9" y="82.0" width="2" height="2" fill="#52da52"/>
<rect x="524.5" y="82.0" width="2" height="2" fill="#1c1c70"/>
<rect x="529.0" y="79.8" width="2" height="2" fill="#52da52"/>
<rect x="529.0" y="82.0" width="2" height="2" fill="#1c1c70"/>
<rect x="531.6" y="82.0" width="2" height="2" fill="#1c1c70"/>
<rect x="537.0" y="81.6" width="2" height="2" fill="#1c1c70"/>
<rect x="539.6" y="82.0" width="2" height="2" fill="#1c1c70"/>
<rect x="564.8" y="36.9" width="2" height="2" fill="#6a966a"/>
<rect x="567.6" y="38.6" width="2" height="2" fill="#6a966a"/>
<rect x="582.1" y="36.9" width="2" height="2" fill="#6a966a"/>
<rect x="599.2" y="34.6" width="2" height="2" fill="#6a966a"/>
<rect x="552.5" y="48.2" width="2" height="2" fill="#6a966a"/>
<rect x="564.8" y="47.4" width="2" height="2" fill="#6a966a"/>
<rect x="567.6" y="48.2" width="2" height="2" fill="#6a966a"/>
<rect x="582.1" y="47.4" width="2" height="2" fill="#6a966a"/>
<rect x="599.2" y="61.8" width="2" height="2" fill="#141428"/>
<rect x="557.2" y="71.5" width="2" height="2" fill="#141428"/>
<rect x="459.2" y="85.4" width="2" height="2" fill="#52da52"/>
<rect x="461.0" y="88.9" width="2" height="2" fill="#52da52"/>
<rect x="459.2" y="90.7" width="2" height="2" fill="#52da52"/>
<rect x="464.5" y="84.9" width="2" height="2" fill="#1c1c70"/>
<rect x="468.1" y="87.6" width="2" height="2" fill="#1c1c70"/>
<rect x="465.4" y="88.9" width="2" height="2" fill="#6a966a"/>
<rect x="471.6" y="85.4" width="2" height="2" fill="#52da52"/>
<rect x="474.3" y="87.2" width="2" height="2" fill="#52da52"/>
<rect x="477.0" y="85.4" width="2" height="2" fill="#52da52"/>
<rect x="479.6" y="86.7" width="2" height="2" fill="#52da52"/>
<rect x="482.3" y="85.8" width="2" height="2" fill="#1c1c70"/>
<rect x="485.0" y="87.2" width="2" height="2" fill="#52da52"/>
<rect x="488.5" y="84.9" width="2" height="2" fill="#1c1c70"/>
<rect x="492.1" y="86.3" width="2" height="2" fill="#52da52"/>
<rect x="493.9" y="87.6" width="2" height="2" fill="#1c1c70"/>
<rect x="474.3" y="90.7" width="2" height="2" fill="#1c1c70"/>
<rect x="477.9" y="92.0" width="2" height="2" fill="#52da52"/>
<rect x="481.4" y="91.2" width="2" height="2" fill="#1c1c70"/>
<rect x="485.0" y="92.5" width="2" height="2" fill="#52da52"/>
<rect x="488.5" y="90.7" width="2" height="2" fill="#52da52"/>
<rect x="492.1" y="93.4" width="2" height="2" fill="#1c1c70"/>
<rect x="493.9" y="91.6" width="2" height="2" fill="#52da52"/>
<rect x="470.8" y="95.2" width="2" height="2" fill="#52da52"/>
<rect x="472.5" y="96.9" width="2" height="2" fill="#52da52"/>
<rect x="475.6" y="96.9" width="2" height="2" fill="#1c1c70"/>
<rect x="478.8" y="95.6" width="2" height="2" fill="#52da52"/>
<rect x="481.4" y="95.2" width="2" height="2" fill="#52da52"/>
<rect x="485.0" y="96.0" width="2" height="2" fill="#52da52"/>
<rect x="488.5" y="95.2" width="2" height="2" fill="#1c1c70"/>
<rect x="491.2" y="96.9" width="2" height="2" fill="#52da52"/>
<rect x="493.9" y="95.2" width="2" height="2" fill="#52da52"/>
<rect x="463.6" y="94.3" width="2" height="2" fill="#1c1c70"/>
<rect x="465.0" y="96.5" width="2" height="2" fill="#1c1c70"/>
<rect x="464.5" y="98.3" width="2" height="2" fill="#1c1c70"/>
<rect x="465.0" y="100.0" width="2" height="2" fill="#1c1c70"/>
<rect x="474.3" y="98.7" width="2" height="2" fill="#1c1c70"/>
<rect x="476.1" y="100.5" width="2" height="2" fill="#1c1c70"/>
<rect x="480.5" y="100.3" width="2" height="2" fill="#6a966a"/>
<rect x="485.4" y="100.3" width="2" height="2" fill="#6a966a"/>
<rect x="488.5" y="100.3" width="2" height="2" fill="#6a966a"/>
<rect x="492.1" y="100.3" width="2" height="2" fill="#6a966a"/>
<rect x="494.3" y="100.3" width="2" height="2" fill="#6a966a"/>
<rect x="451.2" y="102.7" width="2" height="2" fill="#6a966a"/>
<rect x="458.8" y="102.7" width="2" height="2" fill="#6a966a"/>
<rect x="466.8" y="104.9" width="2" height="2" fill="#141428"/>
<rect x="471.6" y="103.2" width="2" height="2" fill="#52da52"/>
<rect x="481.4" y="103.2" width="2" height="2" fill="#6a966a"/>
<rect x="485.4" y="104.0" width="2" height="2" fill="#6a966a"/>
<rect x="494.3" y="104.0" width="2" height="2" fill="#6a966a"/>
<rect x="451.2" y="108.0" width="2" height="2" fill="#6a966a"/>
<rect x="470.3" y="109.8" width="2" height="2" fill="#141428"/>
<rect x="471.6" y="111.6" width="2" height="2" fill="#141428"/>
<rect x="480.5" y="108.9" width="2" height="2" fill="#6a966a"/>
<rect x="490.3" y="109.8" width="2" height="2" fill="#52da52"/>
<rect x="494.3" y="109.4" width="2" height="2" fill="#52da52"/>
<rect x="461.9" y="112.9" width="2" height="2" fill="#1c1c70"/>
<rect x="485.9" y="112.9" width="2" height="2" fill="#52da52"/>
<rect x="497.9" y="86.3" width="2" height="2" fill="#1c1c70"/>
<rect x="500.5" y="84.9" width="2" height="2" fill="#52da52"/>
<rect x="503.2" y="85.4" width="2" height="2" fill="#52da52"/>
<rect x="505.9" y="86.3" width="2" height="2" fill="#1c1c70"/>
<rect x="508.1" y="87.6" width="2" height="2" fill="#1c1c70"/>
<rect x="510.3" y="88.9" width="2" height="2" fill="#1c1c70"/>
<rect x="512.1" y="84.9" width="2" height="2" fill="#52da52"/>
<rect x="514.8" y="85.8" width="2" height="2" fill="#1c1c70"/>
<rect x="517.4" y="84.9" width="2" height="2" fill="#1c1c70"/>
<rect x="518.3" y="87.6" width="2" height="2" fill="#1c1c70"/>
<rect x="521.4" y="84.5" width="2" height="2" fill="#141428"/>
<rect x="521.4" y="87.2" width="2" height="2" fill="#141428"/>
<rect x="521.4" y="89.8" width="2" height="2" fill="#141428"/>
<rect x="521.4" y="92.5" width="2" height="2" fill="#141428"/>
<rect x="521.4" y="95.2" width="2" height="2" fill="#141428"/>
<rect x="521.4" y="97.8" width="2" height="2" fill="#b8203c"/>
<rect x="521.4" y="100.5" width="2" height="2" fill="#1c1c70"/>
<rect x="524.5" y="86.3" width="2" height="2" fill="#1c1c70"/>
<rect x="526.3" y="85.4" width="2" height="2" fill="#1c1c70"/>
<rect x="529.0" y="85.4" width="2" height="2" fill="#1c1c70"/>
<rect x="530.8" y="86.7" width="2" height="2" fill="#1c1c70"/>
<rect x="524.5" y="88.9" width="2" height="2" fill="#1c1c70"/>
<rect x="527.2" y="89.8" width="2" height="2" fill="#1c1c70"/>
<rect x="529.9" y="88.5" width="2" height="2" fill="#1c1c70"/>
<rect x="532.5" y="87.6" width="2" height="2" fill="#1c1c70"/>
<rect x="525.4" y="92.5" width="2" height="2" fill="#1c1c70"/>
<rect x="527.2" y="93.8" width="2" height="2" fill="#1c1c70"/>
<rect x="529.9" y="92.5" width="2" height="2" fill="#1c1c70"/>
<rect x="531.6" y="91.6" width="2" height="2" fill="#1c1c70"/>
<rect x="534.3" y="85.4" width="2" height="2" fill="#1c1c70"/>
<rect x="536.5" y="86.7" width="2" height="2" fill="#1c1c70"/>
<rect x="538.8" y="88.0" width="2" height="2" fill="#1c1c70"/>
<rect x="535.2" y="89.4" width="2" height="2" fill="#1c1c70"/>
<rect x="537.9" y="90.3" width="2" height="2" fill="#1c1c70"/>
<rect x="536.1" y="91.6" width="2" height="2" fill="#1c1c70"/>
<rect x="541.4" y="88.9" width="2" height="2" fill="#1c1c70"/>
<rect x="543.6" y="89.8" width="2" height="2" fill="#1c1c70"/>
<rect x="542.3" y="92.0" width="2" height="2" fill="#6a966a"/>
<rect x="545.0" y="92.5" width="2" height="2" fill="#1c1c70"/>
<rect x="545.0" y="94.7" width="2" height="2" fill="#1c1c70"/>
<rect x="547.6" y="94.7" width="2" height="2" fill="#1c1c70"/>
<rect x="549.9" y="96.0" width="2" height="2" fill="#141428"/>
<rect x="548.5" y="85.4" width="2" height="2" fill="#52da52"/>
<rect x="553.0" y="90.7" width="2" height="2" fill="#52da52"/>
<rect x="539.6" y="96.5" width="2" height="2" fill="#52da52"/>
<rect x="543.2" y="96.9" width="2" height="2" fill="#52da52"/>
<rect x="537.0" y="94.7" width="2" height="2" fill="#b8203c"/>
<rect x="533.4" y="100.0" width="2" height="2" fill="#52da52"/>
<rect x="500.5" y="88.9" width="2" height="2" fill="#1c1c70"/>
<rect x="502.3" y="90.3" width="2" height="2" fill="#1c1c70"/>
<rect x="500.5" y="92.5" width="2" height="2" fill="#52da52"/>
<rect x="503.2" y="92.5" width="2" height="2" fill="#52da52"/>
<rect x="505.9" y="91.2" width="2" height="2" fill="#52da52"/>
<rect x="508.5" y="91.6" width="2" height="2" fill="#b8203c"/>
<rect x="510.3" y="92.5" width="2" height="2" fill="#8020a0"/>
<rect x="513.0" y="93.4" width="2" height="2" fill="#1c1c70"/>
<rect x="514.3" y="95.2" width="2" height="2" fill="#1c1c70"/>
<rect x="515.6" y="96.9" width="2" height="2" fill="#b8203c"/>
<rect x="497.9" y="94.7" width="2" height="2" fill="#52da52"/>
<rect x="504.1" y="95.2" width="2" height="2" fill="#52da52"/>
<rect x="506.8" y="94.7" width="2" height="2" fill="#1c1c70"/>
<rect x="509.4" y="96.0" width="2" height="2" fill="#1c1c70"/>
<rect x="512.1" y="96.9" width="2" height="2" fill="#1c1c70"/>
<rect x="497.9" y="97.8" width="2" height="2" fill="#1c1c70"/>
<rect x="500.5" y="98.3" width="2" height="2" fill="#52da52"/>
<rect x="504.1" y="100.0" width="2" height="2" fill="#6a966a"/>
<rect x="509.0" y="100.5" width="2" height="2" fill="#1c1c70"/>
<rect x="510.8" y="100.0" width="2" height="2" fill="#1c1c70"/>
<rect x="513.0" y="100.5" width="2" height="2" fill="#1c1c70"/>
<rect x="515.6" y="100.5" width="2" height="2" fill="#1c1c70"/>
<rect x="518.3" y="100.5" width="2" height="2" fill="#1c1c70"/>
<rect x="525.4" y="96.9" width="2" height="2" fill="#1c1c70"/>
<rect x="525.9" y="100.0" width="2" height="2" fill="#1c1c70"/>
<rect x="525.9" y="104.0" width="2" height="2" fill="#1c1c70"/>
<rect x="497.9" y="103.6" width="2" height="2" fill="#52da52"/>
<rect x="503.2" y="104.0" width="2" height="2" fill="#52da52"/>
<rect x="505.9" y="102.7" width="2" height="2" fill="#1c1c70"/>
<rect x="513.0" y="103.2" width="2" height="2" fill="#52da52"/>
<rect x="515.2" y="104.5" width="2" height="2" fill="#52da52"/>
<rect x="516.5" y="105.8" width="2" height="2" fill="#1c1c70"/>
<rect x="516.5" y="108.5" width="2" height="2" fill="#1c1c70"/>
<rect x="510.3" y="107.2" width="2" height="2" fill="#1c1c70"/>
<rect x="508.5" y="108.5" width="2" height="2" fill="#52da52"/>
<rect x="529.0" y="104.5" width="2" height="2" fill="#6a966a"/>
<rect x="496.1" y="109.4" width="2" height="2" fill="#52da52"/>
<rect x="500.5" y="112.0" width="2" height="2" fill="#52da52"/>
<rect x="503.2" y="111.2" width="2" height="2" fill="#52da52"/>
<rect x="488.5" y="114.2" width="2" height="2" fill="#52da52"/>
<rect x="557.2" y="84.9" width="2" height="2" fill="#141428"/>
<rect x="452.6" y="88.3" width="2" height="2" fill="#3e5e46"/>
<rect x="454.6" y="83.5" width="2" height="2" fill="#52da52"/>
<rect x="454.9" y="86.6" width="2" height="2" fill="#52da52"/>
<rect x="454.5" y="93.2" width="2" height="2" fill="#1c1c70"/>
<rect x="456.6" y="79.1" width="2" height="2" fill="#52da52"/>
<rect x="456.4" y="81.9" width="2" height="2" fill="#52da52"/>
<rect x="456.9" y="91.0" width="2" height="2" fill="#52da52"/>
<rect x="456.6" y="94.2" width="2" height="2" fill="#3e5e46"/>
<rect x="459.1" y="83.2" width="2" height="2" fill="#52da52"/>
<rect x="460.9" y="75.6" width="2" height="2" fill="#52da52"/>
<rect x="461.1" y="81.3" width="2" height="2" fill="#52da52"/>
<rect x="460.8" y="84.8" width="2" height="2" fill="#3e5e46"/>
<rect x="460.8" y="87.7" width="2" height="2" fill="#1c1c70"/>
<rect x="460.7" y="93.9" width="2" height="2" fill="#1c1c70"/>
<rect x="463.3" y="73.8" width="2" height="2" fill="#52da52"/>
<rect x="463.0" y="80.1" width="2" height="2" fill="#52da52"/>
<rect x="463.1" y="86.1" width="2" height="2" fill="#52da52"/>
<rect x="465.0" y="74.8" width="2" height="2" fill="#52da52"/>
<rect x="464.9" y="77.9" width="2" height="2" fill="#52da52"/>
<rect x="464.9" y="80.9" width="2" height="2" fill="#3e5e46"/>
<rect x="464.9" y="84.4" width="2" height="2" fill="#3e5e46"/>
<rect x="464.9" y="93.5" width="2" height="2" fill="#1c1c70"/>
<rect x="464.9" y="96.5" width="2" height="2" fill="#52da52"/>
<rect x="467.3" y="82.7" width="2" height="2" fill="#52da52"/>
<rect x="467.3" y="88.5" width="2" height="2" fill="#3e5e46"/>
<rect x="467.5" y="91.5" width="2" height="2" fill="#52da52"/>
<rect x="469.2" y="80.6" width="2" height="2" fill="#3e5e46"/>
<rect x="469.5" y="87.0" width="2" height="2" fill="#52da52"/>
<rect x="469.1" y="90.2" width="2" height="2" fill="#3e5e46"/>
<rect x="469.3" y="92.9" width="2" height="2" fill="#52da52"/>
<rect x="471.7" y="78.9" width="2" height="2" fill="#1c1c70"/>
<rect x="471.7" y="82.1" width="2" height="2" fill="#52da52"/>
<rect x="471.3" y="85.4" width="2" height="2" fill="#52da52"/>
<rect x="471.1" y="88.1" width="2" height="2" fill="#52da52"/>
<rect x="471.5" y="94.3" width="2" height="2" fill="#52da52"/>
<rect x="471.7" y="97.4" width="2" height="2" fill="#52da52"/>
<rect x="473.3" y="73.9" width="2" height="2" fill="#1c1c70"/>
<rect x="473.4" y="83.7" width="2" height="2" fill="#3e5e46"/>
<rect x="473.6" y="92.8" width="2" height="2" fill="#52da52"/>
<rect x="473.3" y="95.8" width="2" height="2" fill="#3e5e46"/>
<rect x="475.4" y="75.8" width="2" height="2" fill="#52da52"/>
<rect x="475.8" y="81.4" width="2" height="2" fill="#1c1c70"/>
<rect x="475.8" y="88.1" width="2" height="2" fill="#3e5e46"/>
<rect x="475.7" y="94.1" width="2" height="2" fill="#52da52"/>
<rect x="478.0" y="76.8" width="2" height="2" fill="#3e5e46"/>
<rect x="477.7" y="79.8" width="2" height="2" fill="#1c1c70"/>
<rect x="477.6" y="83.0" width="2" height="2" fill="#52da52"/>
<rect x="477.8" y="89.0" width="2" height="2" fill="#52da52"/>
<rect x="480.0" y="81.4" width="2" height="2" fill="#3e5e46"/>
<rect x="479.9" y="87.7" width="2" height="2" fill="#3e5e46"/>
<rect x="479.7" y="90.8" width="2" height="2" fill="#52da52"/>
<rect x="480.8" y="83.5" width="2" height="2" fill="#3e5e46"/>
<rect x="482.6" y="76.0" width="2" height="2" fill="#52da52"/>
<rect x="482.7" y="78.7" width="2" height="2" fill="#3e5e46"/>
<rect x="482.8" y="81.8" width="2" height="2" fill="#52da52"/>
<rect x="482.9" y="84.8" width="2" height="2" fill="#1c1c70"/>
<rect x="483.0" y="88.1" width="2" height="2" fill="#52da52"/>
<rect x="482.6" y="91.3" width="2" height="2" fill="#52da52"/>
<rect x="484.8" y="77.0" width="2" height="2" fill="#52da52"/>
<rect x="485.1" y="83.2" width="2" height="2" fill="#1c1c70"/>
<rect x="484.9" y="86.5" width="2" height="2" fill="#1c1c70"/>
<rect x="484.6" y="89.4" width="2" height="2" fill="#52da52"/>
<rect x="484.6" y="95.5" width="2" height="2" fill="#52da52"/>
<rect x="486.8" y="75.4" width="2" height="2" fill="#52da52"/>
<rect x="487.0" y="78.3" width="2" height="2" fill="#52da52"/>
<rect x="486.7" y="84.4" width="2" height="2" fill="#1c1c70"/>
<rect x="487.0" y="87.6" width="2" height="2" fill="#1c1c70"/>
<rect x="487.0" y="97.1" width="2" height="2" fill="#52da52"/>
<rect x="489.2" y="70.2" width="2" height="2" fill="#52da52"/>
<rect x="488.8" y="73.8" width="2" height="2" fill="#52da52"/>
<rect x="489.3" y="76.5" width="2" height="2" fill="#1c1c70"/>
<rect x="489.1" y="79.7" width="2" height="2" fill="#3e5e46"/>
<rect x="488.7" y="86.2" width="2" height="2" fill="#1c1c70"/>
<rect x="489.2" y="95.0" width="2" height="2" fill="#1c1c70"/>
<rect x="488.8" y="101.2" width="2" height="2" fill="#52da52"/>
<rect x="491.4" y="71.7" width="2" height="2" fill="#1c1c70"/>
<rect x="491.1" y="75.1" width="2" height="2" fill="#1c1c70"/>
<rect x="491.4" y="78.3" width="2" height="2" fill="#1c1c70"/>
<rect x="491.0" y="81.0" width="2" height="2" fill="#52da52"/>
<rect x="491.2" y="93.5" width="2" height="2" fill="#52da52"/>
<rect x="493.3" y="76.5" width="2" height="2" fill="#3e5e46"/>
<rect x="493.4" y="79.6" width="2" height="2" fill="#3e5e46"/>
<rect x="493.4" y="82.3" width="2" height="2" fill="#3e5e46"/>
<rect x="493.1" y="85.4" width="2" height="2" fill="#52da52"/>
<rect x="493.3" y="88.4" width="2" height="2" fill="#1c1c70"/>
<rect x="493.3" y="91.7" width="2" height="2" fill="#1c1c70"/>
<rect x="495.6" y="71.2" width="2" height="2" fill="#1c1c70"/>
<rect x="495.6" y="74.8" width="2" height="2" fill="#52da52"/>
<rect x="495.2" y="80.5" width="2" height="2" fill="#1c1c70"/>
<rect x="495.2" y="83.8" width="2" height="2" fill="#52da52"/>
<rect x="495.0" y="87.1" width="2" height="2" fill="#52da52"/>
<rect x="495.0" y="99.3" width="2" height="2" fill="#1c1c70"/>
<rect x="497.4" y="69.4" width="2" height="2" fill="#52da52"/>
<rect x="497.2" y="85.4" width="2" height="2" fill="#3e5e46"/>
<rect x="497.5" y="91.6" width="2" height="2" fill="#3e5e46"/>
<rect x="499.4" y="70.9" width="2" height="2" fill="#52da52"/>
<rect x="499.7" y="77.2" width="2" height="2" fill="#1c1c70"/>
<rect x="499.4" y="86.5" width="2" height="2" fill="#52da52"/>
<rect x="499.4" y="92.6" width="2" height="2" fill="#52da52"/>
<rect x="499.4" y="96.1" width="2" height="2" fill="#52da52"/>
<rect x="499.6" y="99.1" width="2" height="2" fill="#3e5e46"/>
<rect x="501.4" y="78.8" width="2" height="2" fill="#3e5e46"/>
<rect x="501.5" y="87.7" width="2" height="2" fill="#1c1c70"/>
<rect x="501.4" y="90.8" width="2" height="2" fill="#1c1c70"/>
<rect x="501.7" y="94.2" width="2" height="2" fill="#1c1c70"/>
<rect x="503.6" y="83.3" width="2" height="2" fill="#52da52"/>
<rect x="503.6" y="89.5" width="2" height="2" fill="#52da52"/>
<rect x="506.0" y="84.3" width="2" height="2" fill="#1c1c70"/>
<rect x="516.9" y="72.5" width="2" height="2" fill="#6a966a"/>
<rect x="518.8" y="72.1" width="2" height="2" fill="#52da52"/>
<rect x="524.6" y="72.4" width="2" height="2" fill="#6a966a"/>
<rect x="516.8" y="75.4" width="2" height="2" fill="#3e5e46"/>
<rect x="519.5" y="75.1" width="2" height="2" fill="#1c1c70"/>
<rect x="522.2" y="75.4" width="2" height="2" fill="#3e5e46"/>
<rect x="524.8" y="74.8" width="2" height="2" fill="#3e5e46"/>
<rect x="527.8" y="75.0" width="2" height="2" fill="#52da52"/>
<rect x="519.3" y="78.2" width="2" height="2" fill="#6a966a"/>
<rect x="522.2" y="78.2" width="2" height="2" fill="#1c1c70"/>
<rect x="524.8" y="77.7" width="2" height="2" fill="#6a966a"/>
<rect x="530.0" y="77.5" width="2" height="2" fill="#6a966a"/>
<rect x="513.8" y="80.7" width="2" height="2" fill="#1c1c70"/>
<rect x="516.7" y="80.2" width="2" height="2" fill="#1c1c70"/>
<rect x="519.2" y="80.3" width="2" height="2" fill="#1c1c70"/>
<rect x="524.5" y="80.3" width="2" height="2" fill="#1c1c70"/>
<rect x="516.2" y="83.4" width="2" height="2" fill="#6a966a"/>
<rect x="519.0" y="83.6" width="2" height="2" fill="#3e5e46"/>
<rect x="522.3" y="83.0" width="2" height="2" fill="#6a966a"/>
<rect x="530.0" y="83.5" width="2" height="2" fill="#52da52"/>
<rect x="533.3" y="83.3" width="2" height="2" fill="#1c1c70"/>
<rect x="513.7" y="85.5" width="2" height="2" fill="#6a966a"/>
<rect x="516.7" y="85.4" width="2" height="2" fill="#52da52"/>
<rect x="521.6" y="86.1" width="2" height="2" fill="#52da52"/>
<rect x="530.2" y="86.0" width="2" height="2" fill="#3e5e46"/>
<rect x="532.6" y="85.4" width="2" height="2" fill="#1c1c70"/>
<rect x="513.9" y="88.8" width="2" height="2" fill="#6a966a"/>
<rect x="516.3" y="88.9" width="2" height="2" fill="#52da52"/>
<rect x="519.7" y="88.5" width="2" height="2" fill="#3e5e46"/>
<rect x="522.2" y="88.5" width="2" height="2" fill="#52da52"/>
<rect x="527.0" y="88.4" width="2" height="2" fill="#52da52"/>
<rect x="532.8" y="88.1" width="2" height="2" fill="#52da52"/>
<rect x="514.0" y="91.4" width="2" height="2" fill="#52da52"/>
<rect x="516.7" y="91.4" width="2" height="2" fill="#3e5e46"/>
<rect x="521.6" y="91.3" width="2" height="2" fill="#3e5e46"/>
<rect x="524.2" y="91.4" width="2" height="2" fill="#52da52"/>
<rect x="533.2" y="90.7" width="2" height="2" fill="#6a966a"/>
<rect x="516.8" y="93.7" width="2" height="2" fill="#6a966a"/>
<rect x="521.9" y="93.8" width="2" height="2" fill="#1c1c70"/>
<rect x="524.6" y="93.9" width="2" height="2" fill="#1c1c70"/>
<rect x="527.4" y="94.4" width="2" height="2" fill="#6a966a"/>
<rect x="518.9" y="97.1" width="2" height="2" fill="#1c1c70"/>
<rect x="522.2" y="97.0" width="2" height="2" fill="#52da52"/>
<rect x="524.3" y="96.1" width="2" height="2" fill="#1c1c70"/>
<rect x="530.4" y="97.0" width="2" height="2" fill="#1c1c70"/>
<rect x="522.2" y="99.5" width="2" height="2" fill="#3e5e46"/>
<rect x="539.6" y="74.6" width="2" height="2" fill="#6a966a"/>
<rect x="542.2" y="73.9" width="2" height="2" fill="#1c1c70"/>
<rect x="548.0" y="74.4" width="2" height="2" fill="#1c1c70"/>
<rect x="536.4" y="76.5" width="2" height="2" fill="#52da52"/>
<rect x="548.0" y="76.9" width="2" height="2" fill="#1c1c70"/>
<rect x="536.8" y="79.8" width="2" height="2" fill="#6a966a"/>
<rect x="544.6" y="79.7" width="2" height="2" fill="#1c1c70"/>
<rect x="536.5" y="82.9" width="2" height="2" fill="#6a966a"/>
<rect x="539.6" y="82.2" width="2" height="2" fill="#1c1c70"/>
<rect x="544.9" y="82.6" width="2" height="2" fill="#1c1c70"/>
<rect x="550.5" y="82.6" width="2" height="2" fill="#1c1c70"/>
<rect x="537.3" y="84.7" width="2" height="2" fill="#1c1c70"/>
<rect x="539.8" y="85.2" width="2" height="2" fill="#6a966a"/>
<rect x="542.0" y="85.5" width="2" height="2" fill="#3e5e46"/>
<rect x="545.4" y="85.3" width="2" height="2" fill="#1c1c70"/>
<rect x="547.6" y="85.2" width="2" height="2" fill="#1c1c70"/>
<rect x="537.3" y="88.1" width="2" height="2" fill="#52da52"/>
<rect x="542.5" y="88.1" width="2" height="2" fill="#6a966a"/>
<rect x="545.3" y="87.9" width="2" height="2" fill="#1c1c70"/>
<rect x="547.6" y="88.0" width="2" height="2" fill="#1c1c70"/>
<rect x="544.8" y="90.2" width="2" height="2" fill="#1c1c70"/>
<rect x="521.5" y="66.1" width="2" height="2" fill="#1c1c70"/>
<rect x="521.5" y="69.4" width="2" height="2" fill="#1c1c70"/>
<rect x="521.5" y="72.7" width="2" height="2" fill="#1c1c70"/>
<rect x="521.5" y="76.0" width="2" height="2" fill="#1c1c70"/>
<rect x="521.5" y="79.3" width="2" height="2" fill="#1c1c70"/>
<rect x="521.5" y="82.6" width="2" height="2" fill="#1c1c70"/>
<rect x="521.5" y="85.9" width="2" height="2" fill="#1c1c70"/>
<rect x="521.5" y="89.2" width="2" height="2" fill="#1c1c70"/>
<rect x="521.5" y="92.5" width="2" height="2" fill="#1c1c70"/>
<rect x="521.5" y="95.8" width="2" height="2" fill="#1c1c70"/>
<rect x="521.5" y="99.1" width="2" height="2" fill="#1c1c70"/>
<rect x="521.5" y="102.4" width="2" height="2" fill="#1c1c70"/>
<rect x="521.5" y="105.7" width="2" height="2" fill="#1c1c70"/>
<defs><linearGradient id="cbg" x1="0" y1="0" x2="0" y2="1"><stop offset="0" stop-color="#ff0000"/><stop offset="0.275" stop-color="#f80012"/><stop offset="0.335" stop-color="#a00a60"/><stop offset="0.395" stop-color="#12048e"/><stop offset="0.567" stop-color="#040484"/><stop offset="0.643" stop-color="#505a84"/><stop offset="0.72" stop-color="#34e034"/><stop offset="0.77" stop-color="#10fc10"/><stop offset="1" stop-color="#00ff00"/></linearGradient></defs>
<rect x="621.0" y="115.8" width="26.50" height="130.80" fill="url(#cbg)"/>
<line x1="621.0" x2="625.0" y1="118.75" y2="118.75" stroke="#ffffff" stroke-opacity="0.6" stroke-width="1"/>
<line x1="643.5" x2="647.5" y1="118.75" y2="118.75" stroke="#ffffff" stroke-opacity="0.6" stroke-width="1"/>
<text x="650.6" y="124.60" font-family='"Liberation Sans", sans-serif' font-size="13">750</text>
<line x1="621.0" x2="625.0" y1="139.70" y2="139.70" stroke="#ffffff" stroke-opacity="0.6" stroke-width="1"/>
<line x1="643.5" x2="647.5" y1="139.70" y2="139.70" stroke="#ffffff" stroke-opacity="0.6" stroke-width="1"/>
<text x="650.6" y="145.38" font-family='"Liberation Sans", sans-serif' font-size="13">650</text>
<line x1="621.0" x2="625.0" y1="160.65" y2="160.65" stroke="#ffffff" stroke-opacity="0.6" stroke-width="1"/>
<line x1="643.5" x2="647.5" y1="160.65" y2="160.65" stroke="#ffffff" stroke-opacity="0.6" stroke-width="1"/>
<text x="650.6" y="166.16" font-family='"Liberation Sans", sans-serif' font-size="13">550</text>
<line x1="621.0" x2="625.0" y1="181.60" y2="181.60" stroke="#ffffff" stroke-opacity="0.6" stroke-width="1"/>
<line x1="643.5" x2="647.5" y1="181.60" y2="181.60" stroke="#ffffff" stroke-opacity="0.6" stroke-width="1"/>
<text x="650.6" y="186.94" font-family='"Liberation Sans", sans-serif' font-size="13">450</text>
<line x1="621.0" x2="625.0" y1="202.55" y2="202.55" stroke="#ffffff" stroke-opacity="0.6" stroke-width="1"/>
<line x1="643.5" x2="647.5" y1="202.55" y2="202.55" stroke="#ffffff" stroke-opacity="0.6" stroke-width="1"/>
<text x="650.6" y="207.72" font-family='"Liberation Sans", sans-serif' font-size="13">350</text>
<line x1="621.0" x2="625.0" y1="223.50" y2="223.50" stroke="#ffffff" stroke-opacity="0.6" stroke-width="1"/>
<line x1="643.5" x2="647.5" y1="223.50" y2="223.50" stroke="#ffffff" stroke-opacity="0.6" stroke-width="1"/>
<text x="650.6" y="228.50" font-family='"Liberation Sans", sans-serif' font-size="13">250</text>
<text x="650.6" y="249.28" font-family='"Liberation Sans", sans-serif' font-size="13">150</text>
<text transform="translate(620.5,111.4) scale(1.15,1)" font-family='"Liberation Sans", sans-serif' font-weight="bold" font-size="14.4">MW</text>
</svg>
</body></html>
